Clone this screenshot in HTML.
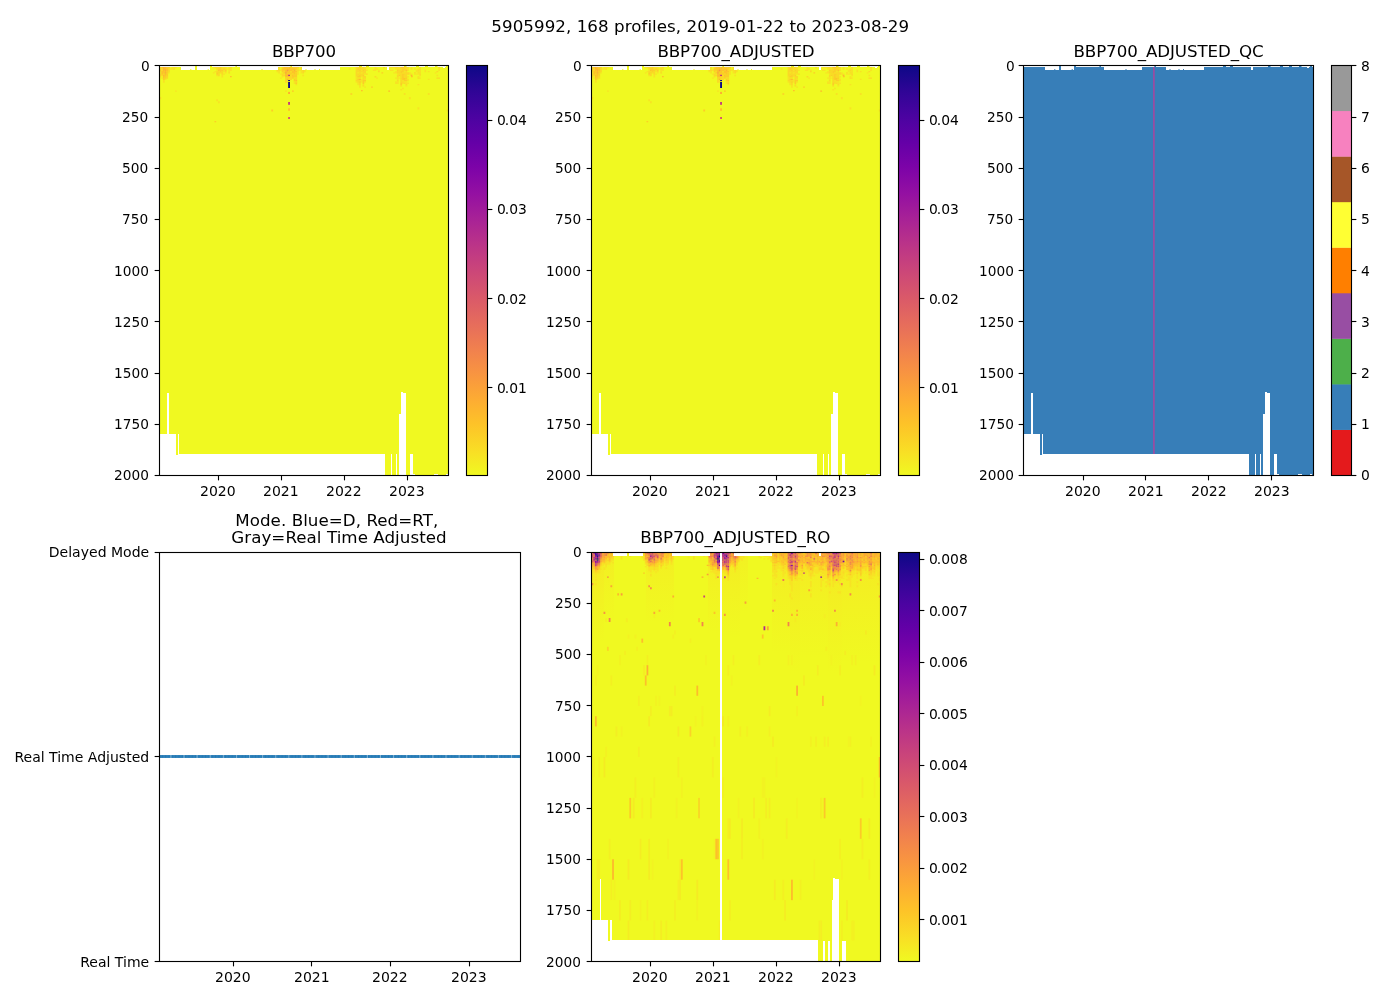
<!DOCTYPE html>
<html><head><meta charset="utf-8"><title>5905992 BBP700</title>
<style>html,body{margin:0;padding:0;background:#fff}svg{display:block}text{font-family:"DejaVu Sans","Liberation Sans",sans-serif;fill:#000}.t{font-size:13.89px}.d{font-size:13.7px}.y{font-size:14px}.m{font-size:14.03px}.T{font-size:16.67px;letter-spacing:-0.08px}.S{font-size:16.7px;letter-spacing:0.05px}</style></head><body>
<svg width="1400" height="1000" viewBox="0 0 1400 1000">
<defs><linearGradient id="pl" x1="0" y1="1" x2="0" y2="0"><stop offset="0.0000" stop-color="#f0f921"/><stop offset="0.0625" stop-color="#f9dd25"/><stop offset="0.1250" stop-color="#fdc328"/><stop offset="0.1875" stop-color="#fdab33"/><stop offset="0.2500" stop-color="#f89441"/><stop offset="0.3125" stop-color="#f07f4f"/><stop offset="0.3750" stop-color="#e56b5d"/><stop offset="0.4375" stop-color="#d9586a"/><stop offset="0.5000" stop-color="#cb4679"/><stop offset="0.5625" stop-color="#bb3488"/><stop offset="0.6250" stop-color="#a82296"/><stop offset="0.6875" stop-color="#9410a2"/><stop offset="0.7500" stop-color="#7d03a8"/><stop offset="0.8125" stop-color="#6400a7"/><stop offset="0.8750" stop-color="#4b03a1"/><stop offset="0.9375" stop-color="#2f0596"/><stop offset="1.0000" stop-color="#0d0887"/></linearGradient>
<linearGradient id="go" x1="0" y1="0" x2="0" y2="1"><stop offset="0" stop-color="#fdb42f" stop-opacity="1"/><stop offset="0.45" stop-color="#fdb42f" stop-opacity="0.45"/><stop offset="1" stop-color="#fdb42f" stop-opacity="0"/></linearGradient>
<linearGradient id="gp" x1="0" y1="0" x2="0" y2="1"><stop offset="0" stop-color="#d9586a" stop-opacity="1"/><stop offset="0.45" stop-color="#d9586a" stop-opacity="0.45"/><stop offset="1" stop-color="#d9586a" stop-opacity="0"/></linearGradient>
<linearGradient id="gv" x1="0" y1="0" x2="0" y2="1"><stop offset="0" stop-color="#9410a2" stop-opacity="1"/><stop offset="0.45" stop-color="#9410a2" stop-opacity="0.45"/><stop offset="1" stop-color="#9410a2" stop-opacity="0"/></linearGradient>
<linearGradient id="gy" x1="0" y1="0" x2="0" y2="1"><stop offset="0" stop-color="#f9dd25" stop-opacity="1"/><stop offset="0.45" stop-color="#f9dd25" stop-opacity="0.45"/><stop offset="1" stop-color="#f9dd25" stop-opacity="0"/></linearGradient>
</defs>
<rect width="1400" height="1000" fill="#fff"/>
<text class="S" x="700.2" y="32" text-anchor="middle">5905992, 168 profiles, 2019-01-22 to 2023-08-29</text>
<rect x="159.5" y="67" width="289" height="408.5" fill="#f0f921"/>
<path fill="#f7e324" d="M159.5 72.2h1.77v1.35h-1.77zM159.5 76.1h1.77v1.35h-1.77zM159.5 97.1h1.77v2.1h-1.77zM161.22 77.4h1.77v1.35h-1.77zM162.94 80h1.77v1.35h-1.77zM162.94 81.3h1.77v1.35h-1.77zM164.66 78.7h1.77v1.35h-1.77zM168.1 72.2h1.77v1.35h-1.77zM169.82 68.3h1.77v1.35h-1.77zM171.54 67h1.77v1.35h-1.77zM171.54 68.3h1.77v1.35h-1.77zM173.26 67h1.77v1.35h-1.77zM174.98 67h1.77v1.35h-1.77zM174.98 90.4h1.77v1.35h-1.77zM212.83 67h1.77v1.35h-1.77zM212.83 72.2h1.77v1.35h-1.77zM214.55 70.9h1.77v1.35h-1.77zM216.27 69.6h1.77v1.35h-1.77zM216.27 74.8h1.77v1.35h-1.77zM216.27 99.15h1.77v2.1h-1.77zM217.99 101.2h1.77v2.1h-1.77zM221.43 67h1.77v1.35h-1.77zM221.43 74.8h1.77v1.35h-1.77zM221.43 76.1h1.77v1.35h-1.77zM223.15 67h1.77v1.35h-1.77zM223.15 69.6h1.77v1.35h-1.77zM223.15 70.9h1.77v1.35h-1.77zM223.15 73.5h1.77v1.35h-1.77zM224.87 67h1.77v1.35h-1.77zM224.87 72.2h1.77v1.35h-1.77zM226.59 68.3h1.77v1.35h-1.77zM228.31 67h1.77v1.35h-1.77zM228.31 69.6h1.77v1.35h-1.77zM228.31 70.9h1.77v1.35h-1.77zM230.03 68.3h1.77v1.35h-1.77zM230.03 69.6h1.77v1.35h-1.77zM276.48 68.3h1.77v1.35h-1.77zM276.48 70.9h1.77v1.35h-1.77zM278.2 68.3h1.77v1.35h-1.77zM278.2 70.9h1.77v1.35h-1.77zM278.2 72.2h1.77v1.35h-1.77zM279.92 69.6h1.77v1.35h-1.77zM279.92 73.5h1.77v1.35h-1.77zM279.92 77.4h1.77v1.35h-1.77zM281.64 72.2h1.77v1.35h-1.77zM281.64 76.1h1.77v1.35h-1.77zM283.36 73.5h1.77v1.35h-1.77zM285.08 90.4h1.77v1.35h-1.77zM286.8 80h1.77v1.35h-1.77zM286.8 81.3h1.77v1.35h-1.77zM293.68 81.3h1.77v1.35h-1.77zM293.68 82.6h1.77v1.35h-1.77zM295.4 83.9h1.77v1.35h-1.77zM297.12 68.3h1.77v1.35h-1.77zM297.12 70.9h1.77v1.35h-1.77zM297.12 72.2h1.77v1.35h-1.77zM297.12 73.5h1.77v1.35h-1.77zM298.84 69.6h1.77v1.35h-1.77zM300.56 68.3h1.77v1.35h-1.77zM300.56 69.6h1.77v1.35h-1.77zM300.56 70.9h1.77v1.35h-1.77zM300.56 72.2h1.77v1.35h-1.77zM302.28 68.3h1.77v1.35h-1.77zM302.28 74.8h1.77v1.35h-1.77zM304 69.6h1.77v1.35h-1.77zM304 70.9h1.77v1.35h-1.77zM348.73 68.3h1.77v1.35h-1.77zM355.61 76.1h1.77v1.35h-1.77zM355.61 77.4h1.77v1.35h-1.77zM355.61 78.7h1.77v1.35h-1.77zM355.61 81.3h1.77v1.35h-1.77zM357.33 72.2h1.77v1.35h-1.77zM357.33 82.6h1.77v1.35h-1.77zM357.33 83.9h1.77v1.35h-1.77zM359.05 77.4h1.77v1.35h-1.77zM359.05 85.2h1.77v1.35h-1.77zM359.05 86.5h1.77v1.35h-1.77zM360.77 69.6h1.77v1.35h-1.77zM360.77 72.2h1.77v1.35h-1.77zM360.77 76.1h1.77v1.35h-1.77zM360.77 78.7h1.77v1.35h-1.77zM360.77 80h1.77v1.35h-1.77zM360.77 81.3h1.77v1.35h-1.77zM362.49 83.9h1.77v1.35h-1.77zM364.21 67h1.77v1.35h-1.77zM364.21 73.5h1.77v1.35h-1.77zM364.21 78.7h1.77v1.35h-1.77zM364.21 81.3h1.77v1.35h-1.77zM364.21 86.5h1.77v1.35h-1.77zM365.93 67h1.77v1.35h-1.77zM365.93 69.6h1.77v1.35h-1.77zM372.81 69.6h1.77v1.35h-1.77zM374.53 67h1.77v1.35h-1.77zM374.53 68.3h1.77v1.35h-1.77zM374.53 69.6h1.77v1.35h-1.77zM376.25 68.3h1.77v1.35h-1.77zM376.25 77.4h1.77v1.35h-1.77zM377.97 69.6h1.77v1.35h-1.77zM388.29 68.3h1.77v1.35h-1.77zM390.01 67h1.77v1.35h-1.77zM390.01 69.6h1.77v1.35h-1.77zM391.73 67h1.77v1.35h-1.77zM391.73 69.6h1.77v1.35h-1.77zM393.45 67h1.77v1.35h-1.77zM393.45 72.2h1.77v1.35h-1.77zM395.17 68.3h1.77v1.35h-1.77zM395.17 70.9h1.77v1.35h-1.77zM395.17 72.2h1.77v1.35h-1.77zM395.17 77.4h1.77v1.35h-1.77zM395.17 81.3h1.77v1.35h-1.77zM395.17 82.6h1.77v1.35h-1.77zM396.89 68.3h1.77v1.35h-1.77zM396.89 73.5h1.77v1.35h-1.77zM396.89 77.4h1.77v1.35h-1.77zM396.89 78.7h1.77v1.35h-1.77zM396.89 81.3h1.77v1.35h-1.77zM396.89 82.6h1.77v1.35h-1.77zM398.61 67h1.77v1.35h-1.77zM398.61 68.3h1.77v1.35h-1.77zM398.61 77.4h1.77v1.35h-1.77zM400.33 89.1h1.77v1.35h-1.77zM402.05 80h1.77v1.35h-1.77zM402.05 82.6h1.77v1.35h-1.77zM402.05 87.8h1.77v1.35h-1.77zM403.77 70.9h1.77v1.35h-1.77zM403.77 81.3h1.77v1.35h-1.77zM403.77 93h1.77v2.1h-1.77zM405.49 81.3h1.77v1.35h-1.77zM405.49 82.6h1.77v1.35h-1.77zM405.49 85.2h1.77v1.35h-1.77zM407.21 68.3h1.77v1.35h-1.77zM407.21 69.6h1.77v1.35h-1.77zM407.21 76.1h1.77v1.35h-1.77zM407.21 78.7h1.77v1.35h-1.77zM407.21 80h1.77v1.35h-1.77zM407.21 82.6h1.77v1.35h-1.77zM408.93 72.2h1.77v1.35h-1.77zM408.93 73.5h1.77v1.35h-1.77zM408.93 97.1h1.77v2.1h-1.77zM410.65 67h1.77v1.35h-1.77zM410.65 68.3h1.77v1.35h-1.77zM410.65 73.5h1.77v1.35h-1.77zM414.1 68.3h1.77v1.35h-1.77zM414.1 73.5h1.77v1.35h-1.77zM415.82 69.6h1.77v1.35h-1.77zM415.82 70.9h1.77v1.35h-1.77zM415.82 73.5h1.77v1.35h-1.77zM417.54 68.3h1.77v1.35h-1.77zM417.54 70.9h1.77v1.35h-1.77zM417.54 73.5h1.77v1.35h-1.77zM417.54 76.1h1.77v1.35h-1.77zM417.54 83.9h1.77v1.35h-1.77zM417.54 107.35h1.77v2.1h-1.77zM419.26 68.3h1.77v1.35h-1.77zM419.26 69.6h1.77v1.35h-1.77zM419.26 70.9h1.77v1.35h-1.77zM419.26 72.2h1.77v1.35h-1.77zM419.26 74.8h1.77v1.35h-1.77zM419.26 77.4h1.77v1.35h-1.77zM424.42 69.6h1.77v1.35h-1.77zM424.42 70.9h1.77v1.35h-1.77zM427.86 70.9h1.77v1.35h-1.77zM427.86 78.7h1.77v1.35h-1.77zM427.86 93h1.77v2.1h-1.77zM434.74 72.2h1.77v1.35h-1.77zM436.46 74.8h1.77v1.35h-1.77zM438.18 68.3h1.77v1.35h-1.77zM438.18 69.6h1.77v1.35h-1.77zM446.78 109.4h1.77v2.1h-1.77z"/>
<path fill="#fad826" d="M159.5 67h1.77v1.35h-1.77zM159.5 70.9h1.77v1.35h-1.77zM159.5 73.5h1.77v1.35h-1.77zM159.5 74.8h1.77v1.35h-1.77zM161.22 68.3h1.77v1.35h-1.77zM161.22 69.6h1.77v1.35h-1.77zM161.22 74.8h1.77v1.35h-1.77zM166.38 76.1h1.77v1.35h-1.77zM166.38 77.4h1.77v1.35h-1.77zM168.1 68.3h1.77v1.35h-1.77zM168.1 69.6h1.77v1.35h-1.77zM168.1 70.9h1.77v1.35h-1.77zM173.26 68.3h1.77v1.35h-1.77zM214.55 67h1.77v1.35h-1.77zM216.27 67h1.77v1.35h-1.77zM216.27 68.3h1.77v1.35h-1.77zM216.27 70.9h1.77v1.35h-1.77zM217.99 67h1.77v1.35h-1.77zM217.99 70.9h1.77v1.35h-1.77zM217.99 73.5h1.77v1.35h-1.77zM217.99 74.8h1.77v1.35h-1.77zM219.71 72.2h1.77v1.35h-1.77zM221.43 68.3h1.77v1.35h-1.77zM221.43 70.9h1.77v1.35h-1.77zM221.43 72.2h1.77v1.35h-1.77zM221.43 73.5h1.77v1.35h-1.77zM224.87 68.3h1.77v1.35h-1.77zM224.87 70.9h1.77v1.35h-1.77zM228.31 68.3h1.77v1.35h-1.77zM228.31 72.2h1.77v1.35h-1.77zM230.03 67h1.77v1.35h-1.77zM276.48 69.6h1.77v1.35h-1.77zM278.2 67h1.77v1.35h-1.77zM278.2 69.6h1.77v1.35h-1.77zM281.64 67h1.77v1.35h-1.77zM281.64 73.5h1.77v1.35h-1.77zM281.64 74.8h1.77v1.35h-1.77zM283.36 70.9h1.77v1.35h-1.77zM283.36 74.8h1.77v1.35h-1.77zM285.08 78.7h1.77v1.35h-1.77zM285.08 80h1.77v1.35h-1.77zM285.08 81.3h1.77v1.35h-1.77zM288.52 78.7h1.77v1.35h-1.77zM288.52 80h1.77v1.35h-1.77zM290.24 70.9h1.77v1.35h-1.77zM290.24 74.8h1.77v1.35h-1.77zM290.24 76.1h1.77v1.35h-1.77zM290.24 77.4h1.77v1.35h-1.77zM290.24 78.7h1.77v1.35h-1.77zM293.68 77.4h1.77v1.35h-1.77zM295.4 69.6h1.77v1.35h-1.77zM295.4 77.4h1.77v1.35h-1.77zM295.4 78.7h1.77v1.35h-1.77zM295.4 81.3h1.77v1.35h-1.77zM297.12 69.6h1.77v1.35h-1.77zM300.56 67h1.77v1.35h-1.77zM302.28 67h1.77v1.35h-1.77zM302.28 69.6h1.77v1.35h-1.77zM302.28 70.9h1.77v1.35h-1.77zM302.28 72.2h1.77v1.35h-1.77zM350.45 93h1.77v2.1h-1.77zM355.61 67h1.77v1.35h-1.77zM355.61 68.3h1.77v1.35h-1.77zM355.61 69.6h1.77v1.35h-1.77zM355.61 70.9h1.77v1.35h-1.77zM355.61 72.2h1.77v1.35h-1.77zM355.61 73.5h1.77v1.35h-1.77zM355.61 74.8h1.77v1.35h-1.77zM355.61 80h1.77v1.35h-1.77zM357.33 67h1.77v1.35h-1.77zM357.33 69.6h1.77v1.35h-1.77zM357.33 70.9h1.77v1.35h-1.77zM357.33 74.8h1.77v1.35h-1.77zM357.33 77.4h1.77v1.35h-1.77zM357.33 80h1.77v1.35h-1.77zM357.33 81.3h1.77v1.35h-1.77zM359.05 68.3h1.77v1.35h-1.77zM359.05 70.9h1.77v1.35h-1.77zM359.05 72.2h1.77v1.35h-1.77zM359.05 73.5h1.77v1.35h-1.77zM359.05 80h1.77v1.35h-1.77zM359.05 82.6h1.77v1.35h-1.77zM359.05 83.9h1.77v1.35h-1.77zM360.77 67h1.77v1.35h-1.77zM360.77 68.3h1.77v1.35h-1.77zM360.77 70.9h1.77v1.35h-1.77zM360.77 73.5h1.77v1.35h-1.77zM360.77 74.8h1.77v1.35h-1.77zM362.49 68.3h1.77v1.35h-1.77zM362.49 70.9h1.77v1.35h-1.77zM362.49 72.2h1.77v1.35h-1.77zM362.49 73.5h1.77v1.35h-1.77zM362.49 76.1h1.77v1.35h-1.77zM362.49 77.4h1.77v1.35h-1.77zM362.49 78.7h1.77v1.35h-1.77zM362.49 85.2h1.77v1.35h-1.77zM364.21 68.3h1.77v1.35h-1.77zM364.21 69.6h1.77v1.35h-1.77zM364.21 70.9h1.77v1.35h-1.77zM364.21 72.2h1.77v1.35h-1.77zM364.21 76.1h1.77v1.35h-1.77zM364.21 77.4h1.77v1.35h-1.77zM365.93 73.5h1.77v1.35h-1.77zM374.53 76.1h1.77v1.35h-1.77zM377.97 70.9h1.77v1.35h-1.77zM383.13 67h1.77v1.35h-1.77zM395.17 67h1.77v1.35h-1.77zM396.89 67h1.77v1.35h-1.77zM396.89 70.9h1.77v1.35h-1.77zM396.89 74.8h1.77v1.35h-1.77zM396.89 76.1h1.77v1.35h-1.77zM396.89 80h1.77v1.35h-1.77zM398.61 69.6h1.77v1.35h-1.77zM398.61 70.9h1.77v1.35h-1.77zM398.61 72.2h1.77v1.35h-1.77zM398.61 73.5h1.77v1.35h-1.77zM400.33 68.3h1.77v1.35h-1.77zM400.33 69.6h1.77v1.35h-1.77zM400.33 73.5h1.77v1.35h-1.77zM400.33 74.8h1.77v1.35h-1.77zM400.33 76.1h1.77v1.35h-1.77zM400.33 78.7h1.77v1.35h-1.77zM400.33 80h1.77v1.35h-1.77zM400.33 81.3h1.77v1.35h-1.77zM400.33 85.2h1.77v1.35h-1.77zM402.05 72.2h1.77v1.35h-1.77zM402.05 81.3h1.77v1.35h-1.77zM403.77 69.6h1.77v1.35h-1.77zM403.77 72.2h1.77v1.35h-1.77zM403.77 74.8h1.77v1.35h-1.77zM403.77 76.1h1.77v1.35h-1.77zM403.77 82.6h1.77v1.35h-1.77zM405.49 68.3h1.77v1.35h-1.77zM405.49 70.9h1.77v1.35h-1.77zM405.49 72.2h1.77v1.35h-1.77zM405.49 73.5h1.77v1.35h-1.77zM405.49 74.8h1.77v1.35h-1.77zM405.49 76.1h1.77v1.35h-1.77zM405.49 78.7h1.77v1.35h-1.77zM405.49 83.9h1.77v1.35h-1.77zM407.21 67h1.77v1.35h-1.77zM407.21 72.2h1.77v1.35h-1.77zM407.21 73.5h1.77v1.35h-1.77zM414.1 72.2h1.77v1.35h-1.77zM417.54 69.6h1.77v1.35h-1.77zM417.54 72.2h1.77v1.35h-1.77zM417.54 77.4h1.77v1.35h-1.77zM419.26 67h1.77v1.35h-1.77zM419.26 73.5h1.77v1.35h-1.77zM436.46 70.9h1.77v1.35h-1.77zM436.46 77.4h1.77v1.35h-1.77zM438.18 67h1.77v1.35h-1.77zM438.18 77.4h1.77v1.35h-1.77z"/>
<path fill="#fbcd27" d="M159.5 68.3h1.77v1.35h-1.77zM159.5 69.6h1.77v1.35h-1.77zM162.94 73.5h1.77v1.35h-1.77zM162.94 78.7h1.77v1.35h-1.77zM164.66 76.1h1.77v1.35h-1.77zM164.66 77.4h1.77v1.35h-1.77zM166.38 67h1.77v1.35h-1.77zM166.38 70.9h1.77v1.35h-1.77zM166.38 73.5h1.77v1.35h-1.77zM166.38 74.8h1.77v1.35h-1.77zM168.1 67h1.77v1.35h-1.77zM216.27 72.2h1.77v1.35h-1.77zM216.27 73.5h1.77v1.35h-1.77zM217.99 68.3h1.77v1.35h-1.77zM217.99 72.2h1.77v1.35h-1.77zM219.71 67h1.77v1.35h-1.77zM219.71 68.3h1.77v1.35h-1.77zM219.71 69.6h1.77v1.35h-1.77zM219.71 70.9h1.77v1.35h-1.77zM221.43 69.6h1.77v1.35h-1.77zM223.15 68.3h1.77v1.35h-1.77zM224.87 69.6h1.77v1.35h-1.77zM271.32 109.4h1.77v2.1h-1.77zM281.64 69.6h1.77v1.35h-1.77zM281.64 70.9h1.77v1.35h-1.77zM283.36 69.6h1.77v1.35h-1.77zM285.08 77.4h1.77v1.35h-1.77zM286.8 77.4h1.77v1.35h-1.77zM288.52 74.8h1.77v1.35h-1.77zM288.52 77.4h1.77v1.35h-1.77zM290.24 72.2h1.77v1.35h-1.77zM290.24 73.5h1.77v1.35h-1.77zM291.96 67h1.77v1.35h-1.77zM291.96 69.6h1.77v1.35h-1.77zM291.96 73.5h1.77v1.35h-1.77zM291.96 76.1h1.77v1.35h-1.77zM291.96 77.4h1.77v1.35h-1.77zM293.68 67h1.77v1.35h-1.77zM293.68 74.8h1.77v1.35h-1.77zM293.68 76.1h1.77v1.35h-1.77zM293.68 78.7h1.77v1.35h-1.77zM293.68 80h1.77v1.35h-1.77zM295.4 67h1.77v1.35h-1.77zM295.4 68.3h1.77v1.35h-1.77zM295.4 72.2h1.77v1.35h-1.77zM295.4 73.5h1.77v1.35h-1.77zM295.4 74.8h1.77v1.35h-1.77zM295.4 76.1h1.77v1.35h-1.77zM295.4 82.6h1.77v1.35h-1.77zM297.12 67h1.77v1.35h-1.77zM357.33 73.5h1.77v1.35h-1.77zM357.33 76.1h1.77v1.35h-1.77zM357.33 78.7h1.77v1.35h-1.77zM359.05 69.6h1.77v1.35h-1.77zM359.05 74.8h1.77v1.35h-1.77zM359.05 76.1h1.77v1.35h-1.77zM359.05 81.3h1.77v1.35h-1.77zM362.49 67h1.77v1.35h-1.77zM362.49 69.6h1.77v1.35h-1.77zM362.49 74.8h1.77v1.35h-1.77zM362.49 80h1.77v1.35h-1.77zM362.49 81.3h1.77v1.35h-1.77zM362.49 82.6h1.77v1.35h-1.77zM364.21 80h1.77v1.35h-1.77zM371.09 86.5h1.77v1.35h-1.77zM381.41 72.2h1.77v1.35h-1.77zM396.89 69.6h1.77v1.35h-1.77zM396.89 72.2h1.77v1.35h-1.77zM398.61 74.8h1.77v1.35h-1.77zM400.33 70.9h1.77v1.35h-1.77zM400.33 72.2h1.77v1.35h-1.77zM400.33 77.4h1.77v1.35h-1.77zM400.33 82.6h1.77v1.35h-1.77zM400.33 83.9h1.77v1.35h-1.77zM402.05 68.3h1.77v1.35h-1.77zM402.05 69.6h1.77v1.35h-1.77zM402.05 70.9h1.77v1.35h-1.77zM402.05 73.5h1.77v1.35h-1.77zM402.05 74.8h1.77v1.35h-1.77zM402.05 76.1h1.77v1.35h-1.77zM402.05 77.4h1.77v1.35h-1.77zM402.05 78.7h1.77v1.35h-1.77zM403.77 68.3h1.77v1.35h-1.77zM403.77 73.5h1.77v1.35h-1.77zM403.77 77.4h1.77v1.35h-1.77zM403.77 78.7h1.77v1.35h-1.77zM403.77 80h1.77v1.35h-1.77zM405.49 67h1.77v1.35h-1.77zM405.49 80h1.77v1.35h-1.77z"/>
<path fill="#fdc328" d="M161.22 67h1.77v1.35h-1.77zM161.22 70.9h1.77v1.35h-1.77zM161.22 72.2h1.77v1.35h-1.77zM161.22 73.5h1.77v1.35h-1.77zM162.94 70.9h1.77v1.35h-1.77zM162.94 76.1h1.77v1.35h-1.77zM162.94 77.4h1.77v1.35h-1.77zM164.66 74.8h1.77v1.35h-1.77zM166.38 69.6h1.77v1.35h-1.77zM166.38 72.2h1.77v1.35h-1.77zM217.99 69.6h1.77v1.35h-1.77zM281.64 68.3h1.77v1.35h-1.77zM283.36 67h1.77v1.35h-1.77zM283.36 68.3h1.77v1.35h-1.77zM283.36 72.2h1.77v1.35h-1.77zM285.08 67h1.77v1.35h-1.77zM285.08 68.3h1.77v1.35h-1.77zM285.08 76.1h1.77v1.35h-1.77zM286.8 67h1.77v1.35h-1.77zM286.8 72.2h1.77v1.35h-1.77zM286.8 76.1h1.77v1.35h-1.77zM288.52 69.6h1.77v1.35h-1.77zM288.52 70.9h1.77v1.35h-1.77zM288.52 72.2h1.77v1.35h-1.77zM288.52 76.1h1.77v1.35h-1.77zM290.24 68.3h1.77v1.35h-1.77zM290.24 69.6h1.77v1.35h-1.77zM291.96 70.9h1.77v1.35h-1.77zM291.96 72.2h1.77v1.35h-1.77zM291.96 74.8h1.77v1.35h-1.77zM291.96 90.4h1.77v1.35h-1.77zM293.68 70.9h1.77v1.35h-1.77zM293.68 72.2h1.77v1.35h-1.77zM293.68 73.5h1.77v1.35h-1.77zM295.4 70.9h1.77v1.35h-1.77zM295.4 80h1.77v1.35h-1.77zM357.33 68.3h1.77v1.35h-1.77zM400.33 67h1.77v1.35h-1.77zM402.05 67h1.77v1.35h-1.77zM403.77 67h1.77v1.35h-1.77zM405.49 69.6h1.77v1.35h-1.77zM405.49 77.4h1.77v1.35h-1.77z"/>
<path fill="#fdb92c" d="M162.94 69.6h1.77v1.35h-1.77zM162.94 72.2h1.77v1.35h-1.77zM162.94 74.8h1.77v1.35h-1.77zM164.66 67h1.77v1.35h-1.77zM164.66 70.9h1.77v1.35h-1.77zM166.38 68.3h1.77v1.35h-1.77zM285.08 69.6h1.77v1.35h-1.77zM285.08 70.9h1.77v1.35h-1.77zM285.08 74.8h1.77v1.35h-1.77zM286.8 70.9h1.77v1.35h-1.77zM286.8 73.5h1.77v1.35h-1.77zM286.8 74.8h1.77v1.35h-1.77zM286.8 78.7h1.77v1.35h-1.77zM288.52 67h1.77v1.35h-1.77zM288.52 68.3h1.77v1.35h-1.77zM288.52 73.5h1.77v1.35h-1.77zM290.24 67h1.77v1.35h-1.77zM291.96 68.3h1.77v1.35h-1.77zM293.68 68.3h1.77v1.35h-1.77zM359.05 67h1.77v1.35h-1.77zM359.05 78.7h1.77v1.35h-1.77zM388.29 90.4h1.77v1.35h-1.77zM410.65 74.8h1.77v1.35h-1.77z"/>
<path fill="#fdb031" d="M162.94 67h1.77v1.35h-1.77zM162.94 68.3h1.77v1.35h-1.77zM164.66 68.3h1.77v1.35h-1.77zM164.66 69.6h1.77v1.35h-1.77zM164.66 73.5h1.77v1.35h-1.77zM285.08 73.5h1.77v1.35h-1.77zM286.8 68.3h1.77v1.35h-1.77zM293.68 69.6h1.77v1.35h-1.77z"/>
<path fill="#fca636" d="M164.66 72.2h1.77v1.35h-1.77z"/>
<path fill="#fa9d3b" d="M285.08 72.2h1.77v1.35h-1.77z"/>
<path fill="#f89441" d="M286.8 69.6h1.77v1.35h-1.77z"/>
<rect x="288.1" y="74.8" width="1.9" height="1.2" fill="#bd3786"/>
<rect x="288.1" y="80" width="1.9" height="1.1" fill="#0d0887"/>
<rect x="288.1" y="82" width="1.9" height="6" fill="#0d0887"/>
<rect x="288.1" y="91.9" width="1.9" height="2.1" fill="#fdae32"/>
<rect x="288.1" y="102" width="1.9" height="2.8" fill="#c43e7f"/>
<rect x="288.1" y="108.3" width="1.9" height="2.5" fill="#fdc328"/>
<rect x="288.1" y="117" width="1.9" height="2" fill="#d6556d"/>
<rect x="230" y="76" width="1.7" height="1.3" fill="#fdc328"/>
<rect x="214.5" y="121" width="1.7" height="1.3" fill="#fbd024"/>
<rect x="361" y="90" width="1.7" height="1.3" fill="#fdc328"/>
<rect x="403.5" y="78" width="1.7" height="1.3" fill="#fdc328"/>
<rect x="411" y="76" width="1.7" height="1.3" fill="#fdc328"/>
<rect x="180.9" y="66" width="14.1" height="4" fill="#fff" shape-rendering="crispEdges"/>
<rect x="197" y="66" width="13" height="4" fill="#fff" shape-rendering="crispEdges"/>
<rect x="240" y="66" width="38" height="4" fill="#fff" shape-rendering="crispEdges"/>
<rect x="301.8" y="66" width="38.2" height="4" fill="#fff" shape-rendering="crispEdges"/>
<rect x="387" y="66" width="2" height="4" fill="#fff" shape-rendering="crispEdges"/>
<rect x="442.9" y="66" width="2" height="2" fill="#fff" shape-rendering="crispEdges"/>
<rect x="195" y="66" width="2" height="1.2" fill="#f0f921"/>
<rect x="210" y="66" width="2" height="1.2" fill="#f0f921"/>
<rect x="235.4" y="66" width="1.6" height="1.2" fill="#f0f921"/>
<rect x="290.3" y="66" width="1.7" height="1.2" fill="#f0f921"/>
<rect x="359" y="66" width="3" height="1.2" fill="#f0f921"/>
<rect x="366" y="66" width="3" height="1.2" fill="#f0f921"/>
<rect x="404" y="66" width="2.5" height="1.2" fill="#f0f921"/>
<rect x="416" y="66" width="3" height="1.2" fill="#f0f921"/>
<rect x="425" y="66" width="3" height="1.2" fill="#f0f921"/>
<rect x="435" y="66" width="2.5" height="1.2" fill="#f0f921"/>
<rect x="446" y="66" width="2" height="1.2" fill="#f0f921"/>
<rect x="190.3" y="69" width="1" height="1.2" fill="#f0f921"/>
<rect x="207.7" y="69" width="1" height="1.2" fill="#f0f921"/>
<rect x="261.5" y="69" width="1" height="1.2" fill="#f0f921"/>
<rect x="305.5" y="69" width="1" height="1.2" fill="#f0f921"/>
<rect x="314.5" y="69" width="1" height="1.2" fill="#f0f921"/>
<rect x="319" y="69" width="1" height="1.2" fill="#f0f921"/>
<rect x="160" y="433.9" width="16.1" height="41.1" fill="#fff" shape-rendering="crispEdges"/>
<rect x="166.9" y="393.1" width="2.2" height="41.1" fill="#fff" shape-rendering="crispEdges"/>
<rect x="176.1" y="454.8" width="1.8" height="20.2" fill="#fff" shape-rendering="crispEdges"/>
<rect x="177.9" y="433.9" width="1.1" height="41.1" fill="#fff" shape-rendering="crispEdges"/>
<rect x="179" y="454" width="206" height="21" fill="#fff" shape-rendering="crispEdges"/>
<rect x="390.9" y="454" width="1.1" height="21" fill="#fff" shape-rendering="crispEdges"/>
<rect x="395.9" y="454" width="1.1" height="21" fill="#fff" shape-rendering="crispEdges"/>
<rect x="398.9" y="414" width="2" height="61" fill="#fff" shape-rendering="crispEdges"/>
<rect x="400.9" y="392.1" width="2.1" height="82.9" fill="#fff" shape-rendering="crispEdges"/>
<rect x="403" y="393.3" width="3.1" height="81.7" fill="#fff" shape-rendering="crispEdges"/>
<rect x="410" y="454" width="3" height="21" fill="#fff" shape-rendering="crispEdges"/>
<rect x="413" y="474" width="2" height="1" fill="#fff" shape-rendering="crispEdges"/>
<rect x="434" y="474" width="4" height="1" fill="#fff" shape-rendering="crispEdges"/>
<rect x="446" y="474" width="2" height="1" fill="#fff" shape-rendering="crispEdges"/>
<rect x="159.5" y="65.5" width="289" height="410" fill="none" stroke="#000" stroke-width="1.11"/>
<path d="M154.64 65.5L159.5 65.5" stroke="#000" stroke-width="1.11"/>
<text class="d" x="141" y="71">0</text>
<path d="M154.64 117.5L159.5 117.5" stroke="#000" stroke-width="1.11"/>
<text class="d" x="122" y="122">250</text>
<path d="M154.64 168.5L159.5 168.5" stroke="#000" stroke-width="1.11"/>
<text class="d" x="122" y="173">500</text>
<path d="M154.64 219.5L159.5 219.5" stroke="#000" stroke-width="1.11"/>
<text class="d" x="122" y="224">750</text>
<path d="M154.64 270.5L159.5 270.5" stroke="#000" stroke-width="1.11"/>
<text class="d" x="114" y="276">1000</text>
<path d="M154.64 321.5L159.5 321.5" stroke="#000" stroke-width="1.11"/>
<text class="d" x="114" y="327">1250</text>
<path d="M154.64 373.5L159.5 373.5" stroke="#000" stroke-width="1.11"/>
<text class="d" x="114" y="378">1500</text>
<path d="M154.64 424.5L159.5 424.5" stroke="#000" stroke-width="1.11"/>
<text class="d" x="114" y="429">1750</text>
<path d="M154.64 475.5L159.5 475.5" stroke="#000" stroke-width="1.11"/>
<text class="d" x="114" y="480">2000</text>
<path d="M218.5 475.5L218.5 480.36" stroke="#000" stroke-width="1.11"/>
<text class="y" x="200" y="496">2020</text>
<path d="M281.5 475.5L281.5 480.36" stroke="#000" stroke-width="1.11"/>
<text class="y" x="263" y="496">2021</text>
<path d="M344.5 475.5L344.5 480.36" stroke="#000" stroke-width="1.11"/>
<text class="y" x="326" y="496">2022</text>
<path d="M407.5 475.5L407.5 480.36" stroke="#000" stroke-width="1.11"/>
<text class="y" x="389" y="496">2023</text>
<text class="T" x="304" y="57" text-anchor="middle">BBP700</text>
<rect x="466.5" y="65.5" width="21" height="410" fill="url(#pl)"/>
<rect x="466.5" y="65.5" width="21" height="410" fill="none" stroke="#000" stroke-width="1.11"/>
<path d="M487.5 387.5L492.36 387.5" stroke="#000" stroke-width="1.11"/>
<text class="t" x="497" y="393">0<tspan dx="-1">.</tspan>01</text>
<path d="M487.5 298.5L492.36 298.5" stroke="#000" stroke-width="1.11"/>
<text class="t" x="497" y="304">0<tspan dx="-1">.</tspan>02</text>
<path d="M487.5 209.5L492.36 209.5" stroke="#000" stroke-width="1.11"/>
<text class="t" x="497" y="214">0<tspan dx="-1">.</tspan>03</text>
<path d="M487.5 120.5L492.36 120.5" stroke="#000" stroke-width="1.11"/>
<text class="t" x="497" y="125">0<tspan dx="-1">.</tspan>04</text>
<rect x="591.5" y="67" width="289" height="408.5" fill="#f0f921"/>
<path fill="#f7e324" d="M591.5 72.2h1.77v1.35h-1.77zM591.5 76.1h1.77v1.35h-1.77zM591.5 97.1h1.77v2.1h-1.77zM593.22 77.4h1.77v1.35h-1.77zM594.94 80h1.77v1.35h-1.77zM594.94 81.3h1.77v1.35h-1.77zM596.66 78.7h1.77v1.35h-1.77zM600.1 72.2h1.77v1.35h-1.77zM601.82 68.3h1.77v1.35h-1.77zM603.54 67h1.77v1.35h-1.77zM603.54 68.3h1.77v1.35h-1.77zM605.26 67h1.77v1.35h-1.77zM606.98 67h1.77v1.35h-1.77zM606.98 90.4h1.77v1.35h-1.77zM644.83 67h1.77v1.35h-1.77zM644.83 72.2h1.77v1.35h-1.77zM646.55 70.9h1.77v1.35h-1.77zM648.27 69.6h1.77v1.35h-1.77zM648.27 74.8h1.77v1.35h-1.77zM648.27 99.15h1.77v2.1h-1.77zM649.99 101.2h1.77v2.1h-1.77zM653.43 67h1.77v1.35h-1.77zM653.43 74.8h1.77v1.35h-1.77zM653.43 76.1h1.77v1.35h-1.77zM655.15 67h1.77v1.35h-1.77zM655.15 69.6h1.77v1.35h-1.77zM655.15 70.9h1.77v1.35h-1.77zM655.15 73.5h1.77v1.35h-1.77zM656.87 67h1.77v1.35h-1.77zM656.87 72.2h1.77v1.35h-1.77zM658.59 68.3h1.77v1.35h-1.77zM660.31 67h1.77v1.35h-1.77zM660.31 69.6h1.77v1.35h-1.77zM660.31 70.9h1.77v1.35h-1.77zM662.03 68.3h1.77v1.35h-1.77zM662.03 69.6h1.77v1.35h-1.77zM708.48 68.3h1.77v1.35h-1.77zM708.48 70.9h1.77v1.35h-1.77zM710.2 68.3h1.77v1.35h-1.77zM710.2 70.9h1.77v1.35h-1.77zM710.2 72.2h1.77v1.35h-1.77zM711.92 69.6h1.77v1.35h-1.77zM711.92 73.5h1.77v1.35h-1.77zM711.92 77.4h1.77v1.35h-1.77zM713.64 72.2h1.77v1.35h-1.77zM713.64 76.1h1.77v1.35h-1.77zM715.36 73.5h1.77v1.35h-1.77zM717.08 90.4h1.77v1.35h-1.77zM718.8 80h1.77v1.35h-1.77zM718.8 81.3h1.77v1.35h-1.77zM725.68 81.3h1.77v1.35h-1.77zM725.68 82.6h1.77v1.35h-1.77zM727.4 83.9h1.77v1.35h-1.77zM729.12 68.3h1.77v1.35h-1.77zM729.12 70.9h1.77v1.35h-1.77zM729.12 72.2h1.77v1.35h-1.77zM729.12 73.5h1.77v1.35h-1.77zM730.84 69.6h1.77v1.35h-1.77zM732.56 68.3h1.77v1.35h-1.77zM732.56 69.6h1.77v1.35h-1.77zM732.56 70.9h1.77v1.35h-1.77zM732.56 72.2h1.77v1.35h-1.77zM734.28 68.3h1.77v1.35h-1.77zM734.28 74.8h1.77v1.35h-1.77zM736 69.6h1.77v1.35h-1.77zM736 70.9h1.77v1.35h-1.77zM780.73 68.3h1.77v1.35h-1.77zM787.61 76.1h1.77v1.35h-1.77zM787.61 77.4h1.77v1.35h-1.77zM787.61 78.7h1.77v1.35h-1.77zM787.61 81.3h1.77v1.35h-1.77zM789.33 72.2h1.77v1.35h-1.77zM789.33 82.6h1.77v1.35h-1.77zM789.33 83.9h1.77v1.35h-1.77zM791.05 77.4h1.77v1.35h-1.77zM791.05 85.2h1.77v1.35h-1.77zM791.05 86.5h1.77v1.35h-1.77zM792.77 69.6h1.77v1.35h-1.77zM792.77 72.2h1.77v1.35h-1.77zM792.77 76.1h1.77v1.35h-1.77zM792.77 78.7h1.77v1.35h-1.77zM792.77 80h1.77v1.35h-1.77zM792.77 81.3h1.77v1.35h-1.77zM794.49 83.9h1.77v1.35h-1.77zM796.21 67h1.77v1.35h-1.77zM796.21 73.5h1.77v1.35h-1.77zM796.21 78.7h1.77v1.35h-1.77zM796.21 81.3h1.77v1.35h-1.77zM796.21 86.5h1.77v1.35h-1.77zM797.93 67h1.77v1.35h-1.77zM797.93 69.6h1.77v1.35h-1.77zM804.81 69.6h1.77v1.35h-1.77zM806.53 67h1.77v1.35h-1.77zM806.53 68.3h1.77v1.35h-1.77zM806.53 69.6h1.77v1.35h-1.77zM808.25 68.3h1.77v1.35h-1.77zM808.25 77.4h1.77v1.35h-1.77zM809.97 69.6h1.77v1.35h-1.77zM820.29 68.3h1.77v1.35h-1.77zM822.01 67h1.77v1.35h-1.77zM822.01 69.6h1.77v1.35h-1.77zM823.73 67h1.77v1.35h-1.77zM823.73 69.6h1.77v1.35h-1.77zM825.45 67h1.77v1.35h-1.77zM825.45 72.2h1.77v1.35h-1.77zM827.17 68.3h1.77v1.35h-1.77zM827.17 70.9h1.77v1.35h-1.77zM827.17 72.2h1.77v1.35h-1.77zM827.17 77.4h1.77v1.35h-1.77zM827.17 81.3h1.77v1.35h-1.77zM827.17 82.6h1.77v1.35h-1.77zM828.89 68.3h1.77v1.35h-1.77zM828.89 73.5h1.77v1.35h-1.77zM828.89 77.4h1.77v1.35h-1.77zM828.89 78.7h1.77v1.35h-1.77zM828.89 81.3h1.77v1.35h-1.77zM828.89 82.6h1.77v1.35h-1.77zM830.61 67h1.77v1.35h-1.77zM830.61 68.3h1.77v1.35h-1.77zM830.61 77.4h1.77v1.35h-1.77zM832.33 89.1h1.77v1.35h-1.77zM834.05 80h1.77v1.35h-1.77zM834.05 82.6h1.77v1.35h-1.77zM834.05 87.8h1.77v1.35h-1.77zM835.77 70.9h1.77v1.35h-1.77zM835.77 81.3h1.77v1.35h-1.77zM835.77 93h1.77v2.1h-1.77zM837.49 81.3h1.77v1.35h-1.77zM837.49 82.6h1.77v1.35h-1.77zM837.49 85.2h1.77v1.35h-1.77zM839.21 68.3h1.77v1.35h-1.77zM839.21 69.6h1.77v1.35h-1.77zM839.21 76.1h1.77v1.35h-1.77zM839.21 78.7h1.77v1.35h-1.77zM839.21 80h1.77v1.35h-1.77zM839.21 82.6h1.77v1.35h-1.77zM840.93 72.2h1.77v1.35h-1.77zM840.93 73.5h1.77v1.35h-1.77zM840.93 97.1h1.77v2.1h-1.77zM842.65 67h1.77v1.35h-1.77zM842.65 68.3h1.77v1.35h-1.77zM842.65 73.5h1.77v1.35h-1.77zM846.1 68.3h1.77v1.35h-1.77zM846.1 73.5h1.77v1.35h-1.77zM847.82 69.6h1.77v1.35h-1.77zM847.82 70.9h1.77v1.35h-1.77zM847.82 73.5h1.77v1.35h-1.77zM849.54 68.3h1.77v1.35h-1.77zM849.54 70.9h1.77v1.35h-1.77zM849.54 73.5h1.77v1.35h-1.77zM849.54 76.1h1.77v1.35h-1.77zM849.54 83.9h1.77v1.35h-1.77zM849.54 107.35h1.77v2.1h-1.77zM851.26 68.3h1.77v1.35h-1.77zM851.26 69.6h1.77v1.35h-1.77zM851.26 70.9h1.77v1.35h-1.77zM851.26 72.2h1.77v1.35h-1.77zM851.26 74.8h1.77v1.35h-1.77zM851.26 77.4h1.77v1.35h-1.77zM856.42 69.6h1.77v1.35h-1.77zM856.42 70.9h1.77v1.35h-1.77zM859.86 70.9h1.77v1.35h-1.77zM859.86 78.7h1.77v1.35h-1.77zM859.86 93h1.77v2.1h-1.77zM866.74 72.2h1.77v1.35h-1.77zM868.46 74.8h1.77v1.35h-1.77zM870.18 68.3h1.77v1.35h-1.77zM870.18 69.6h1.77v1.35h-1.77zM878.78 109.4h1.77v2.1h-1.77z"/>
<path fill="#fad826" d="M591.5 67h1.77v1.35h-1.77zM591.5 70.9h1.77v1.35h-1.77zM591.5 73.5h1.77v1.35h-1.77zM591.5 74.8h1.77v1.35h-1.77zM593.22 68.3h1.77v1.35h-1.77zM593.22 69.6h1.77v1.35h-1.77zM593.22 74.8h1.77v1.35h-1.77zM598.38 76.1h1.77v1.35h-1.77zM598.38 77.4h1.77v1.35h-1.77zM600.1 68.3h1.77v1.35h-1.77zM600.1 69.6h1.77v1.35h-1.77zM600.1 70.9h1.77v1.35h-1.77zM605.26 68.3h1.77v1.35h-1.77zM646.55 67h1.77v1.35h-1.77zM648.27 67h1.77v1.35h-1.77zM648.27 68.3h1.77v1.35h-1.77zM648.27 70.9h1.77v1.35h-1.77zM649.99 67h1.77v1.35h-1.77zM649.99 70.9h1.77v1.35h-1.77zM649.99 73.5h1.77v1.35h-1.77zM649.99 74.8h1.77v1.35h-1.77zM651.71 72.2h1.77v1.35h-1.77zM653.43 68.3h1.77v1.35h-1.77zM653.43 70.9h1.77v1.35h-1.77zM653.43 72.2h1.77v1.35h-1.77zM653.43 73.5h1.77v1.35h-1.77zM656.87 68.3h1.77v1.35h-1.77zM656.87 70.9h1.77v1.35h-1.77zM660.31 68.3h1.77v1.35h-1.77zM660.31 72.2h1.77v1.35h-1.77zM662.03 67h1.77v1.35h-1.77zM708.48 69.6h1.77v1.35h-1.77zM710.2 67h1.77v1.35h-1.77zM710.2 69.6h1.77v1.35h-1.77zM713.64 67h1.77v1.35h-1.77zM713.64 73.5h1.77v1.35h-1.77zM713.64 74.8h1.77v1.35h-1.77zM715.36 70.9h1.77v1.35h-1.77zM715.36 74.8h1.77v1.35h-1.77zM717.08 78.7h1.77v1.35h-1.77zM717.08 80h1.77v1.35h-1.77zM717.08 81.3h1.77v1.35h-1.77zM720.52 78.7h1.77v1.35h-1.77zM720.52 80h1.77v1.35h-1.77zM722.24 70.9h1.77v1.35h-1.77zM722.24 74.8h1.77v1.35h-1.77zM722.24 76.1h1.77v1.35h-1.77zM722.24 77.4h1.77v1.35h-1.77zM722.24 78.7h1.77v1.35h-1.77zM725.68 77.4h1.77v1.35h-1.77zM727.4 69.6h1.77v1.35h-1.77zM727.4 77.4h1.77v1.35h-1.77zM727.4 78.7h1.77v1.35h-1.77zM727.4 81.3h1.77v1.35h-1.77zM729.12 69.6h1.77v1.35h-1.77zM732.56 67h1.77v1.35h-1.77zM734.28 67h1.77v1.35h-1.77zM734.28 69.6h1.77v1.35h-1.77zM734.28 70.9h1.77v1.35h-1.77zM734.28 72.2h1.77v1.35h-1.77zM782.45 93h1.77v2.1h-1.77zM787.61 67h1.77v1.35h-1.77zM787.61 68.3h1.77v1.35h-1.77zM787.61 69.6h1.77v1.35h-1.77zM787.61 70.9h1.77v1.35h-1.77zM787.61 72.2h1.77v1.35h-1.77zM787.61 73.5h1.77v1.35h-1.77zM787.61 74.8h1.77v1.35h-1.77zM787.61 80h1.77v1.35h-1.77zM789.33 67h1.77v1.35h-1.77zM789.33 69.6h1.77v1.35h-1.77zM789.33 70.9h1.77v1.35h-1.77zM789.33 74.8h1.77v1.35h-1.77zM789.33 77.4h1.77v1.35h-1.77zM789.33 80h1.77v1.35h-1.77zM789.33 81.3h1.77v1.35h-1.77zM791.05 68.3h1.77v1.35h-1.77zM791.05 70.9h1.77v1.35h-1.77zM791.05 72.2h1.77v1.35h-1.77zM791.05 73.5h1.77v1.35h-1.77zM791.05 80h1.77v1.35h-1.77zM791.05 82.6h1.77v1.35h-1.77zM791.05 83.9h1.77v1.35h-1.77zM792.77 67h1.77v1.35h-1.77zM792.77 68.3h1.77v1.35h-1.77zM792.77 70.9h1.77v1.35h-1.77zM792.77 73.5h1.77v1.35h-1.77zM792.77 74.8h1.77v1.35h-1.77zM794.49 68.3h1.77v1.35h-1.77zM794.49 70.9h1.77v1.35h-1.77zM794.49 72.2h1.77v1.35h-1.77zM794.49 73.5h1.77v1.35h-1.77zM794.49 76.1h1.77v1.35h-1.77zM794.49 77.4h1.77v1.35h-1.77zM794.49 78.7h1.77v1.35h-1.77zM794.49 85.2h1.77v1.35h-1.77zM796.21 68.3h1.77v1.35h-1.77zM796.21 69.6h1.77v1.35h-1.77zM796.21 70.9h1.77v1.35h-1.77zM796.21 72.2h1.77v1.35h-1.77zM796.21 76.1h1.77v1.35h-1.77zM796.21 77.4h1.77v1.35h-1.77zM797.93 73.5h1.77v1.35h-1.77zM806.53 76.1h1.77v1.35h-1.77zM809.97 70.9h1.77v1.35h-1.77zM815.13 67h1.77v1.35h-1.77zM827.17 67h1.77v1.35h-1.77zM828.89 67h1.77v1.35h-1.77zM828.89 70.9h1.77v1.35h-1.77zM828.89 74.8h1.77v1.35h-1.77zM828.89 76.1h1.77v1.35h-1.77zM828.89 80h1.77v1.35h-1.77zM830.61 69.6h1.77v1.35h-1.77zM830.61 70.9h1.77v1.35h-1.77zM830.61 72.2h1.77v1.35h-1.77zM830.61 73.5h1.77v1.35h-1.77zM832.33 68.3h1.77v1.35h-1.77zM832.33 69.6h1.77v1.35h-1.77zM832.33 73.5h1.77v1.35h-1.77zM832.33 74.8h1.77v1.35h-1.77zM832.33 76.1h1.77v1.35h-1.77zM832.33 78.7h1.77v1.35h-1.77zM832.33 80h1.77v1.35h-1.77zM832.33 81.3h1.77v1.35h-1.77zM832.33 85.2h1.77v1.35h-1.77zM834.05 72.2h1.77v1.35h-1.77zM834.05 81.3h1.77v1.35h-1.77zM835.77 69.6h1.77v1.35h-1.77zM835.77 72.2h1.77v1.35h-1.77zM835.77 74.8h1.77v1.35h-1.77zM835.77 76.1h1.77v1.35h-1.77zM835.77 82.6h1.77v1.35h-1.77zM837.49 68.3h1.77v1.35h-1.77zM837.49 70.9h1.77v1.35h-1.77zM837.49 72.2h1.77v1.35h-1.77zM837.49 73.5h1.77v1.35h-1.77zM837.49 74.8h1.77v1.35h-1.77zM837.49 76.1h1.77v1.35h-1.77zM837.49 78.7h1.77v1.35h-1.77zM837.49 83.9h1.77v1.35h-1.77zM839.21 67h1.77v1.35h-1.77zM839.21 72.2h1.77v1.35h-1.77zM839.21 73.5h1.77v1.35h-1.77zM846.1 72.2h1.77v1.35h-1.77zM849.54 69.6h1.77v1.35h-1.77zM849.54 72.2h1.77v1.35h-1.77zM849.54 77.4h1.77v1.35h-1.77zM851.26 67h1.77v1.35h-1.77zM851.26 73.5h1.77v1.35h-1.77zM868.46 70.9h1.77v1.35h-1.77zM868.46 77.4h1.77v1.35h-1.77zM870.18 67h1.77v1.35h-1.77zM870.18 77.4h1.77v1.35h-1.77z"/>
<path fill="#fbcd27" d="M591.5 68.3h1.77v1.35h-1.77zM591.5 69.6h1.77v1.35h-1.77zM594.94 73.5h1.77v1.35h-1.77zM594.94 78.7h1.77v1.35h-1.77zM596.66 76.1h1.77v1.35h-1.77zM596.66 77.4h1.77v1.35h-1.77zM598.38 67h1.77v1.35h-1.77zM598.38 70.9h1.77v1.35h-1.77zM598.38 73.5h1.77v1.35h-1.77zM598.38 74.8h1.77v1.35h-1.77zM600.1 67h1.77v1.35h-1.77zM648.27 72.2h1.77v1.35h-1.77zM648.27 73.5h1.77v1.35h-1.77zM649.99 68.3h1.77v1.35h-1.77zM649.99 72.2h1.77v1.35h-1.77zM651.71 67h1.77v1.35h-1.77zM651.71 68.3h1.77v1.35h-1.77zM651.71 69.6h1.77v1.35h-1.77zM651.71 70.9h1.77v1.35h-1.77zM653.43 69.6h1.77v1.35h-1.77zM655.15 68.3h1.77v1.35h-1.77zM656.87 69.6h1.77v1.35h-1.77zM703.32 109.4h1.77v2.1h-1.77zM713.64 69.6h1.77v1.35h-1.77zM713.64 70.9h1.77v1.35h-1.77zM715.36 69.6h1.77v1.35h-1.77zM717.08 77.4h1.77v1.35h-1.77zM718.8 77.4h1.77v1.35h-1.77zM720.52 74.8h1.77v1.35h-1.77zM720.52 77.4h1.77v1.35h-1.77zM722.24 72.2h1.77v1.35h-1.77zM722.24 73.5h1.77v1.35h-1.77zM723.96 67h1.77v1.35h-1.77zM723.96 69.6h1.77v1.35h-1.77zM723.96 73.5h1.77v1.35h-1.77zM723.96 76.1h1.77v1.35h-1.77zM723.96 77.4h1.77v1.35h-1.77zM725.68 67h1.77v1.35h-1.77zM725.68 74.8h1.77v1.35h-1.77zM725.68 76.1h1.77v1.35h-1.77zM725.68 78.7h1.77v1.35h-1.77zM725.68 80h1.77v1.35h-1.77zM727.4 67h1.77v1.35h-1.77zM727.4 68.3h1.77v1.35h-1.77zM727.4 72.2h1.77v1.35h-1.77zM727.4 73.5h1.77v1.35h-1.77zM727.4 74.8h1.77v1.35h-1.77zM727.4 76.1h1.77v1.35h-1.77zM727.4 82.6h1.77v1.35h-1.77zM729.12 67h1.77v1.35h-1.77zM789.33 73.5h1.77v1.35h-1.77zM789.33 76.1h1.77v1.35h-1.77zM789.33 78.7h1.77v1.35h-1.77zM791.05 69.6h1.77v1.35h-1.77zM791.05 74.8h1.77v1.35h-1.77zM791.05 76.1h1.77v1.35h-1.77zM791.05 81.3h1.77v1.35h-1.77zM794.49 67h1.77v1.35h-1.77zM794.49 69.6h1.77v1.35h-1.77zM794.49 74.8h1.77v1.35h-1.77zM794.49 80h1.77v1.35h-1.77zM794.49 81.3h1.77v1.35h-1.77zM794.49 82.6h1.77v1.35h-1.77zM796.21 80h1.77v1.35h-1.77zM803.09 86.5h1.77v1.35h-1.77zM813.41 72.2h1.77v1.35h-1.77zM828.89 69.6h1.77v1.35h-1.77zM828.89 72.2h1.77v1.35h-1.77zM830.61 74.8h1.77v1.35h-1.77zM832.33 70.9h1.77v1.35h-1.77zM832.33 72.2h1.77v1.35h-1.77zM832.33 77.4h1.77v1.35h-1.77zM832.33 82.6h1.77v1.35h-1.77zM832.33 83.9h1.77v1.35h-1.77zM834.05 68.3h1.77v1.35h-1.77zM834.05 69.6h1.77v1.35h-1.77zM834.05 70.9h1.77v1.35h-1.77zM834.05 73.5h1.77v1.35h-1.77zM834.05 74.8h1.77v1.35h-1.77zM834.05 76.1h1.77v1.35h-1.77zM834.05 77.4h1.77v1.35h-1.77zM834.05 78.7h1.77v1.35h-1.77zM835.77 68.3h1.77v1.35h-1.77zM835.77 73.5h1.77v1.35h-1.77zM835.77 77.4h1.77v1.35h-1.77zM835.77 78.7h1.77v1.35h-1.77zM835.77 80h1.77v1.35h-1.77zM837.49 67h1.77v1.35h-1.77zM837.49 80h1.77v1.35h-1.77z"/>
<path fill="#fdc328" d="M593.22 67h1.77v1.35h-1.77zM593.22 70.9h1.77v1.35h-1.77zM593.22 72.2h1.77v1.35h-1.77zM593.22 73.5h1.77v1.35h-1.77zM594.94 70.9h1.77v1.35h-1.77zM594.94 76.1h1.77v1.35h-1.77zM594.94 77.4h1.77v1.35h-1.77zM596.66 74.8h1.77v1.35h-1.77zM598.38 69.6h1.77v1.35h-1.77zM598.38 72.2h1.77v1.35h-1.77zM649.99 69.6h1.77v1.35h-1.77zM713.64 68.3h1.77v1.35h-1.77zM715.36 67h1.77v1.35h-1.77zM715.36 68.3h1.77v1.35h-1.77zM715.36 72.2h1.77v1.35h-1.77zM717.08 67h1.77v1.35h-1.77zM717.08 68.3h1.77v1.35h-1.77zM717.08 76.1h1.77v1.35h-1.77zM718.8 67h1.77v1.35h-1.77zM718.8 72.2h1.77v1.35h-1.77zM718.8 76.1h1.77v1.35h-1.77zM720.52 69.6h1.77v1.35h-1.77zM720.52 70.9h1.77v1.35h-1.77zM720.52 72.2h1.77v1.35h-1.77zM720.52 76.1h1.77v1.35h-1.77zM722.24 68.3h1.77v1.35h-1.77zM722.24 69.6h1.77v1.35h-1.77zM723.96 70.9h1.77v1.35h-1.77zM723.96 72.2h1.77v1.35h-1.77zM723.96 74.8h1.77v1.35h-1.77zM723.96 90.4h1.77v1.35h-1.77zM725.68 70.9h1.77v1.35h-1.77zM725.68 72.2h1.77v1.35h-1.77zM725.68 73.5h1.77v1.35h-1.77zM727.4 70.9h1.77v1.35h-1.77zM727.4 80h1.77v1.35h-1.77zM789.33 68.3h1.77v1.35h-1.77zM832.33 67h1.77v1.35h-1.77zM834.05 67h1.77v1.35h-1.77zM835.77 67h1.77v1.35h-1.77zM837.49 69.6h1.77v1.35h-1.77zM837.49 77.4h1.77v1.35h-1.77z"/>
<path fill="#fdb92c" d="M594.94 69.6h1.77v1.35h-1.77zM594.94 72.2h1.77v1.35h-1.77zM594.94 74.8h1.77v1.35h-1.77zM596.66 67h1.77v1.35h-1.77zM596.66 70.9h1.77v1.35h-1.77zM598.38 68.3h1.77v1.35h-1.77zM717.08 69.6h1.77v1.35h-1.77zM717.08 70.9h1.77v1.35h-1.77zM717.08 74.8h1.77v1.35h-1.77zM718.8 70.9h1.77v1.35h-1.77zM718.8 73.5h1.77v1.35h-1.77zM718.8 74.8h1.77v1.35h-1.77zM718.8 78.7h1.77v1.35h-1.77zM720.52 67h1.77v1.35h-1.77zM720.52 68.3h1.77v1.35h-1.77zM720.52 73.5h1.77v1.35h-1.77zM722.24 67h1.77v1.35h-1.77zM723.96 68.3h1.77v1.35h-1.77zM725.68 68.3h1.77v1.35h-1.77zM791.05 67h1.77v1.35h-1.77zM791.05 78.7h1.77v1.35h-1.77zM820.29 90.4h1.77v1.35h-1.77zM842.65 74.8h1.77v1.35h-1.77z"/>
<path fill="#fdb031" d="M594.94 67h1.77v1.35h-1.77zM594.94 68.3h1.77v1.35h-1.77zM596.66 68.3h1.77v1.35h-1.77zM596.66 69.6h1.77v1.35h-1.77zM596.66 73.5h1.77v1.35h-1.77zM717.08 73.5h1.77v1.35h-1.77zM718.8 68.3h1.77v1.35h-1.77zM725.68 69.6h1.77v1.35h-1.77z"/>
<path fill="#fca636" d="M596.66 72.2h1.77v1.35h-1.77z"/>
<path fill="#fa9d3b" d="M717.08 72.2h1.77v1.35h-1.77z"/>
<path fill="#f89441" d="M718.8 69.6h1.77v1.35h-1.77z"/>
<rect x="720.1" y="74.8" width="1.9" height="1.2" fill="#bd3786"/>
<rect x="720.1" y="80" width="1.9" height="1.1" fill="#0d0887"/>
<rect x="720.1" y="82" width="1.9" height="6" fill="#0d0887"/>
<rect x="720.1" y="91.9" width="1.9" height="2.1" fill="#fdae32"/>
<rect x="720.1" y="102" width="1.9" height="2.8" fill="#c43e7f"/>
<rect x="720.1" y="108.3" width="1.9" height="2.5" fill="#fdc328"/>
<rect x="720.1" y="117" width="1.9" height="2" fill="#d6556d"/>
<rect x="662" y="76" width="1.7" height="1.3" fill="#fdc328"/>
<rect x="646.5" y="121" width="1.7" height="1.3" fill="#fbd024"/>
<rect x="793" y="90" width="1.7" height="1.3" fill="#fdc328"/>
<rect x="835.5" y="78" width="1.7" height="1.3" fill="#fdc328"/>
<rect x="843" y="76" width="1.7" height="1.3" fill="#fdc328"/>
<rect x="612.9" y="66" width="14.1" height="4" fill="#fff" shape-rendering="crispEdges"/>
<rect x="629" y="66" width="13" height="4" fill="#fff" shape-rendering="crispEdges"/>
<rect x="672" y="66" width="38" height="4" fill="#fff" shape-rendering="crispEdges"/>
<rect x="733.8" y="66" width="38.2" height="4" fill="#fff" shape-rendering="crispEdges"/>
<rect x="819" y="66" width="2" height="4" fill="#fff" shape-rendering="crispEdges"/>
<rect x="874.9" y="66" width="2" height="2" fill="#fff" shape-rendering="crispEdges"/>
<rect x="627" y="66" width="2" height="1.2" fill="#f0f921"/>
<rect x="642" y="66" width="2" height="1.2" fill="#f0f921"/>
<rect x="667.4" y="66" width="1.6" height="1.2" fill="#f0f921"/>
<rect x="722.3" y="66" width="1.7" height="1.2" fill="#f0f921"/>
<rect x="791" y="66" width="3" height="1.2" fill="#f0f921"/>
<rect x="798" y="66" width="3" height="1.2" fill="#f0f921"/>
<rect x="836" y="66" width="2.5" height="1.2" fill="#f0f921"/>
<rect x="848" y="66" width="3" height="1.2" fill="#f0f921"/>
<rect x="857" y="66" width="3" height="1.2" fill="#f0f921"/>
<rect x="867" y="66" width="2.5" height="1.2" fill="#f0f921"/>
<rect x="878" y="66" width="2" height="1.2" fill="#f0f921"/>
<rect x="622.3" y="69" width="1" height="1.2" fill="#f0f921"/>
<rect x="639.7" y="69" width="1" height="1.2" fill="#f0f921"/>
<rect x="693.5" y="69" width="1" height="1.2" fill="#f0f921"/>
<rect x="737.5" y="69" width="1" height="1.2" fill="#f0f921"/>
<rect x="746.5" y="69" width="1" height="1.2" fill="#f0f921"/>
<rect x="751" y="69" width="1" height="1.2" fill="#f0f921"/>
<rect x="592" y="433.9" width="16.1" height="41.1" fill="#fff" shape-rendering="crispEdges"/>
<rect x="598.9" y="393.1" width="2.2" height="41.1" fill="#fff" shape-rendering="crispEdges"/>
<rect x="608.1" y="454.8" width="1.8" height="20.2" fill="#fff" shape-rendering="crispEdges"/>
<rect x="609.9" y="433.9" width="1.1" height="41.1" fill="#fff" shape-rendering="crispEdges"/>
<rect x="611" y="454" width="206" height="21" fill="#fff" shape-rendering="crispEdges"/>
<rect x="822.9" y="454" width="1.1" height="21" fill="#fff" shape-rendering="crispEdges"/>
<rect x="827.9" y="454" width="1.1" height="21" fill="#fff" shape-rendering="crispEdges"/>
<rect x="830.9" y="414" width="2" height="61" fill="#fff" shape-rendering="crispEdges"/>
<rect x="832.9" y="392.1" width="2.1" height="82.9" fill="#fff" shape-rendering="crispEdges"/>
<rect x="835" y="393.3" width="3.1" height="81.7" fill="#fff" shape-rendering="crispEdges"/>
<rect x="842" y="454" width="3" height="21" fill="#fff" shape-rendering="crispEdges"/>
<rect x="845" y="474" width="2" height="1" fill="#fff" shape-rendering="crispEdges"/>
<rect x="866" y="474" width="4" height="1" fill="#fff" shape-rendering="crispEdges"/>
<rect x="878" y="474" width="2" height="1" fill="#fff" shape-rendering="crispEdges"/>
<rect x="591.5" y="65.5" width="289" height="410" fill="none" stroke="#000" stroke-width="1.11"/>
<path d="M586.64 65.5L591.5 65.5" stroke="#000" stroke-width="1.11"/>
<text class="d" x="573" y="71">0</text>
<path d="M586.64 117.5L591.5 117.5" stroke="#000" stroke-width="1.11"/>
<text class="d" x="555" y="122">250</text>
<path d="M586.64 168.5L591.5 168.5" stroke="#000" stroke-width="1.11"/>
<text class="d" x="555" y="173">500</text>
<path d="M586.64 219.5L591.5 219.5" stroke="#000" stroke-width="1.11"/>
<text class="d" x="555" y="224">750</text>
<path d="M586.64 270.5L591.5 270.5" stroke="#000" stroke-width="1.11"/>
<text class="d" x="546" y="276">1000</text>
<path d="M586.64 321.5L591.5 321.5" stroke="#000" stroke-width="1.11"/>
<text class="d" x="546" y="327">1250</text>
<path d="M586.64 373.5L591.5 373.5" stroke="#000" stroke-width="1.11"/>
<text class="d" x="546" y="378">1500</text>
<path d="M586.64 424.5L591.5 424.5" stroke="#000" stroke-width="1.11"/>
<text class="d" x="546" y="429">1750</text>
<path d="M586.64 475.5L591.5 475.5" stroke="#000" stroke-width="1.11"/>
<text class="d" x="546" y="480">2000</text>
<path d="M650.5 475.5L650.5 480.36" stroke="#000" stroke-width="1.11"/>
<text class="y" x="632" y="496">2020</text>
<path d="M713.5 475.5L713.5 480.36" stroke="#000" stroke-width="1.11"/>
<text class="y" x="695" y="496">2021</text>
<path d="M776.5 475.5L776.5 480.36" stroke="#000" stroke-width="1.11"/>
<text class="y" x="758" y="496">2022</text>
<path d="M839.5 475.5L839.5 480.36" stroke="#000" stroke-width="1.11"/>
<text class="y" x="821" y="496">2023</text>
<text class="T" x="736" y="57" text-anchor="middle">BBP700_ADJUSTED</text>
<rect x="898.5" y="65.5" width="21" height="410" fill="url(#pl)"/>
<rect x="898.5" y="65.5" width="21" height="410" fill="none" stroke="#000" stroke-width="1.11"/>
<path d="M919.5 387.5L924.36 387.5" stroke="#000" stroke-width="1.11"/>
<text class="t" x="929" y="393">0<tspan dx="-1">.</tspan>01</text>
<path d="M919.5 298.5L924.36 298.5" stroke="#000" stroke-width="1.11"/>
<text class="t" x="929" y="304">0<tspan dx="-1">.</tspan>02</text>
<path d="M919.5 209.5L924.36 209.5" stroke="#000" stroke-width="1.11"/>
<text class="t" x="929" y="214">0<tspan dx="-1">.</tspan>03</text>
<path d="M919.5 120.5L924.36 120.5" stroke="#000" stroke-width="1.11"/>
<text class="t" x="929" y="125">0<tspan dx="-1">.</tspan>04</text>
<rect x="1023.5" y="67" width="290" height="408.5" fill="#377eb8"/>
<rect x="1153.1" y="67" width="1.6" height="387" fill="#a349a0"/>
<rect x="1044.9" y="66" width="14.1" height="4" fill="#fff" shape-rendering="crispEdges"/>
<rect x="1061" y="66" width="13" height="4" fill="#fff" shape-rendering="crispEdges"/>
<rect x="1104" y="66" width="38" height="4" fill="#fff" shape-rendering="crispEdges"/>
<rect x="1165.8" y="66" width="38.2" height="4" fill="#fff" shape-rendering="crispEdges"/>
<rect x="1251" y="66" width="2" height="4" fill="#fff" shape-rendering="crispEdges"/>
<rect x="1306.9" y="66" width="2" height="2" fill="#fff" shape-rendering="crispEdges"/>
<rect x="1059" y="66" width="2" height="1.2" fill="#377eb8"/>
<rect x="1074" y="66" width="2" height="1.2" fill="#377eb8"/>
<rect x="1099.4" y="66" width="1.6" height="1.2" fill="#377eb8"/>
<rect x="1154.3" y="66" width="1.7" height="1.2" fill="#377eb8"/>
<rect x="1223" y="66" width="3" height="1.2" fill="#377eb8"/>
<rect x="1230" y="66" width="3" height="1.2" fill="#377eb8"/>
<rect x="1268" y="66" width="2.5" height="1.2" fill="#377eb8"/>
<rect x="1280" y="66" width="3" height="1.2" fill="#377eb8"/>
<rect x="1289" y="66" width="3" height="1.2" fill="#377eb8"/>
<rect x="1299" y="66" width="2.5" height="1.2" fill="#377eb8"/>
<rect x="1310" y="66" width="2" height="1.2" fill="#377eb8"/>
<rect x="1054.3" y="69" width="1" height="1.2" fill="#377eb8"/>
<rect x="1071.7" y="69" width="1" height="1.2" fill="#377eb8"/>
<rect x="1125.5" y="69" width="1" height="1.2" fill="#377eb8"/>
<rect x="1169.5" y="69" width="1" height="1.2" fill="#377eb8"/>
<rect x="1178.5" y="69" width="1" height="1.2" fill="#377eb8"/>
<rect x="1183" y="69" width="1" height="1.2" fill="#377eb8"/>
<rect x="1024" y="433.9" width="16.1" height="41.1" fill="#fff" shape-rendering="crispEdges"/>
<rect x="1030.9" y="393.1" width="2.2" height="41.1" fill="#fff" shape-rendering="crispEdges"/>
<rect x="1040.1" y="454.8" width="1.8" height="20.2" fill="#fff" shape-rendering="crispEdges"/>
<rect x="1041.9" y="433.9" width="1.1" height="41.1" fill="#fff" shape-rendering="crispEdges"/>
<rect x="1043" y="454" width="206" height="21" fill="#fff" shape-rendering="crispEdges"/>
<rect x="1254.9" y="454" width="1.1" height="21" fill="#fff" shape-rendering="crispEdges"/>
<rect x="1259.9" y="454" width="1.1" height="21" fill="#fff" shape-rendering="crispEdges"/>
<rect x="1262.9" y="414" width="2" height="61" fill="#fff" shape-rendering="crispEdges"/>
<rect x="1264.9" y="392.1" width="2.1" height="82.9" fill="#fff" shape-rendering="crispEdges"/>
<rect x="1267" y="393.3" width="3.1" height="81.7" fill="#fff" shape-rendering="crispEdges"/>
<rect x="1274" y="454" width="3" height="21" fill="#fff" shape-rendering="crispEdges"/>
<rect x="1277" y="474" width="2" height="1" fill="#fff" shape-rendering="crispEdges"/>
<rect x="1298" y="474" width="4" height="1" fill="#fff" shape-rendering="crispEdges"/>
<rect x="1310" y="474" width="2" height="1" fill="#fff" shape-rendering="crispEdges"/>
<rect x="1023.5" y="65.5" width="290" height="410" fill="none" stroke="#000" stroke-width="1.11"/>
<path d="M1018.64 65.5L1023.5 65.5" stroke="#000" stroke-width="1.11"/>
<text class="d" x="1006" y="71">0</text>
<path d="M1018.64 117.5L1023.5 117.5" stroke="#000" stroke-width="1.11"/>
<text class="d" x="987" y="122">250</text>
<path d="M1018.64 168.5L1023.5 168.5" stroke="#000" stroke-width="1.11"/>
<text class="d" x="987" y="173">500</text>
<path d="M1018.64 219.5L1023.5 219.5" stroke="#000" stroke-width="1.11"/>
<text class="d" x="987" y="224">750</text>
<path d="M1018.64 270.5L1023.5 270.5" stroke="#000" stroke-width="1.11"/>
<text class="d" x="979" y="276">1000</text>
<path d="M1018.64 321.5L1023.5 321.5" stroke="#000" stroke-width="1.11"/>
<text class="d" x="979" y="327">1250</text>
<path d="M1018.64 373.5L1023.5 373.5" stroke="#000" stroke-width="1.11"/>
<text class="d" x="979" y="378">1500</text>
<path d="M1018.64 424.5L1023.5 424.5" stroke="#000" stroke-width="1.11"/>
<text class="d" x="979" y="429">1750</text>
<path d="M1018.64 475.5L1023.5 475.5" stroke="#000" stroke-width="1.11"/>
<text class="d" x="979" y="480">2000</text>
<path d="M1083.5 475.5L1083.5 480.36" stroke="#000" stroke-width="1.11"/>
<text class="y" x="1065" y="496">2020</text>
<path d="M1145.5 475.5L1145.5 480.36" stroke="#000" stroke-width="1.11"/>
<text class="y" x="1128" y="496">2021</text>
<path d="M1208.5 475.5L1208.5 480.36" stroke="#000" stroke-width="1.11"/>
<text class="y" x="1191" y="496">2022</text>
<path d="M1271.5 475.5L1271.5 480.36" stroke="#000" stroke-width="1.11"/>
<text class="y" x="1254" y="496">2023</text>
<text class="T" x="1168.5" y="57" text-anchor="middle">BBP700_ADJUSTED_QC</text>
<rect x="1331.5" y="429.64" width="20" height="45.86" fill="#e41a1c"/>
<rect x="1331.5" y="384.09" width="20" height="45.86" fill="#377eb8"/>
<rect x="1331.5" y="338.53" width="20" height="45.86" fill="#4daf4a"/>
<rect x="1331.5" y="292.98" width="20" height="45.86" fill="#984ea3"/>
<rect x="1331.5" y="247.42" width="20" height="45.86" fill="#ff7f00"/>
<rect x="1331.5" y="201.87" width="20" height="45.86" fill="#ffff33"/>
<rect x="1331.5" y="156.31" width="20" height="45.86" fill="#a65628"/>
<rect x="1331.5" y="110.76" width="20" height="45.86" fill="#f781bf"/>
<rect x="1331.5" y="65.2" width="20" height="45.86" fill="#999999"/>
<rect x="1331.5" y="65.5" width="20" height="410" fill="none" stroke="#000" stroke-width="1.11"/>
<path d="M1351.5 475.5L1356.36 475.5" stroke="#000" stroke-width="1.11"/>
<text class="t" x="1361" y="480">0</text>
<path d="M1351.5 424.5L1356.36 424.5" stroke="#000" stroke-width="1.11"/>
<text class="t" x="1361" y="429">1</text>
<path d="M1351.5 373.5L1356.36 373.5" stroke="#000" stroke-width="1.11"/>
<text class="t" x="1361" y="378">2</text>
<path d="M1351.5 321.5L1356.36 321.5" stroke="#000" stroke-width="1.11"/>
<text class="t" x="1361" y="327">3</text>
<path d="M1351.5 270.5L1356.36 270.5" stroke="#000" stroke-width="1.11"/>
<text class="t" x="1361" y="276">4</text>
<path d="M1351.5 219.5L1356.36 219.5" stroke="#000" stroke-width="1.11"/>
<text class="t" x="1361" y="224">5</text>
<path d="M1351.5 168.5L1356.36 168.5" stroke="#000" stroke-width="1.11"/>
<text class="t" x="1361" y="173">6</text>
<path d="M1351.5 117.5L1356.36 117.5" stroke="#000" stroke-width="1.11"/>
<text class="t" x="1361" y="122">7</text>
<path d="M1351.5 65.5L1356.36 65.5" stroke="#000" stroke-width="1.11"/>
<text class="t" x="1361" y="71">8</text>
<rect x="159.5" y="755.05" width="361" height="2.9" fill="#1f77b4"/>
<rect x="170.4" y="754.9" width="1" height="3.2" fill="#fff" opacity="0.38"/>
<rect x="183.5" y="754.9" width="1" height="3.2" fill="#fff" opacity="0.38"/>
<rect x="196.6" y="754.9" width="1" height="3.2" fill="#fff" opacity="0.38"/>
<rect x="209.7" y="754.9" width="1" height="3.2" fill="#fff" opacity="0.38"/>
<rect x="222.8" y="754.9" width="1" height="3.2" fill="#fff" opacity="0.38"/>
<rect x="235.9" y="754.9" width="1" height="3.2" fill="#fff" opacity="0.38"/>
<rect x="249" y="754.9" width="1" height="3.2" fill="#fff" opacity="0.38"/>
<rect x="262.1" y="754.9" width="1" height="3.2" fill="#fff" opacity="0.38"/>
<rect x="275.2" y="754.9" width="1" height="3.2" fill="#fff" opacity="0.38"/>
<rect x="288.3" y="754.9" width="1" height="3.2" fill="#fff" opacity="0.38"/>
<rect x="301.4" y="754.9" width="1" height="3.2" fill="#fff" opacity="0.38"/>
<rect x="314.5" y="754.9" width="1" height="3.2" fill="#fff" opacity="0.38"/>
<rect x="327.6" y="754.9" width="1" height="3.2" fill="#fff" opacity="0.38"/>
<rect x="340.7" y="754.9" width="1" height="3.2" fill="#fff" opacity="0.38"/>
<rect x="353.8" y="754.9" width="1" height="3.2" fill="#fff" opacity="0.38"/>
<rect x="366.9" y="754.9" width="1" height="3.2" fill="#fff" opacity="0.38"/>
<rect x="380" y="754.9" width="1" height="3.2" fill="#fff" opacity="0.38"/>
<rect x="393.1" y="754.9" width="1" height="3.2" fill="#fff" opacity="0.38"/>
<rect x="406.2" y="754.9" width="1" height="3.2" fill="#fff" opacity="0.38"/>
<rect x="419.3" y="754.9" width="1" height="3.2" fill="#fff" opacity="0.38"/>
<rect x="432.4" y="754.9" width="1" height="3.2" fill="#fff" opacity="0.38"/>
<rect x="445.5" y="754.9" width="1" height="3.2" fill="#fff" opacity="0.38"/>
<rect x="458.6" y="754.9" width="1" height="3.2" fill="#fff" opacity="0.38"/>
<rect x="471.7" y="754.9" width="1" height="3.2" fill="#fff" opacity="0.38"/>
<rect x="484.8" y="754.9" width="1" height="3.2" fill="#fff" opacity="0.38"/>
<rect x="497.9" y="754.9" width="1" height="3.2" fill="#fff" opacity="0.38"/>
<rect x="511" y="754.9" width="1" height="3.2" fill="#fff" opacity="0.38"/>
<path d="M160.2 756.5L520 756.5" stroke="#fff" stroke-width="3.2" opacity="0.13" stroke-dasharray="0.45 0.98"/>
<rect x="159.5" y="552.5" width="361" height="409" fill="none" stroke="#000" stroke-width="1.11"/>
<path d="M154.64 552.5L159.5 552.5" stroke="#000" stroke-width="1.11"/>
<text class="m" x="149.18" y="557" text-anchor="end">Delayed Mode</text>
<path d="M154.64 756.5L159.5 756.5" stroke="#000" stroke-width="1.11"/>
<text class="m" x="149.18" y="762" text-anchor="end">Real Time Adjusted</text>
<path d="M154.64 961.5L159.5 961.5" stroke="#000" stroke-width="1.11"/>
<text class="m" x="149.18" y="967" text-anchor="end">Real Time</text>
<path d="M233.5 961.5L233.5 966.36" stroke="#000" stroke-width="1.11"/>
<text class="y" x="215" y="982">2020</text>
<path d="M311.5 961.5L311.5 966.36" stroke="#000" stroke-width="1.11"/>
<text class="y" x="294" y="982">2021</text>
<path d="M390.5 961.5L390.5 966.36" stroke="#000" stroke-width="1.11"/>
<text class="y" x="372" y="982">2022</text>
<path d="M469.5 961.5L469.5 966.36" stroke="#000" stroke-width="1.11"/>
<text class="y" x="451" y="982">2023</text>
<text class="S" x="336.8" y="526" text-anchor="middle">Mode. Blue=D, Red=RT,</text>
<text class="S" x="339" y="543" text-anchor="middle">Gray=Real Time Adjusted</text>
<rect x="591.5" y="553" width="289" height="408.5" fill="#f0f921"/>
<rect x="592" y="553" width="12" height="90" fill="url(#gy)" opacity="0.6"/>
<rect x="604" y="553" width="10" height="70" fill="url(#gy)" opacity="0.4"/>
<rect x="646" y="553" width="28" height="70" fill="url(#gy)" opacity="0.4"/>
<rect x="708" y="553" width="12" height="80" fill="url(#gy)" opacity="0.45"/>
<rect x="722" y="553" width="18" height="85" fill="url(#gy)" opacity="0.5"/>
<rect x="740" y="553" width="8" height="60" fill="url(#gy)" opacity="0.3"/>
<rect x="772" y="553" width="18" height="100" fill="url(#gy)" opacity="0.5"/>
<rect x="790" y="553" width="10" height="120" fill="url(#gy)" opacity="0.7"/>
<rect x="800" y="553" width="28" height="105" fill="url(#gy)" opacity="0.5"/>
<rect x="828" y="553" width="14" height="120" fill="url(#gy)" opacity="0.62"/>
<rect x="842" y="553" width="38" height="110" fill="url(#gy)" opacity="0.55"/>
<rect x="837.49" y="900.15" width="1.77" height="20.45" fill="#f3f022"/>
<rect x="849.54" y="736.6" width="1.77" height="10.2" fill="#f3f022"/>
<rect x="861.58" y="777.45" width="1.77" height="20.45" fill="#f3ef22"/>
<rect x="653.43" y="614" width="1.77" height="4.1" fill="#f3f022"/>
<rect x="765.24" y="797.9" width="1.77" height="20.45" fill="#f3ee23"/>
<rect x="823.73" y="614" width="1.77" height="4.1" fill="#f4ee23"/>
<rect x="696.43" y="900.15" width="1.77" height="20.45" fill="#f2f222"/>
<rect x="851.26" y="920.6" width="1.77" height="19.8" fill="#f3f122"/>
<rect x="722.24" y="777.45" width="1.77" height="20.45" fill="#f2f222"/>
<rect x="713.64" y="736.6" width="1.77" height="10.2" fill="#f3f022"/>
<rect x="627.62" y="859.25" width="1.77" height="20.45" fill="#f5eb23"/>
<rect x="816.85" y="665.2" width="1.77" height="10.2" fill="#f4ed23"/>
<rect x="637.95" y="695.8" width="1.77" height="10.2" fill="#f3ef22"/>
<rect x="598.38" y="757" width="1.77" height="20.45" fill="#f3f022"/>
<rect x="613.86" y="879.7" width="1.77" height="20.45" fill="#f2f222"/>
<rect x="839.21" y="838.8" width="1.77" height="20.45" fill="#f3f022"/>
<rect x="727.4" y="716.2" width="1.77" height="10.2" fill="#f3f122"/>
<rect x="643.11" y="665.2" width="1.77" height="10.2" fill="#f4ed23"/>
<rect x="796.21" y="797.9" width="1.77" height="20.45" fill="#f2f422"/>
<rect x="674.07" y="685.6" width="1.77" height="10.2" fill="#f4ee23"/>
<rect x="648.27" y="716.2" width="1.77" height="10.2" fill="#f5eb23"/>
<rect x="775.57" y="757" width="1.77" height="20.45" fill="#f2f322"/>
<rect x="851.26" y="655" width="1.77" height="10.2" fill="#f3f122"/>
<rect x="763.52" y="777.45" width="1.77" height="20.45" fill="#f2f222"/>
<rect x="655.15" y="695.8" width="1.77" height="10.2" fill="#f2f322"/>
<rect x="859.86" y="695.8" width="1.77" height="10.2" fill="#f2f422"/>
<rect x="624.18" y="650.9" width="1.77" height="4.1" fill="#f3f022"/>
<rect x="596.66" y="859.25" width="1.77" height="20.45" fill="#f4ee23"/>
<rect x="646.55" y="900.15" width="1.77" height="20.45" fill="#f4ee23"/>
<rect x="649.99" y="797.9" width="1.77" height="20.45" fill="#f4ec23"/>
<rect x="727.4" y="818.35" width="1.77" height="20.45" fill="#f4ee23"/>
<rect x="660.31" y="920.6" width="1.77" height="19.8" fill="#f4ed23"/>
<rect x="761.8" y="777.45" width="1.77" height="20.45" fill="#f2f222"/>
<rect x="636.23" y="646.8" width="1.77" height="4.1" fill="#f3f022"/>
<rect x="696.43" y="879.7" width="1.77" height="20.45" fill="#f5eb23"/>
<rect x="852.98" y="920.6" width="1.77" height="19.8" fill="#f2f122"/>
<rect x="620.74" y="726.4" width="1.77" height="10.2" fill="#f2f222"/>
<rect x="861.58" y="838.8" width="1.77" height="20.45" fill="#f3ef22"/>
<rect x="680.95" y="777.45" width="1.77" height="20.45" fill="#f2f222"/>
<rect x="787.61" y="655" width="1.77" height="10.2" fill="#f3f122"/>
<rect x="753.2" y="797.9" width="1.77" height="20.45" fill="#f2f222"/>
<rect x="651.71" y="859.25" width="1.77" height="20.45" fill="#f2f322"/>
<rect x="820.29" y="797.9" width="1.77" height="20.45" fill="#f4ee23"/>
<rect x="598.38" y="859.25" width="1.77" height="20.45" fill="#f3ee23"/>
<rect x="605.26" y="618.1" width="1.77" height="4.1" fill="#f4ed23"/>
<rect x="727.4" y="665.2" width="1.77" height="10.2" fill="#f3ef22"/>
<rect x="830.61" y="655" width="1.77" height="10.2" fill="#f2f322"/>
<rect x="648.27" y="859.25" width="1.77" height="20.45" fill="#f4ec23"/>
<rect x="799.65" y="879.7" width="1.77" height="20.45" fill="#f3f022"/>
<rect x="603.54" y="757" width="1.77" height="20.45" fill="#f4eb23"/>
<rect x="758.36" y="655" width="1.77" height="10.2" fill="#f4ee23"/>
<rect x="625.9" y="618.1" width="1.77" height="4.1" fill="#f3ee23"/>
<rect x="773.85" y="879.7" width="1.77" height="20.45" fill="#f5eb23"/>
<rect x="846.1" y="900.15" width="1.77" height="20.45" fill="#f4eb23"/>
<rect x="627.62" y="920.6" width="1.77" height="19.8" fill="#f4ec23"/>
<rect x="854.7" y="614" width="1.77" height="4.1" fill="#f2f322"/>
<rect x="639.67" y="900.15" width="1.77" height="20.45" fill="#f2f222"/>
<rect x="594.94" y="675.4" width="1.77" height="10.2" fill="#f2f122"/>
<rect x="679.23" y="859.25" width="1.77" height="20.45" fill="#f4ee23"/>
<rect x="785.89" y="818.35" width="1.77" height="20.45" fill="#f4ee23"/>
<rect x="701.6" y="716.2" width="1.77" height="10.2" fill="#f3f122"/>
<rect x="679.23" y="879.7" width="1.77" height="20.45" fill="#f4ec23"/>
<rect x="730.84" y="675.4" width="1.77" height="10.2" fill="#f2f222"/>
<rect x="608.7" y="838.8" width="1.77" height="20.45" fill="#f3ef22"/>
<rect x="639.67" y="838.8" width="1.77" height="20.45" fill="#f4ec23"/>
<rect x="772.12" y="736.6" width="1.77" height="10.2" fill="#f4eb23"/>
<rect x="729.12" y="900.15" width="1.77" height="20.45" fill="#f3ef22"/>
<rect x="605.26" y="746.8" width="1.77" height="10.2" fill="#f3f122"/>
<rect x="713.64" y="838.8" width="1.77" height="20.45" fill="#f2f322"/>
<rect x="839.21" y="622.2" width="1.77" height="4.1" fill="#f4ee23"/>
<rect x="674.07" y="630.4" width="1.77" height="4.1" fill="#f3f022"/>
<rect x="653.43" y="777.45" width="1.77" height="20.45" fill="#f2f122"/>
<rect x="868.46" y="859.25" width="1.77" height="20.45" fill="#f3f022"/>
<rect x="677.51" y="726.4" width="1.77" height="10.2" fill="#f4eb23"/>
<rect x="594.94" y="920.6" width="1.77" height="-0.6" fill="#f2f122"/>
<rect x="668.91" y="706" width="1.77" height="10.2" fill="#f4ed23"/>
<rect x="820.29" y="797.9" width="1.77" height="20.45" fill="#f3ef22"/>
<rect x="689.55" y="638.6" width="1.77" height="4.1" fill="#f3f022"/>
<rect x="791.05" y="655" width="1.77" height="10.2" fill="#f2f222"/>
<rect x="840.93" y="920.6" width="1.77" height="19.8" fill="#f3f022"/>
<rect x="741.16" y="818.35" width="1.77" height="20.45" fill="#f4ec23"/>
<rect x="873.62" y="777.45" width="1.77" height="20.45" fill="#f2f322"/>
<rect x="761.8" y="838.8" width="1.77" height="20.45" fill="#f2f222"/>
<rect x="732.56" y="655" width="1.77" height="10.2" fill="#f3ef22"/>
<rect x="627.62" y="634.5" width="1.77" height="4.1" fill="#f3f122"/>
<rect x="711.92" y="757" width="1.77" height="20.45" fill="#f3ef22"/>
<rect x="619.02" y="655" width="1.77" height="10.2" fill="#f2f222"/>
<rect x="737.72" y="797.9" width="1.77" height="20.45" fill="#f2f222"/>
<rect x="818.57" y="920.6" width="1.77" height="19.8" fill="#f3ef22"/>
<rect x="784.17" y="900.15" width="1.77" height="20.45" fill="#f4ec23"/>
<rect x="629.35" y="900.15" width="1.77" height="20.45" fill="#f3ee23"/>
<rect x="718.8" y="920.6" width="1.77" height="19.8" fill="#f3ef22"/>
<rect x="820.29" y="920.6" width="1.77" height="19.8" fill="#f4ee23"/>
<rect x="758.36" y="818.35" width="1.77" height="20.45" fill="#f2f122"/>
<rect x="653.43" y="920.6" width="1.77" height="19.8" fill="#f3f122"/>
<rect x="809.97" y="736.6" width="1.77" height="10.2" fill="#f3f122"/>
<rect x="593.22" y="757" width="1.77" height="20.45" fill="#f2f322"/>
<rect x="610.42" y="879.7" width="1.77" height="20.45" fill="#f3ef22"/>
<rect x="839.21" y="665.2" width="1.77" height="10.2" fill="#f3ef22"/>
<rect x="619.02" y="900.15" width="1.77" height="20.45" fill="#f4ed23"/>
<rect x="768.68" y="726.4" width="1.77" height="10.2" fill="#f3f022"/>
<rect x="739.44" y="726.4" width="1.77" height="10.2" fill="#f3ef22"/>
<rect x="637.95" y="746.8" width="1.77" height="10.2" fill="#f3ef22"/>
<rect x="705.04" y="655" width="1.77" height="10.2" fill="#f2f322"/>
<rect x="658.59" y="695.8" width="1.77" height="10.2" fill="#f2f322"/>
<rect x="746.32" y="726.4" width="1.77" height="10.2" fill="#f3f122"/>
<rect x="847.82" y="736.6" width="1.77" height="10.2" fill="#f2f322"/>
<rect x="677.51" y="879.7" width="1.77" height="20.45" fill="#f4ee23"/>
<rect x="870.18" y="736.6" width="1.77" height="10.2" fill="#f2f322"/>
<rect x="827.17" y="736.6" width="1.77" height="10.2" fill="#f4ee23"/>
<rect x="823.73" y="736.6" width="1.77" height="10.2" fill="#f4ee23"/>
<rect x="649.99" y="706" width="1.77" height="10.2" fill="#f3ee23"/>
<rect x="729.12" y="818.35" width="1.77" height="20.45" fill="#f4ec23"/>
<rect x="675.79" y="797.9" width="1.77" height="20.45" fill="#f2f222"/>
<rect x="648.27" y="838.8" width="1.77" height="20.45" fill="#f4ec23"/>
<rect x="782.45" y="879.7" width="1.77" height="20.45" fill="#f3f022"/>
<rect x="646.55" y="655" width="1.77" height="10.2" fill="#f3ef22"/>
<rect x="840.93" y="859.25" width="1.77" height="20.45" fill="#f2f322"/>
<rect x="813.41" y="859.25" width="1.77" height="20.45" fill="#f2f322"/>
<rect x="674.07" y="900.15" width="1.77" height="20.45" fill="#f3ef22"/>
<rect x="606.98" y="920.6" width="1.77" height="-0.6" fill="#f2f322"/>
<rect x="803.09" y="675.4" width="1.77" height="10.2" fill="#f4ec23"/>
<rect x="667.19" y="838.8" width="1.77" height="20.45" fill="#f2f322"/>
<rect x="632.79" y="797.9" width="1.77" height="20.45" fill="#f4eb23"/>
<rect x="794.49" y="618.1" width="1.77" height="4.1" fill="#f4eb23"/>
<rect x="796.21" y="706" width="1.77" height="10.2" fill="#f3f122"/>
<rect x="854.7" y="655" width="1.77" height="10.2" fill="#f3f022"/>
<rect x="670.63" y="706" width="1.77" height="10.2" fill="#f4ec23"/>
<rect x="768.68" y="797.9" width="1.77" height="20.45" fill="#f4ed23"/>
<rect x="596.66" y="665.2" width="1.77" height="10.2" fill="#f2f322"/>
<rect x="868.46" y="818.35" width="1.77" height="20.45" fill="#f4ec23"/>
<rect x="741.16" y="838.8" width="1.77" height="20.45" fill="#f3ef22"/>
<rect x="641.39" y="797.9" width="1.77" height="20.45" fill="#f3f122"/>
<rect x="768.68" y="706" width="1.77" height="10.2" fill="#f4ec23"/>
<rect x="753.2" y="797.9" width="1.77" height="20.45" fill="#f4ec23"/>
<rect x="672.35" y="634.5" width="1.77" height="4.1" fill="#f3f022"/>
<rect x="634.51" y="634.5" width="1.77" height="4.1" fill="#f3f122"/>
<rect x="865.02" y="630.4" width="1.77" height="4.1" fill="#f5eb23"/>
<rect x="722.24" y="716.2" width="1.77" height="10.2" fill="#f4eb23"/>
<rect x="825.45" y="646.8" width="1.77" height="4.1" fill="#f3ef22"/>
<rect x="873.62" y="665.2" width="1.77" height="10.2" fill="#f5eb23"/>
<rect x="844.38" y="650.9" width="1.77" height="4.1" fill="#f4ed23"/>
<rect x="694.71" y="716.2" width="1.77" height="10.2" fill="#f2f322"/>
<rect x="677.51" y="757" width="1.77" height="20.45" fill="#f3ef22"/>
<rect x="701.6" y="706" width="1.77" height="10.2" fill="#f2f322"/>
<rect x="815.13" y="736.6" width="1.77" height="10.2" fill="#f3ef22"/>
<rect x="634.51" y="777.45" width="1.77" height="20.45" fill="#f3ef22"/>
<rect x="610.42" y="675.4" width="1.77" height="10.2" fill="#f3ef22"/>
<rect x="665.47" y="920.6" width="1.77" height="19.8" fill="#f3f022"/>
<rect x="615.58" y="726.4" width="1.77" height="10.2" fill="#f3ee23"/>
<rect x="822.01" y="695.8" width="1.77" height="10.2" fill="#fdc428"/>
<rect x="717.08" y="838.8" width="1.77" height="20.45" fill="#fcc728"/>
<rect x="715.36" y="838.8" width="1.77" height="20.45" fill="#fdbf2a"/>
<rect x="698.15" y="797.9" width="1.77" height="20.45" fill="#fad526"/>
<rect x="761.8" y="634.5" width="1.77" height="4.1" fill="#fdc528"/>
<rect x="612.14" y="859.25" width="1.77" height="20.45" fill="#fdb82d"/>
<rect x="689.55" y="726.4" width="1.77" height="10.2" fill="#fbd326"/>
<rect x="698.15" y="618.1" width="1.77" height="4.1" fill="#fccb27"/>
<rect x="796.21" y="685.6" width="1.77" height="10.2" fill="#fdb031"/>
<rect x="641.39" y="638.6" width="1.77" height="4.1" fill="#fdbd2b"/>
<rect x="680.95" y="859.25" width="1.77" height="20.45" fill="#fdc328"/>
<rect x="644.83" y="675.4" width="1.77" height="10.2" fill="#fdc029"/>
<rect x="791.05" y="879.7" width="1.77" height="20.45" fill="#fdbb2c"/>
<rect x="823.73" y="797.9" width="1.77" height="20.45" fill="#fcc728"/>
<rect x="646.55" y="665.2" width="1.77" height="10.2" fill="#fdb031"/>
<rect x="727.4" y="859.25" width="1.77" height="20.45" fill="#fdc129"/>
<rect x="859.86" y="818.35" width="1.77" height="20.45" fill="#fcca27"/>
<rect x="696.43" y="685.6" width="1.77" height="10.2" fill="#fdbc2b"/>
<rect x="878.78" y="757" width="1.77" height="20.45" fill="#fdc129"/>
<rect x="594.94" y="716.2" width="1.77" height="10.2" fill="#fdbc2b"/>
<rect x="606.98" y="646.8" width="1.77" height="4.1" fill="#fad526"/>
<rect x="629.35" y="797.9" width="1.77" height="20.45" fill="#fcca27"/>
<path fill="#f4ee23" d="M593.22 573.8h1.77v1.35h-1.77zM596.66 573.8h1.77v1.35h-1.77zM598.38 575.1h1.77v1.35h-1.77zM603.54 564.7h1.77v1.35h-1.77zM605.26 567.3h1.77v1.35h-1.77zM612.14 560.8h1.77v1.35h-1.77zM613.86 555.6h1.77v1.35h-1.77zM617.3 553h1.77v1.35h-1.77zM627.62 554.3h1.77v1.35h-1.77zM627.62 555.6h1.77v1.35h-1.77zM639.67 554.3h1.77v1.35h-1.77zM641.39 555.6h1.77v1.35h-1.77zM648.27 571.2h1.77v1.35h-1.77zM651.71 571.2h1.77v1.35h-1.77zM655.15 569.9h1.77v1.35h-1.77zM655.15 572.5h1.77v1.35h-1.77zM656.87 571.2h1.77v1.35h-1.77zM677.51 555.6h1.77v1.35h-1.77zM687.83 555.6h1.77v1.35h-1.77zM687.83 556.9h1.77v1.35h-1.77zM696.43 554.3h1.77v1.35h-1.77zM706.76 554.3h1.77v1.35h-1.77zM708.48 567.3h1.77v1.35h-1.77zM717.08 575.1h1.77v1.35h-1.77zM732.56 567.3h1.77v1.35h-1.77zM737.72 562.1h1.77v1.35h-1.77zM737.72 563.4h1.77v1.35h-1.77zM741.16 556.9h1.77v1.35h-1.77zM758.36 556.9h1.77v1.35h-1.77zM760.08 554.3h1.77v1.35h-1.77zM768.68 558.2h1.77v1.35h-1.77zM782.45 576.4h1.77v1.35h-1.77zM782.45 581.05h1.77v2.1h-1.77zM782.45 583.1h1.77v2.1h-1.77zM782.45 585.15h1.77v2.1h-1.77zM784.17 569.9h1.77v1.35h-1.77zM785.89 571.2h1.77v1.35h-1.77zM785.89 572.5h1.77v1.35h-1.77zM785.89 573.8h1.77v1.35h-1.77zM787.61 579h1.77v2.1h-1.77zM789.33 587.2h1.77v2.1h-1.77zM794.49 581.05h1.77v2.1h-1.77zM797.93 575.1h1.77v1.35h-1.77zM797.93 576.4h1.77v1.35h-1.77zM801.37 576.4h1.77v1.35h-1.77zM801.37 583.1h1.77v2.1h-1.77zM804.81 569.9h1.77v1.35h-1.77zM815.13 573.8h1.77v1.35h-1.77zM820.29 572.5h1.77v1.35h-1.77zM823.73 581.05h1.77v2.1h-1.77zM828.89 595.4h1.77v2.1h-1.77zM830.61 589.25h1.77v2.1h-1.77zM837.49 583.1h1.77v2.1h-1.77zM837.49 585.15h1.77v2.1h-1.77zM839.21 581.05h1.77v2.1h-1.77zM839.21 593.35h1.77v2.1h-1.77zM840.93 579h1.77v2.1h-1.77zM840.93 581.05h1.77v2.1h-1.77zM842.65 579h1.77v2.1h-1.77zM846.1 572.5h1.77v1.35h-1.77zM847.82 583.1h1.77v2.1h-1.77zM856.42 583.1h1.77v2.1h-1.77zM858.14 572.5h1.77v1.35h-1.77zM858.14 573.8h1.77v1.35h-1.77zM863.3 571.2h1.77v1.35h-1.77zM868.46 581.05h1.77v2.1h-1.77zM868.46 585.15h1.77v2.1h-1.77zM871.9 576.4h1.77v1.35h-1.77zM873.62 576.4h1.77v1.35h-1.77zM877.06 576.4h1.77v1.35h-1.77z"/>
<path fill="#f7e324" d="M591.5 568.6h1.77v1.35h-1.77zM591.5 569.9h1.77v1.35h-1.77zM591.5 571.2h1.77v1.35h-1.77zM591.5 572.5h1.77v1.35h-1.77zM593.22 569.9h1.77v1.35h-1.77zM593.22 571.2h1.77v1.35h-1.77zM594.94 572.5h1.77v1.35h-1.77zM594.94 573.8h1.77v1.35h-1.77zM594.94 576.4h1.77v1.35h-1.77zM594.94 579h1.77v2.1h-1.77zM594.94 583.1h1.77v2.1h-1.77zM596.66 572.5h1.77v1.35h-1.77zM598.38 569.9h1.77v1.35h-1.77zM598.38 571.2h1.77v1.35h-1.77zM598.38 572.5h1.77v1.35h-1.77zM600.1 566h1.77v1.35h-1.77zM600.1 568.6h1.77v1.35h-1.77zM601.82 563.4h1.77v1.35h-1.77zM601.82 564.7h1.77v1.35h-1.77zM603.54 563.4h1.77v1.35h-1.77zM603.54 567.3h1.77v1.35h-1.77zM603.54 568.6h1.77v1.35h-1.77zM605.26 562.1h1.77v1.35h-1.77zM605.26 564.7h1.77v1.35h-1.77zM605.26 566h1.77v1.35h-1.77zM606.98 560.8h1.77v1.35h-1.77zM606.98 562.1h1.77v1.35h-1.77zM606.98 563.4h1.77v1.35h-1.77zM608.7 562.1h1.77v1.35h-1.77zM608.7 563.4h1.77v1.35h-1.77zM610.42 559.5h1.77v1.35h-1.77zM610.42 560.8h1.77v1.35h-1.77zM612.14 559.5h1.77v1.35h-1.77zM612.14 562.1h1.77v1.35h-1.77zM615.58 553h1.77v1.35h-1.77zM620.74 553h1.77v1.35h-1.77zM620.74 555.6h1.77v1.35h-1.77zM620.74 556.9h1.77v1.35h-1.77zM620.74 558.2h1.77v1.35h-1.77zM622.46 553h1.77v1.35h-1.77zM625.9 553h1.77v1.35h-1.77zM627.62 553h1.77v1.35h-1.77zM629.35 553h1.77v1.35h-1.77zM629.35 555.6h1.77v1.35h-1.77zM632.79 553h1.77v1.35h-1.77zM636.23 553h1.77v1.35h-1.77zM636.23 554.3h1.77v1.35h-1.77zM641.39 553h1.77v1.35h-1.77zM641.39 554.3h1.77v1.35h-1.77zM641.39 556.9h1.77v1.35h-1.77zM643.11 555.6h1.77v1.35h-1.77zM643.11 556.9h1.77v1.35h-1.77zM643.11 558.2h1.77v1.35h-1.77zM643.11 559.5h1.77v1.35h-1.77zM644.83 563.4h1.77v1.35h-1.77zM644.83 566h1.77v1.35h-1.77zM648.27 567.3h1.77v1.35h-1.77zM648.27 568.6h1.77v1.35h-1.77zM648.27 569.9h1.77v1.35h-1.77zM649.99 567.3h1.77v1.35h-1.77zM649.99 568.6h1.77v1.35h-1.77zM649.99 569.9h1.77v1.35h-1.77zM649.99 571.2h1.77v1.35h-1.77zM649.99 573.8h1.77v1.35h-1.77zM649.99 575.1h1.77v1.35h-1.77zM651.71 567.3h1.77v1.35h-1.77zM651.71 568.6h1.77v1.35h-1.77zM653.43 569.9h1.77v1.35h-1.77zM655.15 567.3h1.77v1.35h-1.77zM655.15 568.6h1.77v1.35h-1.77zM655.15 571.2h1.77v1.35h-1.77zM656.87 567.3h1.77v1.35h-1.77zM656.87 568.6h1.77v1.35h-1.77zM656.87 569.9h1.77v1.35h-1.77zM658.59 562.1h1.77v1.35h-1.77zM660.31 567.3h1.77v1.35h-1.77zM662.03 564.7h1.77v1.35h-1.77zM663.75 560.8h1.77v1.35h-1.77zM663.75 562.1h1.77v1.35h-1.77zM665.47 563.4h1.77v1.35h-1.77zM665.47 564.7h1.77v1.35h-1.77zM665.47 567.3h1.77v1.35h-1.77zM667.19 563.4h1.77v1.35h-1.77zM668.91 559.5h1.77v1.35h-1.77zM670.63 562.1h1.77v1.35h-1.77zM670.63 563.4h1.77v1.35h-1.77zM672.35 556.9h1.77v1.35h-1.77zM675.79 554.3h1.77v1.35h-1.77zM684.39 554.3h1.77v1.35h-1.77zM692.99 553h1.77v1.35h-1.77zM692.99 554.3h1.77v1.35h-1.77zM692.99 555.6h1.77v1.35h-1.77zM692.99 556.9h1.77v1.35h-1.77zM692.99 558.2h1.77v1.35h-1.77zM703.32 554.3h1.77v1.35h-1.77zM703.32 555.6h1.77v1.35h-1.77zM705.04 553h1.77v1.35h-1.77zM706.76 553h1.77v1.35h-1.77zM706.76 555.6h1.77v1.35h-1.77zM708.48 566h1.77v1.35h-1.77zM710.2 571.2h1.77v1.35h-1.77zM711.92 569.9h1.77v1.35h-1.77zM711.92 571.2h1.77v1.35h-1.77zM713.64 567.3h1.77v1.35h-1.77zM713.64 569.9h1.77v1.35h-1.77zM713.64 571.2h1.77v1.35h-1.77zM713.64 572.5h1.77v1.35h-1.77zM715.36 568.6h1.77v1.35h-1.77zM715.36 571.2h1.77v1.35h-1.77zM715.36 573.8h1.77v1.35h-1.77zM715.36 575.1h1.77v1.35h-1.77zM715.36 576.4h1.77v1.35h-1.77zM715.36 577.7h1.77v1.35h-1.77zM717.08 571.2h1.77v1.35h-1.77zM717.08 572.5h1.77v1.35h-1.77zM717.08 573.8h1.77v1.35h-1.77zM718.8 571.2h1.77v1.35h-1.77zM718.8 572.5h1.77v1.35h-1.77zM720.52 572.5h1.77v1.35h-1.77zM722.24 569.9h1.77v1.35h-1.77zM722.24 571.2h1.77v1.35h-1.77zM723.96 571.2h1.77v1.35h-1.77zM723.96 572.5h1.77v1.35h-1.77zM725.68 572.5h1.77v1.35h-1.77zM725.68 573.8h1.77v1.35h-1.77zM727.4 577.7h1.77v1.35h-1.77zM727.4 579h1.77v2.1h-1.77zM730.84 564.7h1.77v1.35h-1.77zM734.28 569.9h1.77v1.35h-1.77zM734.28 571.2h1.77v1.35h-1.77zM736 564.7h1.77v1.35h-1.77zM736 567.3h1.77v1.35h-1.77zM739.44 553h1.77v1.35h-1.77zM739.44 554.3h1.77v1.35h-1.77zM739.44 555.6h1.77v1.35h-1.77zM739.44 556.9h1.77v1.35h-1.77zM739.44 558.2h1.77v1.35h-1.77zM741.16 553h1.77v1.35h-1.77zM741.16 554.3h1.77v1.35h-1.77zM741.16 555.6h1.77v1.35h-1.77zM741.16 558.2h1.77v1.35h-1.77zM741.16 559.5h1.77v1.35h-1.77zM742.88 553h1.77v1.35h-1.77zM742.88 554.3h1.77v1.35h-1.77zM742.88 555.6h1.77v1.35h-1.77zM742.88 556.9h1.77v1.35h-1.77zM744.6 553h1.77v1.35h-1.77zM746.32 553h1.77v1.35h-1.77zM751.48 553h1.77v1.35h-1.77zM751.48 554.3h1.77v1.35h-1.77zM753.2 553h1.77v1.35h-1.77zM753.2 554.3h1.77v1.35h-1.77zM754.92 553h1.77v1.35h-1.77zM754.92 554.3h1.77v1.35h-1.77zM756.64 553h1.77v1.35h-1.77zM756.64 554.3h1.77v1.35h-1.77zM758.36 553h1.77v1.35h-1.77zM758.36 554.3h1.77v1.35h-1.77zM758.36 555.6h1.77v1.35h-1.77zM760.08 553h1.77v1.35h-1.77zM760.08 556.9h1.77v1.35h-1.77zM763.52 553h1.77v1.35h-1.77zM763.52 554.3h1.77v1.35h-1.77zM763.52 555.6h1.77v1.35h-1.77zM763.52 558.2h1.77v1.35h-1.77zM765.24 553h1.77v1.35h-1.77zM765.24 554.3h1.77v1.35h-1.77zM765.24 555.6h1.77v1.35h-1.77zM766.96 553h1.77v1.35h-1.77zM766.96 554.3h1.77v1.35h-1.77zM766.96 555.6h1.77v1.35h-1.77zM766.96 558.2h1.77v1.35h-1.77zM768.68 555.6h1.77v1.35h-1.77zM768.68 556.9h1.77v1.35h-1.77zM770.4 558.2h1.77v1.35h-1.77zM770.4 560.8h1.77v1.35h-1.77zM772.12 563.4h1.77v1.35h-1.77zM772.12 566h1.77v1.35h-1.77zM772.12 567.3h1.77v1.35h-1.77zM772.12 568.6h1.77v1.35h-1.77zM772.12 569.9h1.77v1.35h-1.77zM772.12 571.2h1.77v1.35h-1.77zM772.12 575.1h1.77v1.35h-1.77zM773.85 569.9h1.77v1.35h-1.77zM773.85 571.2h1.77v1.35h-1.77zM773.85 572.5h1.77v1.35h-1.77zM773.85 573.8h1.77v1.35h-1.77zM773.85 575.1h1.77v1.35h-1.77zM773.85 577.7h1.77v1.35h-1.77zM775.57 563.4h1.77v1.35h-1.77zM775.57 566h1.77v1.35h-1.77zM775.57 567.3h1.77v1.35h-1.77zM775.57 568.6h1.77v1.35h-1.77zM775.57 569.9h1.77v1.35h-1.77zM775.57 573.8h1.77v1.35h-1.77zM775.57 575.1h1.77v1.35h-1.77zM775.57 576.4h1.77v1.35h-1.77zM775.57 583.1h1.77v2.1h-1.77zM777.29 562.1h1.77v1.35h-1.77zM777.29 564.7h1.77v1.35h-1.77zM777.29 566h1.77v1.35h-1.77zM777.29 567.3h1.77v1.35h-1.77zM779.01 563.4h1.77v1.35h-1.77zM779.01 564.7h1.77v1.35h-1.77zM779.01 567.3h1.77v1.35h-1.77zM780.73 566h1.77v1.35h-1.77zM780.73 567.3h1.77v1.35h-1.77zM780.73 568.6h1.77v1.35h-1.77zM780.73 569.9h1.77v1.35h-1.77zM782.45 568.6h1.77v1.35h-1.77zM782.45 571.2h1.77v1.35h-1.77zM782.45 572.5h1.77v1.35h-1.77zM782.45 573.8h1.77v1.35h-1.77zM782.45 575.1h1.77v1.35h-1.77zM784.17 564.7h1.77v1.35h-1.77zM784.17 567.3h1.77v1.35h-1.77zM784.17 568.6h1.77v1.35h-1.77zM784.17 571.2h1.77v1.35h-1.77zM784.17 572.5h1.77v1.35h-1.77zM785.89 566h1.77v1.35h-1.77zM785.89 567.3h1.77v1.35h-1.77zM785.89 568.6h1.77v1.35h-1.77zM785.89 569.9h1.77v1.35h-1.77zM787.61 576.4h1.77v1.35h-1.77zM787.61 577.7h1.77v1.35h-1.77zM789.33 579h1.77v2.1h-1.77zM789.33 581.05h1.77v2.1h-1.77zM789.33 583.1h1.77v2.1h-1.77zM789.33 593.35h1.77v2.1h-1.77zM789.33 595.4h1.77v2.1h-1.77zM791.05 581.05h1.77v2.1h-1.77zM791.05 583.1h1.77v2.1h-1.77zM791.05 585.15h1.77v2.1h-1.77zM791.05 587.2h1.77v2.1h-1.77zM791.05 589.25h1.77v2.1h-1.77zM791.05 597.45h1.77v2.1h-1.77zM792.77 576.4h1.77v1.35h-1.77zM794.49 579h1.77v2.1h-1.77zM796.21 576.4h1.77v1.35h-1.77zM796.21 577.7h1.77v1.35h-1.77zM796.21 579h1.77v2.1h-1.77zM797.93 571.2h1.77v1.35h-1.77zM797.93 572.5h1.77v1.35h-1.77zM797.93 573.8h1.77v1.35h-1.77zM797.93 577.7h1.77v1.35h-1.77zM799.65 568.6h1.77v1.35h-1.77zM799.65 572.5h1.77v1.35h-1.77zM799.65 573.8h1.77v1.35h-1.77zM799.65 577.7h1.77v1.35h-1.77zM801.37 572.5h1.77v1.35h-1.77zM801.37 573.8h1.77v1.35h-1.77zM801.37 575.1h1.77v1.35h-1.77zM801.37 579h1.77v2.1h-1.77zM803.09 563.4h1.77v1.35h-1.77zM803.09 564.7h1.77v1.35h-1.77zM803.09 566h1.77v1.35h-1.77zM803.09 567.3h1.77v1.35h-1.77zM803.09 568.6h1.77v1.35h-1.77zM803.09 569.9h1.77v1.35h-1.77zM804.81 567.3h1.77v1.35h-1.77zM804.81 568.6h1.77v1.35h-1.77zM804.81 571.2h1.77v1.35h-1.77zM804.81 572.5h1.77v1.35h-1.77zM806.53 569.9h1.77v1.35h-1.77zM808.25 572.5h1.77v1.35h-1.77zM808.25 573.8h1.77v1.35h-1.77zM808.25 575.1h1.77v1.35h-1.77zM809.97 571.2h1.77v1.35h-1.77zM809.97 576.4h1.77v1.35h-1.77zM809.97 577.7h1.77v1.35h-1.77zM809.97 581.05h1.77v2.1h-1.77zM809.97 583.1h1.77v2.1h-1.77zM809.97 585.15h1.77v2.1h-1.77zM809.97 589.25h1.77v2.1h-1.77zM809.97 593.35h1.77v2.1h-1.77zM809.97 595.4h1.77v2.1h-1.77zM811.69 573.8h1.77v1.35h-1.77zM811.69 575.1h1.77v1.35h-1.77zM813.41 567.3h1.77v1.35h-1.77zM813.41 568.6h1.77v1.35h-1.77zM813.41 569.9h1.77v1.35h-1.77zM813.41 571.2h1.77v1.35h-1.77zM813.41 575.1h1.77v1.35h-1.77zM815.13 568.6h1.77v1.35h-1.77zM815.13 569.9h1.77v1.35h-1.77zM815.13 571.2h1.77v1.35h-1.77zM815.13 572.5h1.77v1.35h-1.77zM816.85 567.3h1.77v1.35h-1.77zM816.85 568.6h1.77v1.35h-1.77zM816.85 569.9h1.77v1.35h-1.77zM816.85 571.2h1.77v1.35h-1.77zM816.85 572.5h1.77v1.35h-1.77zM818.57 571.2h1.77v1.35h-1.77zM820.29 569.9h1.77v1.35h-1.77zM820.29 573.8h1.77v1.35h-1.77zM820.29 575.1h1.77v1.35h-1.77zM820.29 577.7h1.77v1.35h-1.77zM820.29 579h1.77v2.1h-1.77zM820.29 581.05h1.77v2.1h-1.77zM820.29 583.1h1.77v2.1h-1.77zM820.29 585.15h1.77v2.1h-1.77zM820.29 589.25h1.77v2.1h-1.77zM822.01 571.2h1.77v1.35h-1.77zM822.01 575.1h1.77v1.35h-1.77zM822.01 576.4h1.77v1.35h-1.77zM822.01 579h1.77v2.1h-1.77zM823.73 567.3h1.77v1.35h-1.77zM823.73 571.2h1.77v1.35h-1.77zM823.73 572.5h1.77v1.35h-1.77zM823.73 573.8h1.77v1.35h-1.77zM823.73 575.1h1.77v1.35h-1.77zM823.73 577.7h1.77v1.35h-1.77zM825.45 571.2h1.77v1.35h-1.77zM825.45 572.5h1.77v1.35h-1.77zM825.45 573.8h1.77v1.35h-1.77zM825.45 575.1h1.77v1.35h-1.77zM825.45 576.4h1.77v1.35h-1.77zM825.45 577.7h1.77v1.35h-1.77zM825.45 581.05h1.77v2.1h-1.77zM825.45 585.15h1.77v2.1h-1.77zM827.17 579h1.77v2.1h-1.77zM827.17 581.05h1.77v2.1h-1.77zM827.17 583.1h1.77v2.1h-1.77zM828.89 577.7h1.77v1.35h-1.77zM828.89 581.05h1.77v2.1h-1.77zM828.89 585.15h1.77v2.1h-1.77zM828.89 591.3h1.77v2.1h-1.77zM830.61 572.5h1.77v1.35h-1.77zM830.61 573.8h1.77v1.35h-1.77zM830.61 575.1h1.77v1.35h-1.77zM832.33 581.05h1.77v2.1h-1.77zM832.33 583.1h1.77v2.1h-1.77zM832.33 585.15h1.77v2.1h-1.77zM834.05 577.7h1.77v1.35h-1.77zM834.05 579h1.77v2.1h-1.77zM834.05 581.05h1.77v2.1h-1.77zM835.77 576.4h1.77v1.35h-1.77zM835.77 577.7h1.77v1.35h-1.77zM837.49 579h1.77v2.1h-1.77zM837.49 581.05h1.77v2.1h-1.77zM837.49 591.3h1.77v2.1h-1.77zM839.21 575.1h1.77v1.35h-1.77zM839.21 579h1.77v2.1h-1.77zM839.21 583.1h1.77v2.1h-1.77zM839.21 591.3h1.77v2.1h-1.77zM840.93 568.6h1.77v1.35h-1.77zM840.93 569.9h1.77v1.35h-1.77zM840.93 571.2h1.77v1.35h-1.77zM840.93 572.5h1.77v1.35h-1.77zM840.93 573.8h1.77v1.35h-1.77zM840.93 575.1h1.77v1.35h-1.77zM840.93 577.7h1.77v1.35h-1.77zM840.93 585.15h1.77v2.1h-1.77zM842.65 568.6h1.77v1.35h-1.77zM842.65 569.9h1.77v1.35h-1.77zM842.65 573.8h1.77v1.35h-1.77zM842.65 575.1h1.77v1.35h-1.77zM842.65 577.7h1.77v1.35h-1.77zM844.38 563.4h1.77v1.35h-1.77zM844.38 567.3h1.77v1.35h-1.77zM844.38 569.9h1.77v1.35h-1.77zM844.38 571.2h1.77v1.35h-1.77zM846.1 569.9h1.77v1.35h-1.77zM846.1 571.2h1.77v1.35h-1.77zM846.1 573.8h1.77v1.35h-1.77zM846.1 575.1h1.77v1.35h-1.77zM846.1 579h1.77v2.1h-1.77zM847.82 572.5h1.77v1.35h-1.77zM847.82 576.4h1.77v1.35h-1.77zM847.82 577.7h1.77v1.35h-1.77zM847.82 579h1.77v2.1h-1.77zM849.54 575.1h1.77v1.35h-1.77zM849.54 576.4h1.77v1.35h-1.77zM849.54 577.7h1.77v1.35h-1.77zM849.54 579h1.77v2.1h-1.77zM849.54 581.05h1.77v2.1h-1.77zM849.54 583.1h1.77v2.1h-1.77zM849.54 585.15h1.77v2.1h-1.77zM851.26 571.2h1.77v1.35h-1.77zM851.26 572.5h1.77v1.35h-1.77zM851.26 573.8h1.77v1.35h-1.77zM851.26 575.1h1.77v1.35h-1.77zM851.26 576.4h1.77v1.35h-1.77zM852.98 571.2h1.77v1.35h-1.77zM852.98 572.5h1.77v1.35h-1.77zM852.98 573.8h1.77v1.35h-1.77zM854.7 569.9h1.77v1.35h-1.77zM854.7 572.5h1.77v1.35h-1.77zM856.42 571.2h1.77v1.35h-1.77zM856.42 573.8h1.77v1.35h-1.77zM856.42 575.1h1.77v1.35h-1.77zM856.42 576.4h1.77v1.35h-1.77zM856.42 577.7h1.77v1.35h-1.77zM856.42 581.05h1.77v2.1h-1.77zM856.42 585.15h1.77v2.1h-1.77zM858.14 571.2h1.77v1.35h-1.77zM859.86 577.7h1.77v1.35h-1.77zM861.58 568.6h1.77v1.35h-1.77zM861.58 569.9h1.77v1.35h-1.77zM861.58 571.2h1.77v1.35h-1.77zM861.58 572.5h1.77v1.35h-1.77zM863.3 568.6h1.77v1.35h-1.77zM863.3 569.9h1.77v1.35h-1.77zM865.02 572.5h1.77v1.35h-1.77zM866.74 567.3h1.77v1.35h-1.77zM866.74 571.2h1.77v1.35h-1.77zM868.46 575.1h1.77v1.35h-1.77zM868.46 576.4h1.77v1.35h-1.77zM868.46 577.7h1.77v1.35h-1.77zM870.18 575.1h1.77v1.35h-1.77zM870.18 576.4h1.77v1.35h-1.77zM870.18 577.7h1.77v1.35h-1.77zM871.9 572.5h1.77v1.35h-1.77zM871.9 573.8h1.77v1.35h-1.77zM871.9 575.1h1.77v1.35h-1.77zM871.9 577.7h1.77v1.35h-1.77zM873.62 573.8h1.77v1.35h-1.77zM873.62 575.1h1.77v1.35h-1.77zM875.34 567.3h1.77v1.35h-1.77zM875.34 568.6h1.77v1.35h-1.77zM875.34 569.9h1.77v1.35h-1.77zM877.06 568.6h1.77v1.35h-1.77zM877.06 569.9h1.77v1.35h-1.77zM877.06 571.2h1.77v1.35h-1.77zM877.06 572.5h1.77v1.35h-1.77zM877.06 573.8h1.77v1.35h-1.77zM877.06 575.1h1.77v1.35h-1.77zM877.06 583.1h1.77v2.1h-1.77zM878.78 567.3h1.77v1.35h-1.77zM878.78 568.6h1.77v1.35h-1.77zM878.78 571.2h1.77v1.35h-1.77zM878.78 572.5h1.77v1.35h-1.77zM878.78 573.8h1.77v1.35h-1.77zM878.78 575.1h1.77v1.35h-1.77zM878.78 577.7h1.77v1.35h-1.77zM878.78 579h1.77v2.1h-1.77z"/>
<path fill="#fad826" d="M591.5 567.3h1.77v1.35h-1.77zM593.22 568.6h1.77v1.35h-1.77zM596.66 569.9h1.77v1.35h-1.77zM596.66 571.2h1.77v1.35h-1.77zM598.38 568.6h1.77v1.35h-1.77zM600.1 564.7h1.77v1.35h-1.77zM601.82 562.1h1.77v1.35h-1.77zM605.26 560.8h1.77v1.35h-1.77zM605.26 563.4h1.77v1.35h-1.77zM606.98 558.2h1.77v1.35h-1.77zM610.42 558.2h1.77v1.35h-1.77zM612.14 556.9h1.77v1.35h-1.77zM612.14 558.2h1.77v1.35h-1.77zM643.11 553h1.77v1.35h-1.77zM643.11 554.3h1.77v1.35h-1.77zM644.83 560.8h1.77v1.35h-1.77zM644.83 562.1h1.77v1.35h-1.77zM646.55 563.4h1.77v1.35h-1.77zM646.55 564.7h1.77v1.35h-1.77zM649.99 566h1.77v1.35h-1.77zM651.71 566h1.77v1.35h-1.77zM653.43 567.3h1.77v1.35h-1.77zM653.43 568.6h1.77v1.35h-1.77zM655.15 564.7h1.77v1.35h-1.77zM655.15 566h1.77v1.35h-1.77zM656.87 563.4h1.77v1.35h-1.77zM656.87 564.7h1.77v1.35h-1.77zM656.87 566h1.77v1.35h-1.77zM658.59 563.4h1.77v1.35h-1.77zM660.31 563.4h1.77v1.35h-1.77zM660.31 566h1.77v1.35h-1.77zM662.03 562.1h1.77v1.35h-1.77zM662.03 563.4h1.77v1.35h-1.77zM663.75 559.5h1.77v1.35h-1.77zM665.47 560.8h1.77v1.35h-1.77zM665.47 562.1h1.77v1.35h-1.77zM667.19 560.8h1.77v1.35h-1.77zM667.19 562.1h1.77v1.35h-1.77zM668.91 556.9h1.77v1.35h-1.77zM668.91 558.2h1.77v1.35h-1.77zM670.63 560.8h1.77v1.35h-1.77zM672.35 554.3h1.77v1.35h-1.77zM672.35 555.6h1.77v1.35h-1.77zM672.35 558.2h1.77v1.35h-1.77zM677.51 553h1.77v1.35h-1.77zM708.48 563.4h1.77v1.35h-1.77zM710.2 567.3h1.77v1.35h-1.77zM710.2 568.6h1.77v1.35h-1.77zM713.64 568.6h1.77v1.35h-1.77zM715.36 569.9h1.77v1.35h-1.77zM715.36 572.5h1.77v1.35h-1.77zM720.52 571.2h1.77v1.35h-1.77zM723.96 569.9h1.77v1.35h-1.77zM725.68 571.2h1.77v1.35h-1.77zM727.4 575.1h1.77v1.35h-1.77zM727.4 576.4h1.77v1.35h-1.77zM729.12 566h1.77v1.35h-1.77zM732.56 564.7h1.77v1.35h-1.77zM732.56 566h1.77v1.35h-1.77zM734.28 567.3h1.77v1.35h-1.77zM734.28 568.6h1.77v1.35h-1.77zM736 563.4h1.77v1.35h-1.77zM737.72 560.8h1.77v1.35h-1.77zM768.68 553h1.77v1.35h-1.77zM768.68 554.3h1.77v1.35h-1.77zM770.4 555.6h1.77v1.35h-1.77zM770.4 556.9h1.77v1.35h-1.77zM770.4 559.5h1.77v1.35h-1.77zM772.12 560.8h1.77v1.35h-1.77zM772.12 564.7h1.77v1.35h-1.77zM773.85 563.4h1.77v1.35h-1.77zM773.85 566h1.77v1.35h-1.77zM773.85 567.3h1.77v1.35h-1.77zM773.85 568.6h1.77v1.35h-1.77zM775.57 564.7h1.77v1.35h-1.77zM775.57 571.2h1.77v1.35h-1.77zM777.29 558.2h1.77v1.35h-1.77zM777.29 559.5h1.77v1.35h-1.77zM777.29 563.4h1.77v1.35h-1.77zM779.01 562.1h1.77v1.35h-1.77zM780.73 564.7h1.77v1.35h-1.77zM782.45 566h1.77v1.35h-1.77zM782.45 569.9h1.77v1.35h-1.77zM784.17 562.1h1.77v1.35h-1.77zM784.17 566h1.77v1.35h-1.77zM785.89 563.4h1.77v1.35h-1.77zM785.89 564.7h1.77v1.35h-1.77zM787.61 573.8h1.77v1.35h-1.77zM787.61 575.1h1.77v1.35h-1.77zM789.33 575.1h1.77v1.35h-1.77zM789.33 577.7h1.77v1.35h-1.77zM792.77 575.1h1.77v1.35h-1.77zM794.49 576.4h1.77v1.35h-1.77zM796.21 575.1h1.77v1.35h-1.77zM797.93 567.3h1.77v1.35h-1.77zM797.93 568.6h1.77v1.35h-1.77zM797.93 569.9h1.77v1.35h-1.77zM799.65 567.3h1.77v1.35h-1.77zM799.65 569.9h1.77v1.35h-1.77zM801.37 568.6h1.77v1.35h-1.77zM801.37 571.2h1.77v1.35h-1.77zM803.09 553h1.77v1.35h-1.77zM804.81 566h1.77v1.35h-1.77zM806.53 568.6h1.77v1.35h-1.77zM808.25 568.6h1.77v1.35h-1.77zM808.25 569.9h1.77v1.35h-1.77zM808.25 571.2h1.77v1.35h-1.77zM809.97 566h1.77v1.35h-1.77zM809.97 569.9h1.77v1.35h-1.77zM809.97 572.5h1.77v1.35h-1.77zM809.97 573.8h1.77v1.35h-1.77zM809.97 575.1h1.77v1.35h-1.77zM811.69 571.2h1.77v1.35h-1.77zM811.69 572.5h1.77v1.35h-1.77zM813.41 564.7h1.77v1.35h-1.77zM815.13 564.7h1.77v1.35h-1.77zM815.13 566h1.77v1.35h-1.77zM816.85 564.7h1.77v1.35h-1.77zM816.85 566h1.77v1.35h-1.77zM818.57 566h1.77v1.35h-1.77zM818.57 569.9h1.77v1.35h-1.77zM820.29 571.2h1.77v1.35h-1.77zM822.01 566h1.77v1.35h-1.77zM822.01 567.3h1.77v1.35h-1.77zM822.01 569.9h1.77v1.35h-1.77zM822.01 572.5h1.77v1.35h-1.77zM823.73 564.7h1.77v1.35h-1.77zM823.73 566h1.77v1.35h-1.77zM823.73 568.6h1.77v1.35h-1.77zM823.73 569.9h1.77v1.35h-1.77zM825.45 568.6h1.77v1.35h-1.77zM825.45 569.9h1.77v1.35h-1.77zM827.17 577.7h1.77v1.35h-1.77zM828.89 575.1h1.77v1.35h-1.77zM828.89 576.4h1.77v1.35h-1.77zM828.89 579h1.77v2.1h-1.77zM828.89 583.1h1.77v2.1h-1.77zM830.61 569.9h1.77v1.35h-1.77zM830.61 571.2h1.77v1.35h-1.77zM832.33 579h1.77v2.1h-1.77zM834.05 575.1h1.77v1.35h-1.77zM834.05 576.4h1.77v1.35h-1.77zM835.77 573.8h1.77v1.35h-1.77zM835.77 575.1h1.77v1.35h-1.77zM837.49 576.4h1.77v1.35h-1.77zM837.49 577.7h1.77v1.35h-1.77zM839.21 572.5h1.77v1.35h-1.77zM839.21 576.4h1.77v1.35h-1.77zM840.93 567.3h1.77v1.35h-1.77zM840.93 576.4h1.77v1.35h-1.77zM842.65 571.2h1.77v1.35h-1.77zM842.65 572.5h1.77v1.35h-1.77zM844.38 560.8h1.77v1.35h-1.77zM844.38 566h1.77v1.35h-1.77zM847.82 571.2h1.77v1.35h-1.77zM847.82 573.8h1.77v1.35h-1.77zM849.54 572.5h1.77v1.35h-1.77zM851.26 569.9h1.77v1.35h-1.77zM852.98 569.9h1.77v1.35h-1.77zM854.7 567.3h1.77v1.35h-1.77zM854.7 568.6h1.77v1.35h-1.77zM858.14 567.3h1.77v1.35h-1.77zM859.86 575.1h1.77v1.35h-1.77zM861.58 564.7h1.77v1.35h-1.77zM863.3 564.7h1.77v1.35h-1.77zM863.3 567.3h1.77v1.35h-1.77zM865.02 563.4h1.77v1.35h-1.77zM865.02 564.7h1.77v1.35h-1.77zM865.02 567.3h1.77v1.35h-1.77zM865.02 568.6h1.77v1.35h-1.77zM865.02 569.9h1.77v1.35h-1.77zM866.74 566h1.77v1.35h-1.77zM868.46 571.2h1.77v1.35h-1.77zM868.46 572.5h1.77v1.35h-1.77zM870.18 573.8h1.77v1.35h-1.77zM871.9 564.7h1.77v1.35h-1.77zM871.9 568.6h1.77v1.35h-1.77zM871.9 569.9h1.77v1.35h-1.77zM871.9 571.2h1.77v1.35h-1.77zM873.62 569.9h1.77v1.35h-1.77zM873.62 572.5h1.77v1.35h-1.77zM875.34 564.7h1.77v1.35h-1.77zM875.34 566h1.77v1.35h-1.77zM877.06 566h1.77v1.35h-1.77zM877.06 567.3h1.77v1.35h-1.77zM878.78 564.7h1.77v1.35h-1.77zM878.78 566h1.77v1.35h-1.77z"/>
<path fill="#fbcd27" d="M594.94 571.2h1.77v1.35h-1.77zM600.1 562.1h1.77v1.35h-1.77zM600.1 563.4h1.77v1.35h-1.77zM603.54 562.1h1.77v1.35h-1.77zM605.26 559.5h1.77v1.35h-1.77zM606.98 559.5h1.77v1.35h-1.77zM608.7 554.3h1.77v1.35h-1.77zM608.7 560.8h1.77v1.35h-1.77zM610.42 556.9h1.77v1.35h-1.77zM612.14 553h1.77v1.35h-1.77zM612.14 554.3h1.77v1.35h-1.77zM612.14 555.6h1.77v1.35h-1.77zM643.11 572.5h1.77v1.35h-1.77zM644.83 559.5h1.77v1.35h-1.77zM646.55 562.1h1.77v1.35h-1.77zM648.27 566h1.77v1.35h-1.77zM651.71 564.7h1.77v1.35h-1.77zM653.43 566h1.77v1.35h-1.77zM655.15 563.4h1.77v1.35h-1.77zM656.87 562.1h1.77v1.35h-1.77zM658.59 560.8h1.77v1.35h-1.77zM660.31 564.7h1.77v1.35h-1.77zM663.75 555.6h1.77v1.35h-1.77zM663.75 558.2h1.77v1.35h-1.77zM667.19 558.2h1.77v1.35h-1.77zM667.19 559.5h1.77v1.35h-1.77zM668.91 554.3h1.77v1.35h-1.77zM668.91 555.6h1.77v1.35h-1.77zM670.63 559.5h1.77v1.35h-1.77zM672.35 553h1.77v1.35h-1.77zM708.48 562.1h1.77v1.35h-1.77zM708.48 564.7h1.77v1.35h-1.77zM710.2 564.7h1.77v1.35h-1.77zM710.2 566h1.77v1.35h-1.77zM711.92 567.3h1.77v1.35h-1.77zM711.92 568.6h1.77v1.35h-1.77zM715.36 567.3h1.77v1.35h-1.77zM717.08 569.9h1.77v1.35h-1.77zM720.52 569.9h1.77v1.35h-1.77zM723.96 568.6h1.77v1.35h-1.77zM729.12 563.4h1.77v1.35h-1.77zM729.12 564.7h1.77v1.35h-1.77zM730.84 562.1h1.77v1.35h-1.77zM730.84 563.4h1.77v1.35h-1.77zM732.56 563.4h1.77v1.35h-1.77zM736 560.8h1.77v1.35h-1.77zM736 562.1h1.77v1.35h-1.77zM737.72 558.2h1.77v1.35h-1.77zM737.72 559.5h1.77v1.35h-1.77zM770.4 553h1.77v1.35h-1.77zM772.12 554.3h1.77v1.35h-1.77zM772.12 556.9h1.77v1.35h-1.77zM772.12 559.5h1.77v1.35h-1.77zM772.12 562.1h1.77v1.35h-1.77zM773.85 560.8h1.77v1.35h-1.77zM773.85 564.7h1.77v1.35h-1.77zM777.29 553h1.77v1.35h-1.77zM777.29 554.3h1.77v1.35h-1.77zM777.29 555.6h1.77v1.35h-1.77zM777.29 556.9h1.77v1.35h-1.77zM779.01 559.5h1.77v1.35h-1.77zM779.01 560.8h1.77v1.35h-1.77zM780.73 556.9h1.77v1.35h-1.77zM780.73 558.2h1.77v1.35h-1.77zM780.73 562.1h1.77v1.35h-1.77zM780.73 563.4h1.77v1.35h-1.77zM782.45 563.4h1.77v1.35h-1.77zM782.45 564.7h1.77v1.35h-1.77zM782.45 567.3h1.77v1.35h-1.77zM784.17 560.8h1.77v1.35h-1.77zM785.89 556.9h1.77v1.35h-1.77zM785.89 562.1h1.77v1.35h-1.77zM787.61 572.5h1.77v1.35h-1.77zM789.33 576.4h1.77v1.35h-1.77zM791.05 576.4h1.77v1.35h-1.77zM791.05 577.7h1.77v1.35h-1.77zM791.05 579h1.77v2.1h-1.77zM792.77 573.8h1.77v1.35h-1.77zM794.49 577.7h1.77v1.35h-1.77zM799.65 563.4h1.77v1.35h-1.77zM799.65 564.7h1.77v1.35h-1.77zM799.65 566h1.77v1.35h-1.77zM801.37 569.9h1.77v1.35h-1.77zM803.09 555.6h1.77v1.35h-1.77zM804.81 562.1h1.77v1.35h-1.77zM804.81 563.4h1.77v1.35h-1.77zM804.81 564.7h1.77v1.35h-1.77zM806.53 564.7h1.77v1.35h-1.77zM806.53 566h1.77v1.35h-1.77zM806.53 567.3h1.77v1.35h-1.77zM808.25 567.3h1.77v1.35h-1.77zM811.69 555.6h1.77v1.35h-1.77zM811.69 559.5h1.77v1.35h-1.77zM811.69 562.1h1.77v1.35h-1.77zM811.69 566h1.77v1.35h-1.77zM811.69 568.6h1.77v1.35h-1.77zM811.69 569.9h1.77v1.35h-1.77zM813.41 562.1h1.77v1.35h-1.77zM813.41 563.4h1.77v1.35h-1.77zM813.41 566h1.77v1.35h-1.77zM815.13 556.9h1.77v1.35h-1.77zM815.13 559.5h1.77v1.35h-1.77zM815.13 563.4h1.77v1.35h-1.77zM818.57 563.4h1.77v1.35h-1.77zM818.57 567.3h1.77v1.35h-1.77zM818.57 568.6h1.77v1.35h-1.77zM820.29 566h1.77v1.35h-1.77zM820.29 567.3h1.77v1.35h-1.77zM820.29 568.6h1.77v1.35h-1.77zM823.73 563.4h1.77v1.35h-1.77zM825.45 562.1h1.77v1.35h-1.77zM825.45 563.4h1.77v1.35h-1.77zM825.45 567.3h1.77v1.35h-1.77zM830.61 567.3h1.77v1.35h-1.77zM830.61 568.6h1.77v1.35h-1.77zM832.33 577.7h1.77v1.35h-1.77zM834.05 572.5h1.77v1.35h-1.77zM835.77 572.5h1.77v1.35h-1.77zM837.49 575.1h1.77v1.35h-1.77zM839.21 571.2h1.77v1.35h-1.77zM839.21 573.8h1.77v1.35h-1.77zM840.93 563.4h1.77v1.35h-1.77zM840.93 566h1.77v1.35h-1.77zM842.65 566h1.77v1.35h-1.77zM844.38 558.2h1.77v1.35h-1.77zM844.38 559.5h1.77v1.35h-1.77zM844.38 562.1h1.77v1.35h-1.77zM846.1 564.7h1.77v1.35h-1.77zM846.1 567.3h1.77v1.35h-1.77zM847.82 569.9h1.77v1.35h-1.77zM851.26 568.6h1.77v1.35h-1.77zM852.98 568.6h1.77v1.35h-1.77zM854.7 566h1.77v1.35h-1.77zM856.42 567.3h1.77v1.35h-1.77zM856.42 569.9h1.77v1.35h-1.77zM856.42 572.5h1.77v1.35h-1.77zM858.14 564.7h1.77v1.35h-1.77zM858.14 566h1.77v1.35h-1.77zM858.14 568.6h1.77v1.35h-1.77zM858.14 569.9h1.77v1.35h-1.77zM859.86 571.2h1.77v1.35h-1.77zM859.86 573.8h1.77v1.35h-1.77zM861.58 559.5h1.77v1.35h-1.77zM861.58 563.4h1.77v1.35h-1.77zM861.58 566h1.77v1.35h-1.77zM861.58 567.3h1.77v1.35h-1.77zM863.3 563.4h1.77v1.35h-1.77zM863.3 566h1.77v1.35h-1.77zM865.02 555.6h1.77v1.35h-1.77zM865.02 559.5h1.77v1.35h-1.77zM865.02 566h1.77v1.35h-1.77zM866.74 564.7h1.77v1.35h-1.77zM868.46 573.8h1.77v1.35h-1.77zM870.18 571.2h1.77v1.35h-1.77zM870.18 572.5h1.77v1.35h-1.77zM871.9 563.4h1.77v1.35h-1.77zM871.9 566h1.77v1.35h-1.77zM873.62 571.2h1.77v1.35h-1.77zM875.34 558.2h1.77v1.35h-1.77zM875.34 563.4h1.77v1.35h-1.77zM877.06 564.7h1.77v1.35h-1.77zM878.78 556.9h1.77v1.35h-1.77zM878.78 563.4h1.77v1.35h-1.77z"/>
<path fill="#fdc328" d="M591.5 566h1.77v1.35h-1.77zM593.22 567.3h1.77v1.35h-1.77zM594.94 569.9h1.77v1.35h-1.77zM598.38 567.3h1.77v1.35h-1.77zM601.82 560.8h1.77v1.35h-1.77zM603.54 560.8h1.77v1.35h-1.77zM606.98 556.9h1.77v1.35h-1.77zM610.42 555.6h1.77v1.35h-1.77zM646.55 559.5h1.77v1.35h-1.77zM648.27 563.4h1.77v1.35h-1.77zM649.99 564.7h1.77v1.35h-1.77zM653.43 564.7h1.77v1.35h-1.77zM658.59 559.5h1.77v1.35h-1.77zM660.31 562.1h1.77v1.35h-1.77zM662.03 560.8h1.77v1.35h-1.77zM663.75 554.3h1.77v1.35h-1.77zM663.75 556.9h1.77v1.35h-1.77zM665.47 554.3h1.77v1.35h-1.77zM665.47 558.2h1.77v1.35h-1.77zM665.47 559.5h1.77v1.35h-1.77zM667.19 555.6h1.77v1.35h-1.77zM667.19 556.9h1.77v1.35h-1.77zM668.91 553h1.77v1.35h-1.77zM670.63 553h1.77v1.35h-1.77zM670.63 555.6h1.77v1.35h-1.77zM670.63 556.9h1.77v1.35h-1.77zM670.63 558.2h1.77v1.35h-1.77zM710.2 562.1h1.77v1.35h-1.77zM711.92 566h1.77v1.35h-1.77zM713.64 566h1.77v1.35h-1.77zM713.64 611.8h1.77v2.1h-1.77zM715.36 566h1.77v1.35h-1.77zM718.8 568.6h1.77v1.35h-1.77zM718.8 569.9h1.77v1.35h-1.77zM722.24 568.6h1.77v1.35h-1.77zM723.96 567.3h1.77v1.35h-1.77zM725.68 569.9h1.77v1.35h-1.77zM727.4 573.8h1.77v1.35h-1.77zM732.56 560.8h1.77v1.35h-1.77zM734.28 566h1.77v1.35h-1.77zM736 559.5h1.77v1.35h-1.77zM770.4 554.3h1.77v1.35h-1.77zM772.12 553h1.77v1.35h-1.77zM772.12 555.6h1.77v1.35h-1.77zM772.12 558.2h1.77v1.35h-1.77zM773.85 553h1.77v1.35h-1.77zM773.85 556.9h1.77v1.35h-1.77zM773.85 559.5h1.77v1.35h-1.77zM773.85 562.1h1.77v1.35h-1.77zM775.57 559.5h1.77v1.35h-1.77zM775.57 560.8h1.77v1.35h-1.77zM775.57 562.1h1.77v1.35h-1.77zM777.29 560.8h1.77v1.35h-1.77zM779.01 555.6h1.77v1.35h-1.77zM779.01 556.9h1.77v1.35h-1.77zM779.01 558.2h1.77v1.35h-1.77zM780.73 559.5h1.77v1.35h-1.77zM780.73 560.8h1.77v1.35h-1.77zM782.45 560.8h1.77v1.35h-1.77zM784.17 555.6h1.77v1.35h-1.77zM784.17 556.9h1.77v1.35h-1.77zM785.89 554.3h1.77v1.35h-1.77zM785.89 559.5h1.77v1.35h-1.77zM785.89 560.8h1.77v1.35h-1.77zM787.61 571.2h1.77v1.35h-1.77zM789.33 572.5h1.77v1.35h-1.77zM791.05 575.1h1.77v1.35h-1.77zM796.21 573.8h1.77v1.35h-1.77zM797.93 564.7h1.77v1.35h-1.77zM797.93 566h1.77v1.35h-1.77zM801.37 562.1h1.77v1.35h-1.77zM801.37 563.4h1.77v1.35h-1.77zM803.09 558.2h1.77v1.35h-1.77zM803.09 559.5h1.77v1.35h-1.77zM803.09 560.8h1.77v1.35h-1.77zM808.25 556.9h1.77v1.35h-1.77zM808.25 566h1.77v1.35h-1.77zM811.69 556.9h1.77v1.35h-1.77zM811.69 558.2h1.77v1.35h-1.77zM811.69 563.4h1.77v1.35h-1.77zM811.69 567.3h1.77v1.35h-1.77zM813.41 554.3h1.77v1.35h-1.77zM815.13 558.2h1.77v1.35h-1.77zM818.57 553h1.77v1.35h-1.77zM818.57 556.9h1.77v1.35h-1.77zM818.57 559.5h1.77v1.35h-1.77zM818.57 562.1h1.77v1.35h-1.77zM818.57 564.7h1.77v1.35h-1.77zM820.29 560.8h1.77v1.35h-1.77zM820.29 564.7h1.77v1.35h-1.77zM822.01 564.7h1.77v1.35h-1.77zM822.01 568.6h1.77v1.35h-1.77zM823.73 558.2h1.77v1.35h-1.77zM823.73 560.8h1.77v1.35h-1.77zM825.45 564.7h1.77v1.35h-1.77zM825.45 566h1.77v1.35h-1.77zM827.17 571.2h1.77v1.35h-1.77zM827.17 572.5h1.77v1.35h-1.77zM827.17 575.1h1.77v1.35h-1.77zM827.17 576.4h1.77v1.35h-1.77zM828.89 573.8h1.77v1.35h-1.77zM842.65 564.7h1.77v1.35h-1.77zM842.65 567.3h1.77v1.35h-1.77zM844.38 554.3h1.77v1.35h-1.77zM844.38 556.9h1.77v1.35h-1.77zM844.38 564.7h1.77v1.35h-1.77zM846.1 562.1h1.77v1.35h-1.77zM846.1 568.6h1.77v1.35h-1.77zM847.82 567.3h1.77v1.35h-1.77zM847.82 568.6h1.77v1.35h-1.77zM849.54 573.8h1.77v1.35h-1.77zM852.98 566h1.77v1.35h-1.77zM852.98 567.3h1.77v1.35h-1.77zM854.7 564.7h1.77v1.35h-1.77zM856.42 564.7h1.77v1.35h-1.77zM856.42 566h1.77v1.35h-1.77zM856.42 568.6h1.77v1.35h-1.77zM858.14 555.6h1.77v1.35h-1.77zM858.14 562.1h1.77v1.35h-1.77zM859.86 555.6h1.77v1.35h-1.77zM859.86 567.3h1.77v1.35h-1.77zM859.86 568.6h1.77v1.35h-1.77zM859.86 569.9h1.77v1.35h-1.77zM859.86 572.5h1.77v1.35h-1.77zM861.58 553h1.77v1.35h-1.77zM861.58 562.1h1.77v1.35h-1.77zM863.3 560.8h1.77v1.35h-1.77zM865.02 556.9h1.77v1.35h-1.77zM865.02 562.1h1.77v1.35h-1.77zM866.74 560.8h1.77v1.35h-1.77zM866.74 563.4h1.77v1.35h-1.77zM870.18 569.9h1.77v1.35h-1.77zM871.9 558.2h1.77v1.35h-1.77zM871.9 559.5h1.77v1.35h-1.77zM871.9 567.3h1.77v1.35h-1.77zM873.62 560.8h1.77v1.35h-1.77zM873.62 566h1.77v1.35h-1.77zM873.62 567.3h1.77v1.35h-1.77zM873.62 568.6h1.77v1.35h-1.77zM875.34 556.9h1.77v1.35h-1.77zM875.34 560.8h1.77v1.35h-1.77zM875.34 562.1h1.77v1.35h-1.77zM877.06 559.5h1.77v1.35h-1.77zM877.06 562.1h1.77v1.35h-1.77zM878.78 553h1.77v1.35h-1.77zM878.78 559.5h1.77v1.35h-1.77zM878.78 560.8h1.77v1.35h-1.77zM878.78 562.1h1.77v1.35h-1.77z"/>
<path fill="#fdb92c" d="M591.5 564.7h1.77v1.35h-1.77zM593.22 566h1.77v1.35h-1.77zM605.26 555.6h1.77v1.35h-1.77zM605.26 556.9h1.77v1.35h-1.77zM605.26 558.2h1.77v1.35h-1.77zM606.98 555.6h1.77v1.35h-1.77zM608.7 553h1.77v1.35h-1.77zM608.7 555.6h1.77v1.35h-1.77zM608.7 558.2h1.77v1.35h-1.77zM608.7 559.5h1.77v1.35h-1.77zM610.42 554.3h1.77v1.35h-1.77zM617.3 593.35h1.77v2.1h-1.77zM646.55 560.8h1.77v1.35h-1.77zM648.27 564.7h1.77v1.35h-1.77zM651.71 563.4h1.77v1.35h-1.77zM655.15 562.1h1.77v1.35h-1.77zM656.87 560.8h1.77v1.35h-1.77zM658.59 558.2h1.77v1.35h-1.77zM658.59 609.75h1.77v2.1h-1.77zM660.31 560.8h1.77v1.35h-1.77zM662.03 558.2h1.77v1.35h-1.77zM662.03 559.5h1.77v1.35h-1.77zM665.47 553h1.77v1.35h-1.77zM665.47 555.6h1.77v1.35h-1.77zM665.47 556.9h1.77v1.35h-1.77zM667.19 554.3h1.77v1.35h-1.77zM706.76 564.7h1.77v1.35h-1.77zM708.48 558.2h1.77v1.35h-1.77zM708.48 560.8h1.77v1.35h-1.77zM710.2 560.8h1.77v1.35h-1.77zM711.92 556.9h1.77v1.35h-1.77zM713.64 564.7h1.77v1.35h-1.77zM715.36 563.4h1.77v1.35h-1.77zM715.36 564.7h1.77v1.35h-1.77zM717.08 568.6h1.77v1.35h-1.77zM720.52 567.3h1.77v1.35h-1.77zM723.96 577.7h1.77v1.35h-1.77zM730.84 559.5h1.77v1.35h-1.77zM730.84 560.8h1.77v1.35h-1.77zM732.56 562.1h1.77v1.35h-1.77zM736 554.3h1.77v1.35h-1.77zM737.72 555.6h1.77v1.35h-1.77zM737.72 556.9h1.77v1.35h-1.77zM756.64 577.7h1.77v1.35h-1.77zM773.85 558.2h1.77v1.35h-1.77zM773.85 599.5h1.77v2.1h-1.77zM775.57 558.2h1.77v1.35h-1.77zM779.01 553h1.77v1.35h-1.77zM779.01 554.3h1.77v1.35h-1.77zM780.73 553h1.77v1.35h-1.77zM780.73 555.6h1.77v1.35h-1.77zM782.45 559.5h1.77v1.35h-1.77zM782.45 562.1h1.77v1.35h-1.77zM784.17 554.3h1.77v1.35h-1.77zM784.17 558.2h1.77v1.35h-1.77zM784.17 559.5h1.77v1.35h-1.77zM784.17 563.4h1.77v1.35h-1.77zM785.89 553h1.77v1.35h-1.77zM785.89 555.6h1.77v1.35h-1.77zM787.61 569.9h1.77v1.35h-1.77zM792.77 571.2h1.77v1.35h-1.77zM794.49 575.1h1.77v1.35h-1.77zM796.21 560.8h1.77v1.35h-1.77zM796.21 569.9h1.77v1.35h-1.77zM797.93 554.3h1.77v1.35h-1.77zM797.93 558.2h1.77v1.35h-1.77zM797.93 562.1h1.77v1.35h-1.77zM797.93 563.4h1.77v1.35h-1.77zM799.65 558.2h1.77v1.35h-1.77zM799.65 560.8h1.77v1.35h-1.77zM799.65 562.1h1.77v1.35h-1.77zM801.37 553h1.77v1.35h-1.77zM801.37 556.9h1.77v1.35h-1.77zM801.37 566h1.77v1.35h-1.77zM801.37 567.3h1.77v1.35h-1.77zM803.09 554.3h1.77v1.35h-1.77zM804.81 554.3h1.77v1.35h-1.77zM804.81 560.8h1.77v1.35h-1.77zM806.53 556.9h1.77v1.35h-1.77zM806.53 560.8h1.77v1.35h-1.77zM806.53 563.4h1.77v1.35h-1.77zM808.25 564.7h1.77v1.35h-1.77zM809.97 558.2h1.77v1.35h-1.77zM809.97 567.3h1.77v1.35h-1.77zM811.69 553h1.77v1.35h-1.77zM811.69 564.7h1.77v1.35h-1.77zM813.41 553h1.77v1.35h-1.77zM815.13 554.3h1.77v1.35h-1.77zM815.13 555.6h1.77v1.35h-1.77zM815.13 560.8h1.77v1.35h-1.77zM815.13 562.1h1.77v1.35h-1.77zM816.85 556.9h1.77v1.35h-1.77zM816.85 562.1h1.77v1.35h-1.77zM816.85 563.4h1.77v1.35h-1.77zM818.57 554.3h1.77v1.35h-1.77zM818.57 555.6h1.77v1.35h-1.77zM818.57 558.2h1.77v1.35h-1.77zM820.29 556.9h1.77v1.35h-1.77zM822.01 563.4h1.77v1.35h-1.77zM823.73 556.9h1.77v1.35h-1.77zM823.73 559.5h1.77v1.35h-1.77zM823.73 562.1h1.77v1.35h-1.77zM828.89 571.2h1.77v1.35h-1.77zM828.89 572.5h1.77v1.35h-1.77zM832.33 576.4h1.77v1.35h-1.77zM835.77 571.2h1.77v1.35h-1.77zM837.49 572.5h1.77v1.35h-1.77zM837.49 573.8h1.77v1.35h-1.77zM839.21 569.9h1.77v1.35h-1.77zM840.93 564.7h1.77v1.35h-1.77zM842.65 562.1h1.77v1.35h-1.77zM844.38 553h1.77v1.35h-1.77zM844.38 555.6h1.77v1.35h-1.77zM847.82 563.4h1.77v1.35h-1.77zM847.82 566h1.77v1.35h-1.77zM852.98 563.4h1.77v1.35h-1.77zM852.98 564.7h1.77v1.35h-1.77zM854.7 559.5h1.77v1.35h-1.77zM854.7 562.1h1.77v1.35h-1.77zM854.7 563.4h1.77v1.35h-1.77zM856.42 562.1h1.77v1.35h-1.77zM856.42 563.4h1.77v1.35h-1.77zM858.14 553h1.77v1.35h-1.77zM858.14 554.3h1.77v1.35h-1.77zM858.14 559.5h1.77v1.35h-1.77zM858.14 563.4h1.77v1.35h-1.77zM859.86 558.2h1.77v1.35h-1.77zM861.58 554.3h1.77v1.35h-1.77zM861.58 555.6h1.77v1.35h-1.77zM861.58 558.2h1.77v1.35h-1.77zM863.3 556.9h1.77v1.35h-1.77zM865.02 558.2h1.77v1.35h-1.77zM865.02 560.8h1.77v1.35h-1.77zM866.74 562.1h1.77v1.35h-1.77zM868.46 564.7h1.77v1.35h-1.77zM868.46 567.3h1.77v1.35h-1.77zM868.46 568.6h1.77v1.35h-1.77zM871.9 553h1.77v1.35h-1.77zM871.9 554.3h1.77v1.35h-1.77zM871.9 556.9h1.77v1.35h-1.77zM871.9 560.8h1.77v1.35h-1.77zM873.62 558.2h1.77v1.35h-1.77zM873.62 559.5h1.77v1.35h-1.77zM873.62 562.1h1.77v1.35h-1.77zM873.62 563.4h1.77v1.35h-1.77zM875.34 555.6h1.77v1.35h-1.77zM875.34 559.5h1.77v1.35h-1.77zM877.06 553h1.77v1.35h-1.77zM877.06 554.3h1.77v1.35h-1.77zM877.06 555.6h1.77v1.35h-1.77zM877.06 556.9h1.77v1.35h-1.77zM877.06 560.8h1.77v1.35h-1.77zM878.78 558.2h1.77v1.35h-1.77z"/>
<path fill="#fdb031" d="M593.22 564.7h1.77v1.35h-1.77zM594.94 568.6h1.77v1.35h-1.77zM596.66 567.3h1.77v1.35h-1.77zM598.38 566h1.77v1.35h-1.77zM601.82 558.2h1.77v1.35h-1.77zM601.82 559.5h1.77v1.35h-1.77zM603.54 558.2h1.77v1.35h-1.77zM603.54 559.5h1.77v1.35h-1.77zM606.98 554.3h1.77v1.35h-1.77zM608.7 556.9h1.77v1.35h-1.77zM644.83 556.9h1.77v1.35h-1.77zM646.55 555.6h1.77v1.35h-1.77zM649.99 562.1h1.77v1.35h-1.77zM653.43 563.4h1.77v1.35h-1.77zM655.15 558.2h1.77v1.35h-1.77zM655.15 560.8h1.77v1.35h-1.77zM658.59 555.6h1.77v1.35h-1.77zM662.03 556.9h1.77v1.35h-1.77zM667.19 553h1.77v1.35h-1.77zM672.35 595.4h1.77v2.1h-1.77zM708.48 559.5h1.77v1.35h-1.77zM711.92 560.8h1.77v1.35h-1.77zM722.24 567.3h1.77v1.35h-1.77zM727.4 572.5h1.77v1.35h-1.77zM730.84 556.9h1.77v1.35h-1.77zM734.28 564.7h1.77v1.35h-1.77zM737.72 553h1.77v1.35h-1.77zM773.85 555.6h1.77v1.35h-1.77zM775.57 553h1.77v1.35h-1.77zM775.57 554.3h1.77v1.35h-1.77zM775.57 556.9h1.77v1.35h-1.77zM782.45 553h1.77v1.35h-1.77zM782.45 554.3h1.77v1.35h-1.77zM782.45 558.2h1.77v1.35h-1.77zM784.17 553h1.77v1.35h-1.77zM785.89 558.2h1.77v1.35h-1.77zM787.61 568.6h1.77v1.35h-1.77zM789.33 573.8h1.77v1.35h-1.77zM791.05 613.85h1.77v2.1h-1.77zM792.77 572.5h1.77v1.35h-1.77zM796.21 609.75h1.77v2.1h-1.77zM796.21 613.85h1.77v2.1h-1.77zM797.93 556.9h1.77v1.35h-1.77zM799.65 554.3h1.77v1.35h-1.77zM799.65 555.6h1.77v1.35h-1.77zM801.37 554.3h1.77v1.35h-1.77zM801.37 559.5h1.77v1.35h-1.77zM801.37 560.8h1.77v1.35h-1.77zM803.09 556.9h1.77v1.35h-1.77zM803.09 562.1h1.77v1.35h-1.77zM804.81 553h1.77v1.35h-1.77zM804.81 556.9h1.77v1.35h-1.77zM806.53 558.2h1.77v1.35h-1.77zM806.53 559.5h1.77v1.35h-1.77zM808.25 558.2h1.77v1.35h-1.77zM808.25 559.5h1.77v1.35h-1.77zM808.25 560.8h1.77v1.35h-1.77zM809.97 560.8h1.77v1.35h-1.77zM809.97 562.1h1.77v1.35h-1.77zM809.97 564.7h1.77v1.35h-1.77zM809.97 568.6h1.77v1.35h-1.77zM811.69 554.3h1.77v1.35h-1.77zM811.69 560.8h1.77v1.35h-1.77zM813.41 555.6h1.77v1.35h-1.77zM813.41 556.9h1.77v1.35h-1.77zM813.41 560.8h1.77v1.35h-1.77zM816.85 559.5h1.77v1.35h-1.77zM816.85 560.8h1.77v1.35h-1.77zM820.29 555.6h1.77v1.35h-1.77zM820.29 558.2h1.77v1.35h-1.77zM820.29 559.5h1.77v1.35h-1.77zM822.01 554.3h1.77v1.35h-1.77zM822.01 556.9h1.77v1.35h-1.77zM822.01 558.2h1.77v1.35h-1.77zM822.01 559.5h1.77v1.35h-1.77zM825.45 556.9h1.77v1.35h-1.77zM825.45 559.5h1.77v1.35h-1.77zM825.45 560.8h1.77v1.35h-1.77zM827.17 562.1h1.77v1.35h-1.77zM828.89 569.9h1.77v1.35h-1.77zM830.61 566h1.77v1.35h-1.77zM835.77 622.05h1.77v4.15h-1.77zM842.65 558.2h1.77v1.35h-1.77zM842.65 563.4h1.77v1.35h-1.77zM846.1 560.8h1.77v1.35h-1.77zM846.1 566h1.77v1.35h-1.77zM847.82 554.3h1.77v1.35h-1.77zM847.82 560.8h1.77v1.35h-1.77zM847.82 562.1h1.77v1.35h-1.77zM847.82 564.7h1.77v1.35h-1.77zM849.54 564.7h1.77v1.35h-1.77zM849.54 568.6h1.77v1.35h-1.77zM849.54 571.2h1.77v1.35h-1.77zM852.98 555.6h1.77v1.35h-1.77zM852.98 556.9h1.77v1.35h-1.77zM854.7 556.9h1.77v1.35h-1.77zM854.7 560.8h1.77v1.35h-1.77zM858.14 556.9h1.77v1.35h-1.77zM858.14 558.2h1.77v1.35h-1.77zM858.14 560.8h1.77v1.35h-1.77zM859.86 553h1.77v1.35h-1.77zM859.86 560.8h1.77v1.35h-1.77zM861.58 556.9h1.77v1.35h-1.77zM861.58 560.8h1.77v1.35h-1.77zM863.3 558.2h1.77v1.35h-1.77zM863.3 562.1h1.77v1.35h-1.77zM865.02 553h1.77v1.35h-1.77zM866.74 553h1.77v1.35h-1.77zM866.74 556.9h1.77v1.35h-1.77zM868.46 553h1.77v1.35h-1.77zM868.46 554.3h1.77v1.35h-1.77zM868.46 555.6h1.77v1.35h-1.77zM868.46 559.5h1.77v1.35h-1.77zM868.46 569.9h1.77v1.35h-1.77zM870.18 556.9h1.77v1.35h-1.77zM870.18 566h1.77v1.35h-1.77zM871.9 555.6h1.77v1.35h-1.77zM871.9 562.1h1.77v1.35h-1.77zM873.62 553h1.77v1.35h-1.77zM873.62 554.3h1.77v1.35h-1.77zM873.62 556.9h1.77v1.35h-1.77zM873.62 564.7h1.77v1.35h-1.77zM875.34 553h1.77v1.35h-1.77zM875.34 554.3h1.77v1.35h-1.77zM877.06 563.4h1.77v1.35h-1.77zM878.78 554.3h1.77v1.35h-1.77z"/>
<path fill="#fca636" d="M591.5 563.4h1.77v1.35h-1.77zM596.66 566h1.77v1.35h-1.77zM596.66 568.6h1.77v1.35h-1.77zM600.1 560.8h1.77v1.35h-1.77zM601.82 553h1.77v1.35h-1.77zM601.82 555.6h1.77v1.35h-1.77zM601.82 556.9h1.77v1.35h-1.77zM603.54 555.6h1.77v1.35h-1.77zM610.42 553h1.77v1.35h-1.77zM610.42 585.15h1.77v2.1h-1.77zM644.83 555.6h1.77v1.35h-1.77zM649.99 563.4h1.77v1.35h-1.77zM651.71 559.5h1.77v1.35h-1.77zM653.43 611.8h1.77v2.1h-1.77zM658.59 556.9h1.77v1.35h-1.77zM660.31 559.5h1.77v1.35h-1.77zM663.75 553h1.77v1.35h-1.77zM701.6 576.4h1.77v1.35h-1.77zM710.2 563.4h1.77v1.35h-1.77zM711.92 558.2h1.77v1.35h-1.77zM711.92 564.7h1.77v1.35h-1.77zM720.52 568.6h1.77v1.35h-1.77zM727.4 571.2h1.77v1.35h-1.77zM729.12 560.8h1.77v1.35h-1.77zM729.12 562.1h1.77v1.35h-1.77zM730.84 553h1.77v1.35h-1.77zM730.84 558.2h1.77v1.35h-1.77zM734.28 562.1h1.77v1.35h-1.77zM736 558.2h1.77v1.35h-1.77zM766.96 626.15h1.77v4.15h-1.77zM782.45 555.6h1.77v1.35h-1.77zM782.45 556.9h1.77v1.35h-1.77zM789.33 571.2h1.77v1.35h-1.77zM791.05 573.8h1.77v1.35h-1.77zM792.77 568.6h1.77v1.35h-1.77zM792.77 569.9h1.77v1.35h-1.77zM794.49 572.5h1.77v1.35h-1.77zM794.49 573.8h1.77v1.35h-1.77zM799.65 559.5h1.77v1.35h-1.77zM801.37 558.2h1.77v1.35h-1.77zM804.81 559.5h1.77v1.35h-1.77zM808.25 555.6h1.77v1.35h-1.77zM808.25 589.25h1.77v2.1h-1.77zM809.97 559.5h1.77v1.35h-1.77zM813.41 559.5h1.77v1.35h-1.77zM816.85 553h1.77v1.35h-1.77zM816.85 554.3h1.77v1.35h-1.77zM816.85 555.6h1.77v1.35h-1.77zM816.85 558.2h1.77v1.35h-1.77zM818.57 560.8h1.77v1.35h-1.77zM820.29 553h1.77v1.35h-1.77zM820.29 562.1h1.77v1.35h-1.77zM822.01 560.8h1.77v1.35h-1.77zM822.01 562.1h1.77v1.35h-1.77zM823.73 554.3h1.77v1.35h-1.77zM825.45 554.3h1.77v1.35h-1.77zM827.17 555.6h1.77v1.35h-1.77zM827.17 564.7h1.77v1.35h-1.77zM827.17 569.9h1.77v1.35h-1.77zM827.17 573.8h1.77v1.35h-1.77zM830.61 562.1h1.77v1.35h-1.77zM830.61 564.7h1.77v1.35h-1.77zM832.33 573.8h1.77v1.35h-1.77zM834.05 569.9h1.77v1.35h-1.77zM834.05 571.2h1.77v1.35h-1.77zM835.77 569.9h1.77v1.35h-1.77zM839.21 556.9h1.77v1.35h-1.77zM839.21 563.4h1.77v1.35h-1.77zM839.21 567.3h1.77v1.35h-1.77zM840.93 553h1.77v1.35h-1.77zM840.93 560.8h1.77v1.35h-1.77zM842.65 555.6h1.77v1.35h-1.77zM842.65 556.9h1.77v1.35h-1.77zM846.1 553h1.77v1.35h-1.77zM846.1 556.9h1.77v1.35h-1.77zM846.1 563.4h1.77v1.35h-1.77zM849.54 567.3h1.77v1.35h-1.77zM851.26 564.7h1.77v1.35h-1.77zM851.26 566h1.77v1.35h-1.77zM851.26 567.3h1.77v1.35h-1.77zM852.98 553h1.77v1.35h-1.77zM852.98 558.2h1.77v1.35h-1.77zM852.98 559.5h1.77v1.35h-1.77zM854.7 553h1.77v1.35h-1.77zM854.7 554.3h1.77v1.35h-1.77zM854.7 555.6h1.77v1.35h-1.77zM854.7 558.2h1.77v1.35h-1.77zM856.42 558.2h1.77v1.35h-1.77zM856.42 559.5h1.77v1.35h-1.77zM859.86 554.3h1.77v1.35h-1.77zM859.86 562.1h1.77v1.35h-1.77zM859.86 563.4h1.77v1.35h-1.77zM863.3 553h1.77v1.35h-1.77zM863.3 554.3h1.77v1.35h-1.77zM863.3 555.6h1.77v1.35h-1.77zM866.74 554.3h1.77v1.35h-1.77zM866.74 559.5h1.77v1.35h-1.77zM868.46 558.2h1.77v1.35h-1.77zM868.46 562.1h1.77v1.35h-1.77zM870.18 560.8h1.77v1.35h-1.77zM870.18 567.3h1.77v1.35h-1.77zM870.18 568.6h1.77v1.35h-1.77zM873.62 555.6h1.77v1.35h-1.77zM877.06 558.2h1.77v1.35h-1.77zM878.78 555.6h1.77v1.35h-1.77z"/>
<path fill="#fa9d3b" d="M593.22 562.1h1.77v1.35h-1.77zM598.38 564.7h1.77v1.35h-1.77zM600.1 559.5h1.77v1.35h-1.77zM603.54 556.9h1.77v1.35h-1.77zM620.74 593.35h1.77v2.1h-1.77zM644.83 554.3h1.77v1.35h-1.77zM646.55 554.3h1.77v1.35h-1.77zM646.55 558.2h1.77v1.35h-1.77zM648.27 562.1h1.77v1.35h-1.77zM651.71 560.8h1.77v1.35h-1.77zM651.71 562.1h1.77v1.35h-1.77zM656.87 559.5h1.77v1.35h-1.77zM658.59 553h1.77v1.35h-1.77zM670.63 554.3h1.77v1.35h-1.77zM706.76 573.8h1.77v1.35h-1.77zM708.48 553h1.77v1.35h-1.77zM710.2 559.5h1.77v1.35h-1.77zM711.92 553h1.77v1.35h-1.77zM711.92 554.3h1.77v1.35h-1.77zM711.92 562.1h1.77v1.35h-1.77zM713.64 563.4h1.77v1.35h-1.77zM715.36 562.1h1.77v1.35h-1.77zM722.24 566h1.77v1.35h-1.77zM723.96 564.7h1.77v1.35h-1.77zM723.96 566h1.77v1.35h-1.77zM730.84 554.3h1.77v1.35h-1.77zM732.56 554.3h1.77v1.35h-1.77zM732.56 559.5h1.77v1.35h-1.77zM734.28 559.5h1.77v1.35h-1.77zM734.28 563.4h1.77v1.35h-1.77zM736 553h1.77v1.35h-1.77zM737.72 554.3h1.77v1.35h-1.77zM744.6 601.55h1.77v2.1h-1.77zM773.85 554.3h1.77v1.35h-1.77zM775.57 555.6h1.77v1.35h-1.77zM792.77 563.4h1.77v1.35h-1.77zM796.21 568.6h1.77v1.35h-1.77zM796.21 571.2h1.77v1.35h-1.77zM797.93 560.8h1.77v1.35h-1.77zM799.65 553h1.77v1.35h-1.77zM799.65 556.9h1.77v1.35h-1.77zM801.37 555.6h1.77v1.35h-1.77zM801.37 564.7h1.77v1.35h-1.77zM804.81 558.2h1.77v1.35h-1.77zM808.25 553h1.77v1.35h-1.77zM808.25 562.1h1.77v1.35h-1.77zM808.25 563.4h1.77v1.35h-1.77zM809.97 553h1.77v1.35h-1.77zM809.97 554.3h1.77v1.35h-1.77zM809.97 563.4h1.77v1.35h-1.77zM820.29 563.4h1.77v1.35h-1.77zM825.45 555.6h1.77v1.35h-1.77zM827.17 559.5h1.77v1.35h-1.77zM827.17 560.8h1.77v1.35h-1.77zM827.17 566h1.77v1.35h-1.77zM828.89 559.5h1.77v1.35h-1.77zM832.33 572.5h1.77v1.35h-1.77zM839.21 560.8h1.77v1.35h-1.77zM840.93 554.3h1.77v1.35h-1.77zM840.93 555.6h1.77v1.35h-1.77zM840.93 556.9h1.77v1.35h-1.77zM840.93 562.1h1.77v1.35h-1.77zM846.1 555.6h1.77v1.35h-1.77zM847.82 553h1.77v1.35h-1.77zM847.82 555.6h1.77v1.35h-1.77zM847.82 558.2h1.77v1.35h-1.77zM849.54 553h1.77v1.35h-1.77zM849.54 560.8h1.77v1.35h-1.77zM849.54 566h1.77v1.35h-1.77zM851.26 558.2h1.77v1.35h-1.77zM851.26 562.1h1.77v1.35h-1.77zM852.98 554.3h1.77v1.35h-1.77zM852.98 560.8h1.77v1.35h-1.77zM852.98 562.1h1.77v1.35h-1.77zM856.42 553h1.77v1.35h-1.77zM856.42 554.3h1.77v1.35h-1.77zM856.42 560.8h1.77v1.35h-1.77zM859.86 559.5h1.77v1.35h-1.77zM859.86 566h1.77v1.35h-1.77zM863.3 559.5h1.77v1.35h-1.77zM865.02 554.3h1.77v1.35h-1.77zM866.74 555.6h1.77v1.35h-1.77zM866.74 558.2h1.77v1.35h-1.77zM868.46 566h1.77v1.35h-1.77zM870.18 558.2h1.77v1.35h-1.77zM870.18 559.5h1.77v1.35h-1.77zM870.18 562.1h1.77v1.35h-1.77zM870.18 564.7h1.77v1.35h-1.77zM878.78 595.4h1.77v2.1h-1.77z"/>
<path fill="#f89441" d="M591.5 562.1h1.77v1.35h-1.77zM591.5 583.1h1.77v2.1h-1.77zM593.22 563.4h1.77v1.35h-1.77zM594.94 567.3h1.77v1.35h-1.77zM603.54 553h1.77v1.35h-1.77zM603.54 611.8h1.77v2.1h-1.77zM606.98 576.4h1.77v1.35h-1.77zM644.83 558.2h1.77v1.35h-1.77zM648.27 555.6h1.77v1.35h-1.77zM648.27 560.8h1.77v1.35h-1.77zM648.27 585.15h1.77v2.1h-1.77zM653.43 560.8h1.77v1.35h-1.77zM653.43 562.1h1.77v1.35h-1.77zM655.15 556.9h1.77v1.35h-1.77zM655.15 559.5h1.77v1.35h-1.77zM656.87 553h1.77v1.35h-1.77zM658.59 554.3h1.77v1.35h-1.77zM660.31 555.6h1.77v1.35h-1.77zM660.31 556.9h1.77v1.35h-1.77zM708.48 556.9h1.77v1.35h-1.77zM710.2 554.3h1.77v1.35h-1.77zM710.2 556.9h1.77v1.35h-1.77zM710.2 558.2h1.77v1.35h-1.77zM711.92 559.5h1.77v1.35h-1.77zM718.8 567.3h1.77v1.35h-1.77zM723.96 613.85h1.77v2.1h-1.77zM725.68 568.6h1.77v1.35h-1.77zM730.84 555.6h1.77v1.35h-1.77zM732.56 558.2h1.77v1.35h-1.77zM736 555.6h1.77v1.35h-1.77zM780.73 554.3h1.77v1.35h-1.77zM787.61 567.3h1.77v1.35h-1.77zM791.05 563.4h1.77v1.35h-1.77zM792.77 558.2h1.77v1.35h-1.77zM792.77 562.1h1.77v1.35h-1.77zM792.77 564.7h1.77v1.35h-1.77zM792.77 566h1.77v1.35h-1.77zM794.49 569.9h1.77v1.35h-1.77zM796.21 553h1.77v1.35h-1.77zM797.93 553h1.77v1.35h-1.77zM797.93 555.6h1.77v1.35h-1.77zM804.81 555.6h1.77v1.35h-1.77zM806.53 553h1.77v1.35h-1.77zM806.53 555.6h1.77v1.35h-1.77zM808.25 554.3h1.77v1.35h-1.77zM809.97 555.6h1.77v1.35h-1.77zM820.29 554.3h1.77v1.35h-1.77zM823.73 553h1.77v1.35h-1.77zM823.73 555.6h1.77v1.35h-1.77zM825.45 558.2h1.77v1.35h-1.77zM827.17 558.2h1.77v1.35h-1.77zM827.17 563.4h1.77v1.35h-1.77zM828.89 563.4h1.77v1.35h-1.77zM830.61 553h1.77v1.35h-1.77zM830.61 563.4h1.77v1.35h-1.77zM832.33 575.1h1.77v1.35h-1.77zM834.05 568.6h1.77v1.35h-1.77zM834.05 573.8h1.77v1.35h-1.77zM835.77 567.3h1.77v1.35h-1.77zM835.77 579h1.77v2.1h-1.77zM837.49 568.6h1.77v1.35h-1.77zM839.21 562.1h1.77v1.35h-1.77zM839.21 564.7h1.77v1.35h-1.77zM839.21 566h1.77v1.35h-1.77zM839.21 568.6h1.77v1.35h-1.77zM840.93 558.2h1.77v1.35h-1.77zM840.93 559.5h1.77v1.35h-1.77zM842.65 553h1.77v1.35h-1.77zM847.82 556.9h1.77v1.35h-1.77zM847.82 559.5h1.77v1.35h-1.77zM849.54 554.3h1.77v1.35h-1.77zM849.54 556.9h1.77v1.35h-1.77zM849.54 559.5h1.77v1.35h-1.77zM851.26 554.3h1.77v1.35h-1.77zM851.26 555.6h1.77v1.35h-1.77zM851.26 560.8h1.77v1.35h-1.77zM851.26 563.4h1.77v1.35h-1.77zM856.42 555.6h1.77v1.35h-1.77zM859.86 556.9h1.77v1.35h-1.77zM859.86 564.7h1.77v1.35h-1.77zM859.86 579h1.77v2.1h-1.77zM868.46 560.8h1.77v1.35h-1.77zM870.18 554.3h1.77v1.35h-1.77z"/>
<path fill="#f58c47" d="M601.82 554.3h1.77v1.35h-1.77zM605.26 553h1.77v1.35h-1.77zM606.98 553h1.77v1.35h-1.77zM644.83 553h1.77v1.35h-1.77zM646.55 556.9h1.77v1.35h-1.77zM649.99 587.2h1.77v2.1h-1.77zM656.87 558.2h1.77v1.35h-1.77zM662.03 554.3h1.77v1.35h-1.77zM708.48 554.3h1.77v1.35h-1.77zM713.64 562.1h1.77v1.35h-1.77zM715.36 559.5h1.77v1.35h-1.77zM718.8 566h1.77v1.35h-1.77zM725.68 567.3h1.77v1.35h-1.77zM727.4 569.9h1.77v1.35h-1.77zM729.12 554.3h1.77v1.35h-1.77zM729.12 556.9h1.77v1.35h-1.77zM729.12 558.2h1.77v1.35h-1.77zM732.56 556.9h1.77v1.35h-1.77zM734.28 560.8h1.77v1.35h-1.77zM787.61 563.4h1.77v1.35h-1.77zM787.61 564.7h1.77v1.35h-1.77zM789.33 568.6h1.77v1.35h-1.77zM789.33 569.9h1.77v1.35h-1.77zM791.05 571.2h1.77v1.35h-1.77zM792.77 555.6h1.77v1.35h-1.77zM792.77 567.3h1.77v1.35h-1.77zM796.21 567.3h1.77v1.35h-1.77zM822.01 553h1.77v1.35h-1.77zM827.17 554.3h1.77v1.35h-1.77zM827.17 568.6h1.77v1.35h-1.77zM828.89 564.7h1.77v1.35h-1.77zM828.89 567.3h1.77v1.35h-1.77zM828.89 568.6h1.77v1.35h-1.77zM834.05 609.75h1.77v2.1h-1.77zM837.49 571.2h1.77v1.35h-1.77zM839.21 554.3h1.77v1.35h-1.77zM840.93 583.1h1.77v2.1h-1.77zM842.65 554.3h1.77v1.35h-1.77zM842.65 559.5h1.77v1.35h-1.77zM846.1 554.3h1.77v1.35h-1.77zM846.1 559.5h1.77v1.35h-1.77zM849.54 593.35h1.77v2.1h-1.77zM856.42 556.9h1.77v1.35h-1.77z"/>
<path fill="#f2834c" d="M591.5 558.2h1.77v1.35h-1.77zM594.94 566h1.77v1.35h-1.77zM596.66 564.7h1.77v1.35h-1.77zM600.1 558.2h1.77v1.35h-1.77zM603.54 554.3h1.77v1.35h-1.77zM608.7 617.95h1.77v4.15h-1.77zM653.43 553h1.77v1.35h-1.77zM655.15 553h1.77v1.35h-1.77zM655.15 555.6h1.77v1.35h-1.77zM660.31 553h1.77v1.35h-1.77zM662.03 555.6h1.77v1.35h-1.77zM668.91 622.05h1.77v4.15h-1.77zM701.6 622.05h1.77v4.15h-1.77zM711.92 555.6h1.77v1.35h-1.77zM711.92 563.4h1.77v1.35h-1.77zM713.64 558.2h1.77v1.35h-1.77zM717.08 576.4h1.77v1.35h-1.77zM729.12 559.5h1.77v1.35h-1.77zM732.56 555.6h1.77v1.35h-1.77zM734.28 554.3h1.77v1.35h-1.77zM736 556.9h1.77v1.35h-1.77zM772.12 609.75h1.77v2.1h-1.77zM787.61 562.1h1.77v1.35h-1.77zM787.61 622.05h1.77v4.15h-1.77zM789.33 558.2h1.77v1.35h-1.77zM791.05 572.5h1.77v1.35h-1.77zM796.21 559.5h1.77v1.35h-1.77zM796.21 564.7h1.77v1.35h-1.77zM796.21 572.5h1.77v1.35h-1.77zM806.53 554.3h1.77v1.35h-1.77zM822.01 555.6h1.77v1.35h-1.77zM825.45 553h1.77v1.35h-1.77zM827.17 556.9h1.77v1.35h-1.77zM827.17 567.3h1.77v1.35h-1.77zM828.89 554.3h1.77v1.35h-1.77zM830.61 554.3h1.77v1.35h-1.77zM834.05 566h1.77v1.35h-1.77zM835.77 556.9h1.77v1.35h-1.77zM837.49 567.3h1.77v1.35h-1.77zM839.21 555.6h1.77v1.35h-1.77zM849.54 562.1h1.77v1.35h-1.77zM849.54 569.9h1.77v1.35h-1.77zM851.26 556.9h1.77v1.35h-1.77zM870.18 555.6h1.77v1.35h-1.77z"/>
<path fill="#ee7b52" d="M591.5 553h1.77v1.35h-1.77zM600.1 556.9h1.77v1.35h-1.77zM649.99 559.5h1.77v1.35h-1.77zM653.43 556.9h1.77v1.35h-1.77zM660.31 554.3h1.77v1.35h-1.77zM708.48 555.6h1.77v1.35h-1.77zM710.2 553h1.77v1.35h-1.77zM710.2 555.6h1.77v1.35h-1.77zM713.64 560.8h1.77v1.35h-1.77zM717.08 564.7h1.77v1.35h-1.77zM717.08 566h1.77v1.35h-1.77zM720.52 564.7h1.77v1.35h-1.77zM734.28 558.2h1.77v1.35h-1.77zM782.45 579h1.77v2.1h-1.77zM787.61 555.6h1.77v1.35h-1.77zM787.61 559.5h1.77v1.35h-1.77zM789.33 563.4h1.77v1.35h-1.77zM792.77 556.9h1.77v1.35h-1.77zM792.77 559.5h1.77v1.35h-1.77zM792.77 560.8h1.77v1.35h-1.77zM794.49 559.5h1.77v1.35h-1.77zM796.21 555.6h1.77v1.35h-1.77zM796.21 556.9h1.77v1.35h-1.77zM809.97 556.9h1.77v1.35h-1.77zM827.17 553h1.77v1.35h-1.77zM828.89 553h1.77v1.35h-1.77zM828.89 556.9h1.77v1.35h-1.77zM828.89 566h1.77v1.35h-1.77zM830.61 556.9h1.77v1.35h-1.77zM832.33 566h1.77v1.35h-1.77zM837.49 569.9h1.77v1.35h-1.77zM839.21 558.2h1.77v1.35h-1.77zM849.54 555.6h1.77v1.35h-1.77zM851.26 559.5h1.77v1.35h-1.77zM868.46 556.9h1.77v1.35h-1.77zM868.46 563.4h1.77v1.35h-1.77zM870.18 553h1.77v1.35h-1.77z"/>
<path fill="#e97357" d="M591.5 556.9h1.77v1.35h-1.77zM593.22 555.6h1.77v1.35h-1.77zM598.38 563.4h1.77v1.35h-1.77zM646.55 553h1.77v1.35h-1.77zM648.27 554.3h1.77v1.35h-1.77zM648.27 556.9h1.77v1.35h-1.77zM649.99 560.8h1.77v1.35h-1.77zM662.03 553h1.77v1.35h-1.77zM715.36 560.8h1.77v1.35h-1.77zM722.24 560.8h1.77v1.35h-1.77zM727.4 564.7h1.77v1.35h-1.77zM729.12 555.6h1.77v1.35h-1.77zM734.28 553h1.77v1.35h-1.77zM787.61 560.8h1.77v1.35h-1.77zM787.61 566h1.77v1.35h-1.77zM791.05 558.2h1.77v1.35h-1.77zM791.05 559.5h1.77v1.35h-1.77zM791.05 569.9h1.77v1.35h-1.77zM794.49 554.3h1.77v1.35h-1.77zM794.49 563.4h1.77v1.35h-1.77zM794.49 571.2h1.77v1.35h-1.77zM796.21 562.1h1.77v1.35h-1.77zM797.93 559.5h1.77v1.35h-1.77zM806.53 562.1h1.77v1.35h-1.77zM815.13 553h1.77v1.35h-1.77zM828.89 560.8h1.77v1.35h-1.77zM830.61 558.2h1.77v1.35h-1.77zM832.33 554.3h1.77v1.35h-1.77zM832.33 562.1h1.77v1.35h-1.77zM832.33 571.2h1.77v1.35h-1.77zM834.05 567.3h1.77v1.35h-1.77zM835.77 555.6h1.77v1.35h-1.77zM835.77 568.6h1.77v1.35h-1.77zM837.49 562.1h1.77v1.35h-1.77zM839.21 559.5h1.77v1.35h-1.77zM846.1 558.2h1.77v1.35h-1.77zM849.54 563.4h1.77v1.35h-1.77zM851.26 553h1.77v1.35h-1.77z"/>
<path fill="#e56b5d" d="M591.5 559.5h1.77v1.35h-1.77zM593.22 554.3h1.77v1.35h-1.77zM593.22 560.8h1.77v1.35h-1.77zM605.26 554.3h1.77v1.35h-1.77zM649.99 553h1.77v1.35h-1.77zM653.43 554.3h1.77v1.35h-1.77zM653.43 558.2h1.77v1.35h-1.77zM653.43 559.5h1.77v1.35h-1.77zM656.87 554.3h1.77v1.35h-1.77zM720.52 566h1.77v1.35h-1.77zM722.24 562.1h1.77v1.35h-1.77zM722.24 564.7h1.77v1.35h-1.77zM725.68 563.4h1.77v1.35h-1.77zM727.4 555.6h1.77v1.35h-1.77zM734.28 555.6h1.77v1.35h-1.77zM734.28 556.9h1.77v1.35h-1.77zM787.61 553h1.77v1.35h-1.77zM789.33 560.8h1.77v1.35h-1.77zM792.77 553h1.77v1.35h-1.77zM794.49 558.2h1.77v1.35h-1.77zM796.21 554.3h1.77v1.35h-1.77zM796.21 558.2h1.77v1.35h-1.77zM796.21 563.4h1.77v1.35h-1.77zM828.89 562.1h1.77v1.35h-1.77zM830.61 559.5h1.77v1.35h-1.77zM832.33 567.3h1.77v1.35h-1.77zM834.05 558.2h1.77v1.35h-1.77zM835.77 560.8h1.77v1.35h-1.77zM837.49 564.7h1.77v1.35h-1.77zM849.54 558.2h1.77v1.35h-1.77z"/>
<path fill="#e06362" d="M591.5 560.8h1.77v1.35h-1.77zM600.1 554.3h1.77v1.35h-1.77zM600.1 555.6h1.77v1.35h-1.77zM649.99 556.9h1.77v1.35h-1.77zM651.71 558.2h1.77v1.35h-1.77zM660.31 558.2h1.77v1.35h-1.77zM715.36 556.9h1.77v1.35h-1.77zM732.56 553h1.77v1.35h-1.77zM787.61 554.3h1.77v1.35h-1.77zM787.61 556.9h1.77v1.35h-1.77zM787.61 558.2h1.77v1.35h-1.77zM789.33 555.6h1.77v1.35h-1.77zM789.33 566h1.77v1.35h-1.77zM791.05 554.3h1.77v1.35h-1.77zM792.77 554.3h1.77v1.35h-1.77zM794.49 562.1h1.77v1.35h-1.77zM832.33 555.6h1.77v1.35h-1.77zM832.33 559.5h1.77v1.35h-1.77zM832.33 560.8h1.77v1.35h-1.77zM832.33 564.7h1.77v1.35h-1.77zM835.77 562.1h1.77v1.35h-1.77zM837.49 559.5h1.77v1.35h-1.77zM870.18 563.4h1.77v1.35h-1.77z"/>
<path fill="#db5c67" d="M598.38 562.1h1.77v1.35h-1.77zM648.27 553h1.77v1.35h-1.77zM656.87 556.9h1.77v1.35h-1.77zM713.64 553h1.77v1.35h-1.77zM713.64 559.5h1.77v1.35h-1.77zM717.08 567.3h1.77v1.35h-1.77zM722.24 556.9h1.77v1.35h-1.77zM722.24 563.4h1.77v1.35h-1.77zM727.4 563.4h1.77v1.35h-1.77zM727.4 567.3h1.77v1.35h-1.77zM789.33 553h1.77v1.35h-1.77zM789.33 556.9h1.77v1.35h-1.77zM789.33 567.3h1.77v1.35h-1.77zM791.05 556.9h1.77v1.35h-1.77zM791.05 566h1.77v1.35h-1.77zM791.05 568.6h1.77v1.35h-1.77zM794.49 556.9h1.77v1.35h-1.77zM794.49 564.7h1.77v1.35h-1.77zM830.61 555.6h1.77v1.35h-1.77zM835.77 558.2h1.77v1.35h-1.77zM837.49 554.3h1.77v1.35h-1.77zM837.49 556.9h1.77v1.35h-1.77zM837.49 558.2h1.77v1.35h-1.77zM837.49 560.8h1.77v1.35h-1.77zM839.21 553h1.77v1.35h-1.77z"/>
<path fill="#d6546d" d="M594.94 559.5h1.77v1.35h-1.77zM596.66 563.4h1.77v1.35h-1.77zM598.38 556.9h1.77v1.35h-1.77zM648.27 558.2h1.77v1.35h-1.77zM648.27 559.5h1.77v1.35h-1.77zM651.71 555.6h1.77v1.35h-1.77zM653.43 555.6h1.77v1.35h-1.77zM655.15 554.3h1.77v1.35h-1.77zM656.87 555.6h1.77v1.35h-1.77zM720.52 563.4h1.77v1.35h-1.77zM727.4 568.6h1.77v1.35h-1.77zM791.05 555.6h1.77v1.35h-1.77zM794.49 566h1.77v1.35h-1.77zM796.21 566h1.77v1.35h-1.77zM813.41 558.2h1.77v1.35h-1.77zM828.89 558.2h1.77v1.35h-1.77zM832.33 556.9h1.77v1.35h-1.77zM832.33 558.2h1.77v1.35h-1.77zM832.33 563.4h1.77v1.35h-1.77zM832.33 568.6h1.77v1.35h-1.77zM834.05 560.8h1.77v1.35h-1.77zM835.77 554.3h1.77v1.35h-1.77zM835.77 564.7h1.77v1.35h-1.77zM837.49 566h1.77v1.35h-1.77z"/>
<path fill="#d14d73" d="M591.5 555.6h1.77v1.35h-1.77zM600.1 553h1.77v1.35h-1.77zM651.71 553h1.77v1.35h-1.77zM715.36 555.6h1.77v1.35h-1.77zM718.8 563.4h1.77v1.35h-1.77zM723.96 563.4h1.77v1.35h-1.77zM725.68 564.7h1.77v1.35h-1.77zM727.4 559.5h1.77v1.35h-1.77zM727.4 560.8h1.77v1.35h-1.77zM727.4 562.1h1.77v1.35h-1.77zM791.05 562.1h1.77v1.35h-1.77zM794.49 553h1.77v1.35h-1.77zM794.49 568.6h1.77v1.35h-1.77zM830.61 560.8h1.77v1.35h-1.77zM832.33 569.9h1.77v1.35h-1.77zM834.05 559.5h1.77v1.35h-1.77zM834.05 563.4h1.77v1.35h-1.77zM835.77 566h1.77v1.35h-1.77z"/>
<path fill="#cb4679" d="M651.71 554.3h1.77v1.35h-1.77zM651.71 556.9h1.77v1.35h-1.77zM703.32 595.4h1.77v2.1h-1.77zM713.64 555.6h1.77v1.35h-1.77zM713.64 556.9h1.77v1.35h-1.77zM720.52 560.8h1.77v1.35h-1.77zM722.24 559.5h1.77v1.35h-1.77zM723.96 559.5h1.77v1.35h-1.77zM725.68 560.8h1.77v1.35h-1.77zM725.68 562.1h1.77v1.35h-1.77zM727.4 554.3h1.77v1.35h-1.77zM727.4 558.2h1.77v1.35h-1.77zM729.12 553h1.77v1.35h-1.77zM789.33 562.1h1.77v1.35h-1.77zM789.33 564.7h1.77v1.35h-1.77zM791.05 567.3h1.77v1.35h-1.77zM794.49 567.3h1.77v1.35h-1.77zM834.05 554.3h1.77v1.35h-1.77zM834.05 562.1h1.77v1.35h-1.77zM834.05 564.7h1.77v1.35h-1.77zM835.77 559.5h1.77v1.35h-1.77zM837.49 553h1.77v1.35h-1.77z"/>
<path fill="#c53f7f" d="M591.5 554.3h1.77v1.35h-1.77zM594.94 564.7h1.77v1.35h-1.77zM598.38 553h1.77v1.35h-1.77zM598.38 560.8h1.77v1.35h-1.77zM649.99 554.3h1.77v1.35h-1.77zM649.99 558.2h1.77v1.35h-1.77zM722.24 558.2h1.77v1.35h-1.77zM725.68 553h1.77v1.35h-1.77zM725.68 566h1.77v1.35h-1.77zM727.4 553h1.77v1.35h-1.77zM789.33 559.5h1.77v1.35h-1.77zM791.05 560.8h1.77v1.35h-1.77zM794.49 555.6h1.77v1.35h-1.77zM828.89 555.6h1.77v1.35h-1.77zM834.05 555.6h1.77v1.35h-1.77zM835.77 563.4h1.77v1.35h-1.77z"/>
<path fill="#be3885" d="M596.66 562.1h1.77v1.35h-1.77zM598.38 559.5h1.77v1.35h-1.77zM717.08 563.4h1.77v1.35h-1.77zM723.96 553h1.77v1.35h-1.77zM723.96 555.6h1.77v1.35h-1.77zM723.96 562.1h1.77v1.35h-1.77zM794.49 560.8h1.77v1.35h-1.77zM803.09 572.5h1.77v1.35h-1.77zM834.05 556.9h1.77v1.35h-1.77z"/>
<path fill="#b7308b" d="M593.22 556.9h1.77v1.35h-1.77zM594.94 556.9h1.77v1.35h-1.77zM598.38 555.6h1.77v1.35h-1.77zM718.8 562.1h1.77v1.35h-1.77zM720.52 558.2h1.77v1.35h-1.77zM722.24 555.6h1.77v1.35h-1.77zM723.96 560.8h1.77v1.35h-1.77zM725.68 556.9h1.77v1.35h-1.77zM727.4 556.9h1.77v1.35h-1.77zM834.05 553h1.77v1.35h-1.77zM837.49 555.6h1.77v1.35h-1.77z"/>
<path fill="#b02990" d="M593.22 553h1.77v1.35h-1.77zM593.22 558.2h1.77v1.35h-1.77zM593.22 559.5h1.77v1.35h-1.77zM594.94 563.4h1.77v1.35h-1.77zM598.38 558.2h1.77v1.35h-1.77zM713.64 554.3h1.77v1.35h-1.77zM725.68 559.5h1.77v1.35h-1.77zM763.52 626.15h1.77v4.15h-1.77zM789.33 554.3h1.77v1.35h-1.77zM832.33 553h1.77v1.35h-1.77z"/>
<path fill="#a82296" d="M649.99 555.6h1.77v1.35h-1.77zM715.36 554.3h1.77v1.35h-1.77zM717.08 553h1.77v1.35h-1.77zM722.24 554.3h1.77v1.35h-1.77zM727.4 566h1.77v1.35h-1.77z"/>
<path fill="#a01b9b" d="M594.94 562.1h1.77v1.35h-1.77zM596.66 560.8h1.77v1.35h-1.77zM715.36 553h1.77v1.35h-1.77zM715.36 558.2h1.77v1.35h-1.77zM717.08 554.3h1.77v1.35h-1.77zM720.52 555.6h1.77v1.35h-1.77zM720.52 562.1h1.77v1.35h-1.77zM723.96 556.9h1.77v1.35h-1.77zM723.96 558.2h1.77v1.35h-1.77zM723.96 576.4h1.77v1.35h-1.77zM725.68 558.2h1.77v1.35h-1.77zM835.77 553h1.77v1.35h-1.77zM837.49 563.4h1.77v1.35h-1.77z"/>
<path fill="#9814a0" d="M717.08 562.1h1.77v1.35h-1.77zM718.8 553h1.77v1.35h-1.77zM718.8 558.2h1.77v1.35h-1.77zM720.52 556.9h1.77v1.35h-1.77z"/>
<path fill="#8f0da3" d="M594.94 555.6h1.77v1.35h-1.77zM594.94 560.8h1.77v1.35h-1.77zM596.66 553h1.77v1.35h-1.77zM718.8 556.9h1.77v1.35h-1.77zM720.52 553h1.77v1.35h-1.77zM820.29 576.4h1.77v1.35h-1.77z"/>
<path fill="#8608a6" d="M717.08 560.8h1.77v1.35h-1.77zM720.52 554.3h1.77v1.35h-1.77zM723.96 554.3h1.77v1.35h-1.77zM725.68 554.3h1.77v1.35h-1.77zM791.05 553h1.77v1.35h-1.77zM791.05 564.7h1.77v1.35h-1.77z"/>
<path fill="#7d03a8" d="M596.66 556.9h1.77v1.35h-1.77zM598.38 554.3h1.77v1.35h-1.77zM717.08 555.6h1.77v1.35h-1.77zM720.52 559.5h1.77v1.35h-1.77zM722.24 553h1.77v1.35h-1.77z"/>
<path fill="#7302a8" d="M717.08 556.9h1.77v1.35h-1.77zM842.65 560.8h1.77v1.35h-1.77z"/>
<path fill="#6901a7" d="M594.94 558.2h1.77v1.35h-1.77zM718.8 559.5h1.77v1.35h-1.77zM718.8 560.8h1.77v1.35h-1.77zM718.8 564.7h1.77v1.35h-1.77z"/>
<path fill="#5f01a6" d="M717.08 559.5h1.77v1.35h-1.77z"/>
<path fill="#4b03a1" d="M594.94 553h1.77v1.35h-1.77zM594.94 554.3h1.77v1.35h-1.77zM596.66 554.3h1.77v1.35h-1.77zM725.68 555.6h1.77v1.35h-1.77z"/>
<path fill="#40049d" d="M718.8 554.3h1.77v1.35h-1.77z"/>
<path fill="#350598" d="M596.66 555.6h1.77v1.35h-1.77zM596.66 559.5h1.77v1.35h-1.77z"/>
<path fill="#0d0887" d="M596.66 558.2h1.77v1.35h-1.77zM717.08 558.2h1.77v1.35h-1.77zM718.8 555.6h1.77v1.35h-1.77z"/>
<rect x="613.1" y="552.5" width="13.9" height="3.5" fill="#fff" shape-rendering="crispEdges"/>
<rect x="628.9" y="552.5" width="14" height="3.5" fill="#fff" shape-rendering="crispEdges"/>
<rect x="672" y="552.5" width="37.9" height="3.5" fill="#fff" shape-rendering="crispEdges"/>
<rect x="733.8" y="552.5" width="38.3" height="3.5" fill="#fff" shape-rendering="crispEdges"/>
<rect x="818.8" y="552.5" width="2" height="3.5" fill="#fff" shape-rendering="crispEdges"/>
<rect x="720.2" y="552.5" width="1.9" height="388.5" fill="#fff" shape-rendering="crispEdges"/>
<rect x="592" y="920" width="16.1" height="41" fill="#fff" shape-rendering="crispEdges"/>
<rect x="599.9" y="878.9" width="1.3" height="41.4" fill="#fff" shape-rendering="crispEdges"/>
<rect x="610.1" y="920" width="2" height="41" fill="#fff" shape-rendering="crispEdges"/>
<rect x="608.1" y="940.5" width="2" height="20.5" fill="#fff" shape-rendering="crispEdges"/>
<rect x="612.1" y="940.4" width="206.1" height="20.6" fill="#fff" shape-rendering="crispEdges"/>
<rect x="822.9" y="940.5" width="2" height="20.5" fill="#fff" shape-rendering="crispEdges"/>
<rect x="828" y="940.5" width="2" height="20.5" fill="#fff" shape-rendering="crispEdges"/>
<rect x="831.9" y="900.2" width="1.1" height="60.8" fill="#fff" shape-rendering="crispEdges"/>
<rect x="833" y="877.8" width="2" height="83.2" fill="#fff" shape-rendering="crispEdges"/>
<rect x="835" y="878.9" width="4.2" height="82.1" fill="#fff" shape-rendering="crispEdges"/>
<rect x="841.9" y="940.5" width="4.1" height="20.5" fill="#fff" shape-rendering="crispEdges"/>
<rect x="591.5" y="552.5" width="289" height="409" fill="none" stroke="#000" stroke-width="1.11"/>
<path d="M586.64 552.5L591.5 552.5" stroke="#000" stroke-width="1.11"/>
<text class="d" x="573" y="557">0</text>
<path d="M586.64 603.5L591.5 603.5" stroke="#000" stroke-width="1.11"/>
<text class="d" x="555" y="608">250</text>
<path d="M586.64 654.5L591.5 654.5" stroke="#000" stroke-width="1.11"/>
<text class="d" x="555" y="659">500</text>
<path d="M586.64 705.5L591.5 705.5" stroke="#000" stroke-width="1.11"/>
<text class="d" x="555" y="711">750</text>
<path d="M586.64 756.5L591.5 756.5" stroke="#000" stroke-width="1.11"/>
<text class="d" x="546" y="762">1000</text>
<path d="M586.64 808.5L591.5 808.5" stroke="#000" stroke-width="1.11"/>
<text class="d" x="546" y="813">1250</text>
<path d="M586.64 859.5L591.5 859.5" stroke="#000" stroke-width="1.11"/>
<text class="d" x="546" y="864">1500</text>
<path d="M586.64 910.5L591.5 910.5" stroke="#000" stroke-width="1.11"/>
<text class="d" x="546" y="915">1750</text>
<path d="M586.64 961.5L591.5 961.5" stroke="#000" stroke-width="1.11"/>
<text class="d" x="546" y="967">2000</text>
<path d="M650.5 961.5L650.5 966.36" stroke="#000" stroke-width="1.11"/>
<text class="y" x="632" y="982">2020</text>
<path d="M713.5 961.5L713.5 966.36" stroke="#000" stroke-width="1.11"/>
<text class="y" x="695" y="982">2021</text>
<path d="M776.5 961.5L776.5 966.36" stroke="#000" stroke-width="1.11"/>
<text class="y" x="758" y="982">2022</text>
<path d="M839.5 961.5L839.5 966.36" stroke="#000" stroke-width="1.11"/>
<text class="y" x="821" y="982">2023</text>
<text class="T" x="735.3" y="543" text-anchor="middle">BBP700_ADJUSTED_RO</text>
<rect x="898.5" y="552.5" width="21" height="409" fill="url(#pl)"/>
<rect x="898.5" y="552.5" width="21" height="409" fill="none" stroke="#000" stroke-width="1.11"/>
<path d="M919.5 559.5L924.36 559.5" stroke="#000" stroke-width="1.11"/>
<text class="t" x="929" y="564">0<tspan dx="-1">.</tspan>008</text>
<path d="M919.5 610.5L924.36 610.5" stroke="#000" stroke-width="1.11"/>
<text class="t" x="929" y="616">0<tspan dx="-1">.</tspan>007</text>
<path d="M919.5 662.5L924.36 662.5" stroke="#000" stroke-width="1.11"/>
<text class="t" x="929" y="667">0<tspan dx="-1">.</tspan>006</text>
<path d="M919.5 713.5L924.36 713.5" stroke="#000" stroke-width="1.11"/>
<text class="t" x="929" y="719">0<tspan dx="-1">.</tspan>005</text>
<path d="M919.5 765.5L924.36 765.5" stroke="#000" stroke-width="1.11"/>
<text class="t" x="929" y="770">0<tspan dx="-1">.</tspan>004</text>
<path d="M919.5 816.5L924.36 816.5" stroke="#000" stroke-width="1.11"/>
<text class="t" x="929" y="822">0<tspan dx="-1">.</tspan>003</text>
<path d="M919.5 868.5L924.36 868.5" stroke="#000" stroke-width="1.11"/>
<text class="t" x="929" y="873">0<tspan dx="-1">.</tspan>002</text>
<path d="M919.5 919.5L924.36 919.5" stroke="#000" stroke-width="1.11"/>
<text class="t" x="929" y="925">0<tspan dx="-1">.</tspan>001</text>
</svg></body></html>
